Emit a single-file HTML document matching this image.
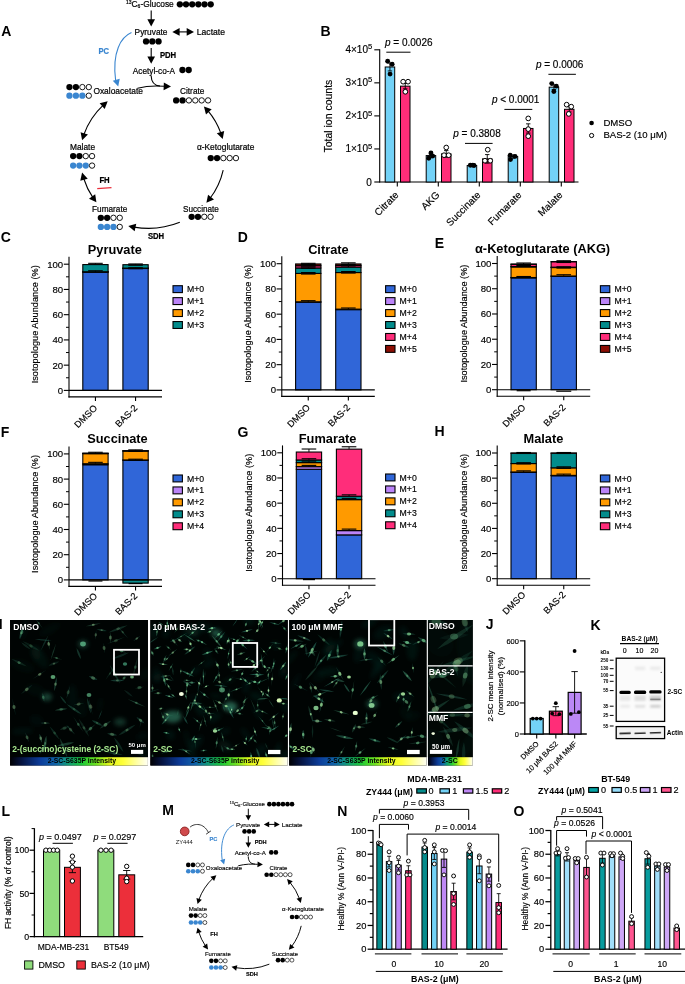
<!DOCTYPE html>
<html><head><meta charset="utf-8"><title>Figure</title>
<style>html,body{margin:0;padding:0;background:#fff}svg{display:block}text{font-family:"Liberation Sans",sans-serif}.t{stroke:#000;stroke-width:.16px}</style>
</head><body>
<svg width="685" height="984" viewBox="0 0 685 984">
<rect width="685" height="984" fill="#fff"/>
<text x="1.20" y="36.00" font-size="14" font-weight="bold">A</text>
<g>
<text x="126.00" y="6.70" font-size="8.35" stroke="#000" stroke-width="0.2"><tspan font-size="5" dy="-2.9">13</tspan><tspan dy="2.9">C</tspan><tspan font-size="5" dy="1.3">6</tspan><tspan dy="-1.3">-Glucose</tspan></text>
<circle cx="179.85" cy="4.30" r="3.15" fill="#000"/>
<circle cx="186.02" cy="4.30" r="3.15" fill="#000"/>
<circle cx="192.19" cy="4.30" r="3.15" fill="#000"/>
<circle cx="198.36" cy="4.30" r="3.15" fill="#000"/>
<circle cx="204.53" cy="4.30" r="3.15" fill="#000"/>
<circle cx="210.70" cy="4.30" r="3.15" fill="#000"/>
<line x1="151.20" y1="10.60" x2="151.20" y2="21.60" stroke="#000" stroke-width="1.1"/>
<polygon points="151.20,26.60 147.35,19.30 155.05,19.30" fill="#000"/>
<text x="134.60" y="35.10" font-size="8.2" textLength="32.9" lengthAdjust="spacingAndGlyphs" stroke="#000" stroke-width="0.2">Pyruvate</text>
<circle cx="146.05" cy="41.40" r="3.15" fill="#000"/>
<circle cx="152.30" cy="41.40" r="3.15" fill="#000"/>
<circle cx="158.55" cy="41.40" r="3.15" fill="#000"/>
<line x1="178.00" y1="31.90" x2="188.50" y2="31.90" stroke="#000" stroke-width="1.1"/>
<polygon points="172.30,31.90 179.60,28.05 179.60,35.75" fill="#000"/>
<polygon points="194.00,31.90 186.70,35.75 186.70,28.05" fill="#000"/>
<text x="196.80" y="35.10" font-size="8.2" textLength="28.2" lengthAdjust="spacingAndGlyphs" stroke="#000" stroke-width="0.2">Lactate</text>
<line x1="151.20" y1="48.00" x2="151.20" y2="58.70" stroke="#000" stroke-width="1.1"/>
<polygon points="151.20,63.70 147.35,56.40 155.05,56.40" fill="#000"/>
<text x="159.90" y="58.20" font-size="8.2" textLength="16.3" lengthAdjust="spacingAndGlyphs" font-weight="bold" stroke="#000" stroke-width="0.2">PDH</text>
<text x="132.80" y="73.50" font-size="8.2" textLength="42.2" lengthAdjust="spacingAndGlyphs" stroke="#000" stroke-width="0.2">Acetyl-co-A</text>
<circle cx="182.45" cy="70.00" r="3.15" fill="#000"/>
<circle cx="188.70" cy="70.00" r="3.15" fill="#000"/>
<path d="M131.5,32.6 C121,37 112,52 115.6,80" fill="none" stroke="#3a86d0" stroke-width="1.1"/>
<polygon points="118.20,86.60 112.79,80.64 119.73,78.70" fill="#3a86d0"/>
<text x="98.40" y="53.90" font-size="8.2" textLength="10.6" lengthAdjust="spacingAndGlyphs" font-weight="bold" fill="#3a86d0" stroke="#3a86d0" stroke-width="0.2">PC</text>
<circle cx="69.45" cy="87.10" r="3.15" fill="#000"/>
<circle cx="75.90" cy="87.10" r="3.15" fill="#000"/>
<circle cx="82.35" cy="87.10" r="2.70" fill="#fff" stroke="#000" stroke-width="0.9"/>
<circle cx="88.80" cy="87.10" r="2.70" fill="#fff" stroke="#000" stroke-width="0.9"/>
<circle cx="69.45" cy="95.70" r="3.15" fill="#3a86d0"/>
<circle cx="75.90" cy="95.70" r="3.15" fill="#3a86d0"/>
<circle cx="82.35" cy="95.70" r="3.15" fill="#3a86d0"/>
<circle cx="88.80" cy="95.70" r="2.70" fill="#fff" stroke="#000" stroke-width="0.9"/>
<text x="93.40" y="94.10" font-size="8.2" textLength="49.5" lengthAdjust="spacingAndGlyphs" stroke="#000" stroke-width="0.2">Oxaloacetate</text>
<path d="M137.5,88.2 C147,85.8 156,85.6 164,86.3" fill="none" stroke="#000" stroke-width="1.1"/>
<polygon points="171.00,86.60 163.55,90.16 163.86,82.46" fill="#000"/>
<path d="M151.1,75.5 C151.3,82 154,85.6 160,86" fill="none" stroke="#000" stroke-width="1.1"/>
<text x="180.00" y="94.10" font-size="8.2" textLength="24.4" lengthAdjust="spacingAndGlyphs" stroke="#000" stroke-width="0.2">Citrate</text>
<circle cx="176.15" cy="100.40" r="3.15" fill="#000"/>
<circle cx="182.53" cy="100.40" r="3.15" fill="#000"/>
<circle cx="188.91" cy="100.40" r="2.70" fill="#fff" stroke="#000" stroke-width="0.9"/>
<circle cx="195.29" cy="100.40" r="2.70" fill="#fff" stroke="#000" stroke-width="0.9"/>
<circle cx="201.67" cy="100.40" r="2.70" fill="#fff" stroke="#000" stroke-width="0.9"/>
<circle cx="208.05" cy="100.40" r="2.70" fill="#fff" stroke="#000" stroke-width="0.9"/>
<path d="M207.84,110.71 A74,74 0 0 1 220.94,133.43" fill="none" stroke="#000" stroke-width="1.1"/>
<polygon points="222.70,139.00 216.83,133.20 224.18,130.88" fill="#000"/>
<polygon points="203.90,106.40 211.67,109.19 205.99,114.39" fill="#000"/>
<text x="196.90" y="149.70" font-size="8.2" textLength="57.4" lengthAdjust="spacingAndGlyphs" stroke="#000" stroke-width="0.2">α-Ketoglutarate</text>
<circle cx="210.75" cy="158.10" r="3.15" fill="#000"/>
<circle cx="217.05" cy="158.10" r="3.15" fill="#000"/>
<circle cx="223.35" cy="158.10" r="2.70" fill="#fff" stroke="#000" stroke-width="0.9"/>
<circle cx="229.65" cy="158.10" r="2.70" fill="#fff" stroke="#000" stroke-width="0.9"/>
<circle cx="235.95" cy="158.10" r="2.70" fill="#fff" stroke="#000" stroke-width="0.9"/>
<path d="M223.20,170.10 A74,74 0 0 1 210.10,198.28" fill="none" stroke="#000" stroke-width="1.1"/>
<polygon points="206.40,202.80 208.05,194.71 214.00,199.59" fill="#000"/>
<text x="183.00" y="211.70" font-size="8.2" textLength="35.9" lengthAdjust="spacingAndGlyphs" stroke="#000" stroke-width="0.2">Succinate</text>
<circle cx="191.65" cy="216.80" r="3.15" fill="#000"/>
<circle cx="197.95" cy="216.80" r="3.15" fill="#000"/>
<circle cx="204.25" cy="216.80" r="2.70" fill="#fff" stroke="#000" stroke-width="0.9"/>
<circle cx="210.55" cy="216.80" r="2.70" fill="#fff" stroke="#000" stroke-width="0.9"/>
<path d="M179.80,222.30 A84,84 0 0 1 134.01,227.10" fill="none" stroke="#000" stroke-width="1.1"/>
<polygon points="128.30,225.90 136.24,223.64 134.65,231.17" fill="#000"/>
<text x="147.90" y="238.80" font-size="8.2" textLength="16.3" lengthAdjust="spacingAndGlyphs" font-weight="bold" stroke="#000" stroke-width="0.2">SDH</text>
<text x="92.10" y="211.70" font-size="8.2" textLength="35.2" lengthAdjust="spacingAndGlyphs" stroke="#000" stroke-width="0.2">Fumarate</text>
<circle cx="100.85" cy="217.80" r="3.15" fill="#000"/>
<circle cx="107.15" cy="217.80" r="3.15" fill="#000"/>
<circle cx="113.45" cy="217.80" r="2.70" fill="#fff" stroke="#000" stroke-width="0.9"/>
<circle cx="119.75" cy="217.80" r="2.70" fill="#fff" stroke="#000" stroke-width="0.9"/>
<circle cx="100.85" cy="226.90" r="3.15" fill="#3a86d0"/>
<circle cx="107.15" cy="226.90" r="3.15" fill="#3a86d0"/>
<circle cx="113.45" cy="226.90" r="3.15" fill="#3a86d0"/>
<circle cx="119.75" cy="226.90" r="2.70" fill="#fff" stroke="#000" stroke-width="0.9"/>
<path d="M92.94,197.60 A74,74 0 0 1 83.62,178.24" fill="none" stroke="#000" stroke-width="1.1"/>
<polygon points="82.10,172.60 87.72,178.64 80.28,180.65" fill="#000"/>
<polygon points="96.40,202.30 88.97,198.70 95.18,194.14" fill="#000"/>
<text x="99.40" y="183.40" font-size="8.2" textLength="10.3" lengthAdjust="spacingAndGlyphs" font-weight="bold" stroke="#000" stroke-width="0.2">FH</text>
<line x1="97.20" y1="188.60" x2="111.50" y2="187.60" stroke="#ea2f3c" stroke-width="1.4"/>
<text x="70.00" y="149.70" font-size="8.2" textLength="25.1" lengthAdjust="spacingAndGlyphs" stroke="#000" stroke-width="0.2">Malate</text>
<circle cx="73.15" cy="156.10" r="3.15" fill="#000"/>
<circle cx="79.45" cy="156.10" r="3.15" fill="#000"/>
<circle cx="85.75" cy="156.10" r="2.70" fill="#fff" stroke="#000" stroke-width="0.9"/>
<circle cx="92.05" cy="156.10" r="2.70" fill="#fff" stroke="#000" stroke-width="0.9"/>
<circle cx="73.15" cy="165.60" r="3.15" fill="#3a86d0"/>
<circle cx="79.45" cy="165.60" r="3.15" fill="#3a86d0"/>
<circle cx="85.75" cy="165.60" r="3.15" fill="#3a86d0"/>
<circle cx="92.05" cy="165.60" r="2.70" fill="#fff" stroke="#000" stroke-width="0.9"/>
<path d="M83.82,134.72 A74,74 0 0 1 103.27,105.10" fill="none" stroke="#000" stroke-width="1.1"/>
<polygon points="107.70,101.30 104.66,108.97 99.65,103.13" fill="#000"/>
<polygon points="82.10,140.30 80.58,132.19 87.93,134.46" fill="#000"/>
</g>
<text x="320.60" y="35.60" font-size="14" font-weight="bold">B</text>
<line x1="379.70" y1="49.30" x2="379.70" y2="182.50" stroke="#000" stroke-width="1.1"/>
<line x1="379.20" y1="182.00" x2="578.50" y2="182.00" stroke="#000" stroke-width="1.1"/>
<line x1="374.30" y1="182.00" x2="379.70" y2="182.00" stroke="#000" stroke-width="1.1"/>
<text x="371.90" y="185.50" font-size="10" text-anchor="end" class="t">0</text>
<line x1="374.30" y1="148.95" x2="379.70" y2="148.95" stroke="#000" stroke-width="1.1"/>
<text x="372.20" y="152.45" font-size="10" text-anchor="end" class="t">1×10<tspan font-size="7.6" dy="-3.9">5</tspan></text>
<line x1="374.30" y1="115.90" x2="379.70" y2="115.90" stroke="#000" stroke-width="1.1"/>
<text x="372.20" y="119.40" font-size="10" text-anchor="end" class="t">2×10<tspan font-size="7.6" dy="-3.9">5</tspan></text>
<line x1="374.30" y1="82.85" x2="379.70" y2="82.85" stroke="#000" stroke-width="1.1"/>
<text x="372.20" y="86.35" font-size="10" text-anchor="end" class="t">3×10<tspan font-size="7.6" dy="-3.9">5</tspan></text>
<line x1="374.30" y1="49.80" x2="379.70" y2="49.80" stroke="#000" stroke-width="1.1"/>
<text x="372.20" y="53.30" font-size="10" text-anchor="end" class="t">4×10<tspan font-size="7.6" dy="-3.9">5</tspan></text>
<text x="331.70" y="116.10" font-size="10.5" text-anchor="middle" transform="rotate(-90 331.70 116.10)" class="t">Total ion counts</text>
<rect x="385.20" y="66.99" width="9.50" height="115.01" fill="#73d2f7" stroke="#000" stroke-width="1.0"/>
<rect x="400.50" y="86.16" width="9.50" height="95.84" fill="#ff2d78" stroke="#000" stroke-width="1.0"/>
<line x1="389.95" y1="63.02" x2="389.95" y2="70.95" stroke="#000" stroke-width="0.9"/>
<line x1="387.75" y1="63.02" x2="392.15" y2="63.02" stroke="#000" stroke-width="0.9"/>
<line x1="387.75" y1="70.95" x2="392.15" y2="70.95" stroke="#000" stroke-width="0.9"/>
<line x1="405.25" y1="83.51" x2="405.25" y2="88.80" stroke="#000" stroke-width="0.9"/>
<line x1="403.05" y1="83.51" x2="407.45" y2="83.51" stroke="#000" stroke-width="0.9"/>
<line x1="403.05" y1="88.80" x2="407.45" y2="88.80" stroke="#000" stroke-width="0.9"/>
<circle cx="387.65" cy="61.20" r="2.45" fill="#000"/>
<circle cx="392.15" cy="64.21" r="2.45" fill="#000"/>
<circle cx="390.05" cy="74.09" r="2.45" fill="#000"/>
<circle cx="403.15" cy="81.69" r="2.35" fill="#fff" stroke="#000" stroke-width="1.0"/>
<circle cx="408.05" cy="81.69" r="2.35" fill="#fff" stroke="#000" stroke-width="1.0"/>
<circle cx="405.35" cy="91.77" r="2.35" fill="#fff" stroke="#000" stroke-width="1.0"/>
<line x1="397.30" y1="182.00" x2="397.30" y2="186.50" stroke="#000" stroke-width="1.1"/>
<text x="399.30" y="195.60" font-size="10" text-anchor="end" transform="rotate(-45 399.30 195.60)" class="t">Citrate</text>
<rect x="426.20" y="155.56" width="9.50" height="26.44" fill="#73d2f7" stroke="#000" stroke-width="1.0"/>
<rect x="441.50" y="153.91" width="9.50" height="28.09" fill="#ff2d78" stroke="#000" stroke-width="1.0"/>
<line x1="430.95" y1="153.91" x2="430.95" y2="157.21" stroke="#000" stroke-width="0.9"/>
<line x1="428.75" y1="153.91" x2="433.15" y2="153.91" stroke="#000" stroke-width="0.9"/>
<line x1="428.75" y1="157.21" x2="433.15" y2="157.21" stroke="#000" stroke-width="0.9"/>
<line x1="446.25" y1="150.60" x2="446.25" y2="157.21" stroke="#000" stroke-width="0.9"/>
<line x1="444.05" y1="150.60" x2="448.45" y2="150.60" stroke="#000" stroke-width="0.9"/>
<line x1="444.05" y1="157.21" x2="448.45" y2="157.21" stroke="#000" stroke-width="0.9"/>
<circle cx="430.95" cy="153.02" r="2.45" fill="#000"/>
<circle cx="428.75" cy="158.20" r="2.45" fill="#000"/>
<circle cx="432.75" cy="156.09" r="2.45" fill="#000"/>
<circle cx="446.25" cy="147.50" r="2.35" fill="#fff" stroke="#000" stroke-width="1.0"/>
<circle cx="444.05" cy="155.20" r="2.35" fill="#fff" stroke="#000" stroke-width="1.0"/>
<circle cx="448.65" cy="155.20" r="2.35" fill="#fff" stroke="#000" stroke-width="1.0"/>
<line x1="438.30" y1="182.00" x2="438.30" y2="186.50" stroke="#000" stroke-width="1.1"/>
<text x="440.30" y="195.60" font-size="10" text-anchor="end" transform="rotate(-45 440.30 195.60)" class="t">AKG</text>
<rect x="467.20" y="165.47" width="9.50" height="16.53" fill="#73d2f7" stroke="#000" stroke-width="1.0"/>
<rect x="482.50" y="158.87" width="9.50" height="23.13" fill="#ff2d78" stroke="#000" stroke-width="1.0"/>
<line x1="471.95" y1="164.48" x2="471.95" y2="166.47" stroke="#000" stroke-width="0.9"/>
<line x1="469.75" y1="164.48" x2="474.15" y2="164.48" stroke="#000" stroke-width="0.9"/>
<line x1="469.75" y1="166.47" x2="474.15" y2="166.47" stroke="#000" stroke-width="0.9"/>
<line x1="487.25" y1="154.57" x2="487.25" y2="163.16" stroke="#000" stroke-width="0.9"/>
<line x1="485.05" y1="154.57" x2="489.45" y2="154.57" stroke="#000" stroke-width="0.9"/>
<line x1="485.05" y1="163.16" x2="489.45" y2="163.16" stroke="#000" stroke-width="0.9"/>
<circle cx="470.35" cy="165.31" r="2.45" fill="#000"/>
<circle cx="472.85" cy="165.14" r="2.45" fill="#000"/>
<circle cx="474.05" cy="165.47" r="2.45" fill="#000"/>
<circle cx="487.75" cy="149.71" r="2.35" fill="#fff" stroke="#000" stroke-width="1.0"/>
<circle cx="484.95" cy="160.72" r="2.35" fill="#fff" stroke="#000" stroke-width="1.0"/>
<circle cx="490.25" cy="160.72" r="2.35" fill="#fff" stroke="#000" stroke-width="1.0"/>
<line x1="479.30" y1="182.00" x2="479.30" y2="186.50" stroke="#000" stroke-width="1.1"/>
<text x="481.30" y="195.60" font-size="10" text-anchor="end" transform="rotate(-45 481.30 195.60)" class="t">Succinate</text>
<rect x="508.20" y="156.55" width="9.50" height="25.45" fill="#73d2f7" stroke="#000" stroke-width="1.0"/>
<rect x="523.50" y="128.46" width="9.50" height="53.54" fill="#ff2d78" stroke="#000" stroke-width="1.0"/>
<line x1="512.95" y1="154.90" x2="512.95" y2="158.20" stroke="#000" stroke-width="0.9"/>
<line x1="510.75" y1="154.90" x2="515.15" y2="154.90" stroke="#000" stroke-width="0.9"/>
<line x1="510.75" y1="158.20" x2="515.15" y2="158.20" stroke="#000" stroke-width="0.9"/>
<line x1="528.25" y1="123.83" x2="528.25" y2="133.09" stroke="#000" stroke-width="0.9"/>
<line x1="526.05" y1="123.83" x2="530.45" y2="123.83" stroke="#000" stroke-width="0.9"/>
<line x1="526.05" y1="133.09" x2="530.45" y2="133.09" stroke="#000" stroke-width="0.9"/>
<circle cx="510.15" cy="155.23" r="2.45" fill="#000"/>
<circle cx="515.05" cy="156.39" r="2.45" fill="#000"/>
<circle cx="510.45" cy="159.53" r="2.45" fill="#000"/>
<circle cx="528.25" cy="118.41" r="2.35" fill="#fff" stroke="#000" stroke-width="1.0"/>
<circle cx="528.25" cy="129.12" r="2.35" fill="#fff" stroke="#000" stroke-width="1.0"/>
<circle cx="528.25" cy="136.19" r="2.35" fill="#fff" stroke="#000" stroke-width="1.0"/>
<line x1="520.30" y1="182.00" x2="520.30" y2="186.50" stroke="#000" stroke-width="1.1"/>
<text x="522.30" y="195.60" font-size="10" text-anchor="end" transform="rotate(-45 522.30 195.60)" class="t">Fumarate</text>
<rect x="549.20" y="87.15" width="9.50" height="94.85" fill="#73d2f7" stroke="#000" stroke-width="1.0"/>
<rect x="564.50" y="109.29" width="9.50" height="72.71" fill="#ff2d78" stroke="#000" stroke-width="1.0"/>
<line x1="553.95" y1="84.83" x2="553.95" y2="89.46" stroke="#000" stroke-width="0.9"/>
<line x1="551.75" y1="84.83" x2="556.15" y2="84.83" stroke="#000" stroke-width="0.9"/>
<line x1="551.75" y1="89.46" x2="556.15" y2="89.46" stroke="#000" stroke-width="0.9"/>
<line x1="569.25" y1="106.65" x2="569.25" y2="111.93" stroke="#000" stroke-width="0.9"/>
<line x1="567.05" y1="106.65" x2="571.45" y2="106.65" stroke="#000" stroke-width="0.9"/>
<line x1="567.05" y1="111.93" x2="571.45" y2="111.93" stroke="#000" stroke-width="0.9"/>
<circle cx="551.75" cy="83.61" r="2.45" fill="#000"/>
<circle cx="556.35" cy="86.16" r="2.45" fill="#000"/>
<circle cx="553.85" cy="91.44" r="2.45" fill="#000"/>
<circle cx="566.65" cy="104.66" r="2.35" fill="#fff" stroke="#000" stroke-width="1.0"/>
<circle cx="571.25" cy="106.65" r="2.35" fill="#fff" stroke="#000" stroke-width="1.0"/>
<circle cx="568.75" cy="113.92" r="2.35" fill="#fff" stroke="#000" stroke-width="1.0"/>
<line x1="561.30" y1="182.00" x2="561.30" y2="186.50" stroke="#000" stroke-width="1.1"/>
<text x="563.30" y="195.60" font-size="10" text-anchor="end" transform="rotate(-45 563.30 195.60)" class="t">Malate</text>
<text x="385.00" y="46.30" font-size="10" class="t"><tspan font-style="italic">p</tspan> = 0.0026</text>
<line x1="386.30" y1="52.20" x2="410.50" y2="52.20" stroke="#000" stroke-width="1.0"/>
<text x="453.20" y="136.60" font-size="10" class="t"><tspan font-style="italic">p</tspan> = 0.3808</text>
<line x1="465.00" y1="143.40" x2="492.60" y2="143.40" stroke="#000" stroke-width="1.0"/>
<text x="491.90" y="102.60" font-size="10" class="t"><tspan font-style="italic">p</tspan> &lt; 0.0001</text>
<line x1="504.40" y1="109.40" x2="532.30" y2="109.40" stroke="#000" stroke-width="1.0"/>
<text x="535.90" y="67.60" font-size="10" class="t"><tspan font-style="italic">p</tspan> = 0.0006</text>
<line x1="548.40" y1="74.30" x2="575.90" y2="74.30" stroke="#000" stroke-width="1.0"/>
<circle cx="591.60" cy="123.00" r="2.30" fill="#000"/>
<text x="603.40" y="125.90" font-size="9.6" class="t">DMSO</text>
<circle cx="591.60" cy="135.50" r="2.10" fill="#fff" stroke="#000" stroke-width="1.0"/>
<text x="603.40" y="138.40" font-size="9.6" class="t">BAS-2 (10 μM)</text>
<text x="0.80" y="242.20" font-size="14" font-weight="bold">C</text>
<text x="114.80" y="253.80" font-size="12.8" text-anchor="middle" font-weight="bold">Pyruvate</text>
<rect x="82.80" y="272.15" width="25.30" height="118.25" fill="#3066d8" stroke="#000" stroke-width="1.1"/>
<rect x="82.80" y="271.90" width="25.30" height="0.25" fill="#bb84f8" stroke="#000" stroke-width="1.1"/>
<rect x="82.80" y="271.77" width="25.30" height="0.13" fill="#ff9a00" stroke="#000" stroke-width="1.1"/>
<rect x="82.80" y="264.58" width="25.30" height="7.19" fill="#028c8c" stroke="#000" stroke-width="1.1"/>
<rect x="122.90" y="268.49" width="25.30" height="121.91" fill="#3066d8" stroke="#000" stroke-width="1.1"/>
<rect x="122.90" y="268.24" width="25.30" height="0.25" fill="#bb84f8" stroke="#000" stroke-width="1.1"/>
<rect x="122.90" y="268.11" width="25.30" height="0.13" fill="#ff9a00" stroke="#000" stroke-width="1.1"/>
<rect x="122.90" y="264.70" width="25.30" height="3.41" fill="#028c8c" stroke="#000" stroke-width="1.1"/>
<line x1="95.45" y1="271.90" x2="95.45" y2="270.76" stroke="#000" stroke-width="0.9"/>
<line x1="88.15" y1="270.76" x2="102.75" y2="270.76" stroke="#000" stroke-width="1.1"/>
<line x1="95.45" y1="264.45" x2="95.45" y2="263.32" stroke="#000" stroke-width="0.9"/>
<line x1="88.15" y1="263.32" x2="102.75" y2="263.32" stroke="#000" stroke-width="1.1"/>
<line x1="135.55" y1="268.24" x2="135.55" y2="267.73" stroke="#000" stroke-width="0.9"/>
<line x1="128.25" y1="267.73" x2="142.85" y2="267.73" stroke="#000" stroke-width="1.1"/>
<line x1="128.25" y1="268.74" x2="142.85" y2="268.74" stroke="#000" stroke-width="1.1"/>
<line x1="135.55" y1="264.58" x2="135.55" y2="263.95" stroke="#000" stroke-width="0.9"/>
<line x1="128.25" y1="263.95" x2="142.85" y2="263.95" stroke="#000" stroke-width="1.1"/>
<line x1="128.25" y1="265.21" x2="142.85" y2="265.21" stroke="#000" stroke-width="1.1"/>
<line x1="69.00" y1="256.80" x2="69.00" y2="397.45" stroke="#000" stroke-width="1.1"/>
<line x1="68.45" y1="396.90" x2="162.00" y2="396.90" stroke="#000" stroke-width="1.1"/>
<line x1="69.00" y1="390.40" x2="162.00" y2="390.40" stroke="#000" stroke-width="1.1"/>
<line x1="63.80" y1="390.40" x2="69.00" y2="390.40" stroke="#000" stroke-width="1.1"/>
<text x="63.20" y="393.80" font-size="9.6" text-anchor="end" class="t">0</text>
<line x1="66.00" y1="377.78" x2="69.00" y2="377.78" stroke="#000" stroke-width="1.0"/>
<line x1="63.80" y1="365.16" x2="69.00" y2="365.16" stroke="#000" stroke-width="1.1"/>
<text x="63.20" y="368.56" font-size="9.6" text-anchor="end" class="t">20</text>
<line x1="66.00" y1="352.54" x2="69.00" y2="352.54" stroke="#000" stroke-width="1.0"/>
<line x1="63.80" y1="339.92" x2="69.00" y2="339.92" stroke="#000" stroke-width="1.1"/>
<text x="63.20" y="343.32" font-size="9.6" text-anchor="end" class="t">40</text>
<line x1="66.00" y1="327.30" x2="69.00" y2="327.30" stroke="#000" stroke-width="1.0"/>
<line x1="63.80" y1="314.68" x2="69.00" y2="314.68" stroke="#000" stroke-width="1.1"/>
<text x="63.20" y="318.08" font-size="9.6" text-anchor="end" class="t">60</text>
<line x1="66.00" y1="302.06" x2="69.00" y2="302.06" stroke="#000" stroke-width="1.0"/>
<line x1="63.80" y1="289.44" x2="69.00" y2="289.44" stroke="#000" stroke-width="1.1"/>
<text x="63.20" y="292.84" font-size="9.6" text-anchor="end" class="t">80</text>
<line x1="66.00" y1="276.82" x2="69.00" y2="276.82" stroke="#000" stroke-width="1.0"/>
<line x1="63.80" y1="264.20" x2="69.00" y2="264.20" stroke="#000" stroke-width="1.1"/>
<text x="63.20" y="267.60" font-size="9.6" text-anchor="end" class="t">100</text>
<text x="38.40" y="324.30" font-size="9.2" text-anchor="middle" transform="rotate(-90 38.40 324.30)" class="t">Isotopologue Abundance (%)</text>
<line x1="95.45" y1="396.90" x2="95.45" y2="400.90" stroke="#000" stroke-width="1.1"/>
<text x="97.85" y="408.70" font-size="9.3" text-anchor="end" transform="rotate(-45 97.85 408.70)" class="t">DMSO</text>
<line x1="135.55" y1="396.90" x2="135.55" y2="400.90" stroke="#000" stroke-width="1.1"/>
<text x="137.95" y="408.70" font-size="9.3" text-anchor="end" transform="rotate(-45 137.95 408.70)" class="t">BAS-2</text>
<rect x="173.00" y="285.70" width="9.40" height="6.90" fill="#3066d8" stroke="#000" stroke-width="1.1"/>
<text x="187.00" y="292.20" font-size="8.7" class="t">M+0</text>
<rect x="173.00" y="297.65" width="9.40" height="6.90" fill="#bb84f8" stroke="#000" stroke-width="1.1"/>
<text x="187.00" y="304.15" font-size="8.7" class="t">M+1</text>
<rect x="173.00" y="309.60" width="9.40" height="6.90" fill="#ff9a00" stroke="#000" stroke-width="1.1"/>
<text x="187.00" y="316.10" font-size="8.7" class="t">M+2</text>
<rect x="173.00" y="321.55" width="9.40" height="6.90" fill="#028c8c" stroke="#000" stroke-width="1.1"/>
<text x="187.00" y="328.05" font-size="8.7" class="t">M+3</text>
<text x="237.80" y="242.20" font-size="14" font-weight="bold">D</text>
<text x="328.40" y="253.80" font-size="12.8" text-anchor="middle" font-weight="bold">Citrate</text>
<rect x="295.60" y="302.19" width="25.30" height="87.71" fill="#3066d8" stroke="#000" stroke-width="1.1"/>
<rect x="295.60" y="301.81" width="25.30" height="0.38" fill="#bb84f8" stroke="#000" stroke-width="1.1"/>
<rect x="295.60" y="273.42" width="25.30" height="28.40" fill="#ff9a00" stroke="#000" stroke-width="1.1"/>
<rect x="295.60" y="267.99" width="25.30" height="5.43" fill="#028c8c" stroke="#000" stroke-width="1.1"/>
<rect x="295.60" y="265.72" width="25.30" height="2.27" fill="#ff2d7a" stroke="#000" stroke-width="1.1"/>
<rect x="295.60" y="263.95" width="25.30" height="1.77" fill="#8c0e04" stroke="#000" stroke-width="1.1"/>
<rect x="335.70" y="309.64" width="25.30" height="80.26" fill="#3066d8" stroke="#000" stroke-width="1.1"/>
<rect x="335.70" y="309.13" width="25.30" height="0.50" fill="#bb84f8" stroke="#000" stroke-width="1.1"/>
<rect x="335.70" y="272.53" width="25.30" height="36.60" fill="#ff9a00" stroke="#000" stroke-width="1.1"/>
<rect x="335.70" y="267.11" width="25.30" height="5.43" fill="#028c8c" stroke="#000" stroke-width="1.1"/>
<rect x="335.70" y="265.47" width="25.30" height="1.64" fill="#ff2d7a" stroke="#000" stroke-width="1.1"/>
<rect x="335.70" y="263.95" width="25.30" height="1.51" fill="#8c0e04" stroke="#000" stroke-width="1.1"/>
<line x1="308.25" y1="301.81" x2="308.25" y2="300.68" stroke="#000" stroke-width="0.9"/>
<line x1="300.95" y1="300.68" x2="315.55" y2="300.68" stroke="#000" stroke-width="1.1"/>
<line x1="308.25" y1="273.29" x2="308.25" y2="272.53" stroke="#000" stroke-width="0.9"/>
<line x1="300.95" y1="272.53" x2="315.55" y2="272.53" stroke="#000" stroke-width="1.1"/>
<line x1="300.95" y1="274.05" x2="315.55" y2="274.05" stroke="#000" stroke-width="1.1"/>
<line x1="308.25" y1="267.74" x2="308.25" y2="267.11" stroke="#000" stroke-width="0.9"/>
<line x1="300.95" y1="267.11" x2="315.55" y2="267.11" stroke="#000" stroke-width="1.1"/>
<line x1="300.95" y1="268.37" x2="315.55" y2="268.37" stroke="#000" stroke-width="1.1"/>
<line x1="308.25" y1="265.47" x2="308.25" y2="264.84" stroke="#000" stroke-width="0.9"/>
<line x1="300.95" y1="264.84" x2="315.55" y2="264.84" stroke="#000" stroke-width="1.1"/>
<line x1="300.95" y1="266.10" x2="315.55" y2="266.10" stroke="#000" stroke-width="1.1"/>
<line x1="308.25" y1="263.95" x2="308.25" y2="263.32" stroke="#000" stroke-width="0.9"/>
<line x1="300.95" y1="263.32" x2="315.55" y2="263.32" stroke="#000" stroke-width="1.1"/>
<line x1="300.95" y1="264.58" x2="315.55" y2="264.58" stroke="#000" stroke-width="1.1"/>
<line x1="348.35" y1="309.13" x2="348.35" y2="308.00" stroke="#000" stroke-width="0.9"/>
<line x1="341.05" y1="308.00" x2="355.65" y2="308.00" stroke="#000" stroke-width="1.1"/>
<line x1="348.35" y1="272.28" x2="348.35" y2="271.52" stroke="#000" stroke-width="0.9"/>
<line x1="341.05" y1="271.52" x2="355.65" y2="271.52" stroke="#000" stroke-width="1.1"/>
<line x1="341.05" y1="273.04" x2="355.65" y2="273.04" stroke="#000" stroke-width="1.1"/>
<line x1="348.35" y1="267.11" x2="348.35" y2="265.09" stroke="#000" stroke-width="0.9"/>
<line x1="341.05" y1="265.09" x2="355.65" y2="265.09" stroke="#000" stroke-width="1.1"/>
<line x1="348.35" y1="265.21" x2="348.35" y2="264.46" stroke="#000" stroke-width="0.9"/>
<line x1="341.05" y1="264.46" x2="355.65" y2="264.46" stroke="#000" stroke-width="1.1"/>
<line x1="341.05" y1="265.97" x2="355.65" y2="265.97" stroke="#000" stroke-width="1.1"/>
<line x1="348.35" y1="263.83" x2="348.35" y2="262.82" stroke="#000" stroke-width="0.9"/>
<line x1="341.05" y1="262.82" x2="355.65" y2="262.82" stroke="#000" stroke-width="1.1"/>
<line x1="281.80" y1="256.30" x2="281.80" y2="396.95" stroke="#000" stroke-width="1.1"/>
<line x1="281.25" y1="396.40" x2="374.80" y2="396.40" stroke="#000" stroke-width="1.1"/>
<line x1="281.80" y1="389.90" x2="374.80" y2="389.90" stroke="#000" stroke-width="1.1"/>
<line x1="276.60" y1="389.90" x2="281.80" y2="389.90" stroke="#000" stroke-width="1.1"/>
<text x="276.00" y="393.30" font-size="9.6" text-anchor="end" class="t">0</text>
<line x1="278.80" y1="377.28" x2="281.80" y2="377.28" stroke="#000" stroke-width="1.0"/>
<line x1="276.60" y1="364.66" x2="281.80" y2="364.66" stroke="#000" stroke-width="1.1"/>
<text x="276.00" y="368.06" font-size="9.6" text-anchor="end" class="t">20</text>
<line x1="278.80" y1="352.04" x2="281.80" y2="352.04" stroke="#000" stroke-width="1.0"/>
<line x1="276.60" y1="339.42" x2="281.80" y2="339.42" stroke="#000" stroke-width="1.1"/>
<text x="276.00" y="342.82" font-size="9.6" text-anchor="end" class="t">40</text>
<line x1="278.80" y1="326.80" x2="281.80" y2="326.80" stroke="#000" stroke-width="1.0"/>
<line x1="276.60" y1="314.18" x2="281.80" y2="314.18" stroke="#000" stroke-width="1.1"/>
<text x="276.00" y="317.58" font-size="9.6" text-anchor="end" class="t">60</text>
<line x1="278.80" y1="301.56" x2="281.80" y2="301.56" stroke="#000" stroke-width="1.0"/>
<line x1="276.60" y1="288.94" x2="281.80" y2="288.94" stroke="#000" stroke-width="1.1"/>
<text x="276.00" y="292.34" font-size="9.6" text-anchor="end" class="t">80</text>
<line x1="278.80" y1="276.32" x2="281.80" y2="276.32" stroke="#000" stroke-width="1.0"/>
<line x1="276.60" y1="263.70" x2="281.80" y2="263.70" stroke="#000" stroke-width="1.1"/>
<text x="276.00" y="267.10" font-size="9.6" text-anchor="end" class="t">100</text>
<text x="251.20" y="323.80" font-size="9.2" text-anchor="middle" transform="rotate(-90 251.20 323.80)" class="t">Isotopologue Abundance (%)</text>
<line x1="308.25" y1="396.40" x2="308.25" y2="400.40" stroke="#000" stroke-width="1.1"/>
<text x="310.65" y="408.20" font-size="9.3" text-anchor="end" transform="rotate(-45 310.65 408.20)" class="t">DMSO</text>
<line x1="348.35" y1="396.40" x2="348.35" y2="400.40" stroke="#000" stroke-width="1.1"/>
<text x="350.75" y="408.20" font-size="9.3" text-anchor="end" transform="rotate(-45 350.75 408.20)" class="t">BAS-2</text>
<rect x="385.60" y="285.70" width="9.40" height="6.90" fill="#3066d8" stroke="#000" stroke-width="1.1"/>
<text x="399.60" y="292.20" font-size="8.7" class="t">M+0</text>
<rect x="385.60" y="297.65" width="9.40" height="6.90" fill="#bb84f8" stroke="#000" stroke-width="1.1"/>
<text x="399.60" y="304.15" font-size="8.7" class="t">M+1</text>
<rect x="385.60" y="309.60" width="9.40" height="6.90" fill="#ff9a00" stroke="#000" stroke-width="1.1"/>
<text x="399.60" y="316.10" font-size="8.7" class="t">M+2</text>
<rect x="385.60" y="321.55" width="9.40" height="6.90" fill="#028c8c" stroke="#000" stroke-width="1.1"/>
<text x="399.60" y="328.05" font-size="8.7" class="t">M+3</text>
<rect x="385.60" y="333.50" width="9.40" height="6.90" fill="#ff2d7a" stroke="#000" stroke-width="1.1"/>
<text x="399.60" y="340.00" font-size="8.7" class="t">M+4</text>
<rect x="385.60" y="345.45" width="9.40" height="6.90" fill="#8c0e04" stroke="#000" stroke-width="1.1"/>
<text x="399.60" y="351.95" font-size="8.7" class="t">M+5</text>
<text x="434.80" y="247.60" font-size="14" font-weight="bold">E</text>
<text x="475.00" y="252.80" font-size="12.8" font-weight="bold">α-Ketoglutarate (AKG)</text>
<rect x="511.00" y="277.89" width="25.30" height="111.81" fill="#3066d8" stroke="#000" stroke-width="1.1"/>
<rect x="511.00" y="277.51" width="25.30" height="0.38" fill="#bb84f8" stroke="#000" stroke-width="1.1"/>
<rect x="511.00" y="266.91" width="25.30" height="10.60" fill="#ff9a00" stroke="#000" stroke-width="1.1"/>
<rect x="511.00" y="266.53" width="25.30" height="0.38" fill="#028c8c" stroke="#000" stroke-width="1.1"/>
<rect x="511.00" y="264.38" width="25.30" height="2.15" fill="#ff2d7a" stroke="#000" stroke-width="1.1"/>
<rect x="511.00" y="264.00" width="25.30" height="0.38" fill="#8c0e04" stroke="#000" stroke-width="1.1"/>
<rect x="551.10" y="276.37" width="25.30" height="113.33" fill="#3066d8" stroke="#000" stroke-width="1.1"/>
<rect x="551.10" y="275.99" width="25.30" height="0.38" fill="#bb84f8" stroke="#000" stroke-width="1.1"/>
<rect x="551.10" y="267.54" width="25.30" height="8.46" fill="#ff9a00" stroke="#000" stroke-width="1.1"/>
<rect x="551.10" y="267.16" width="25.30" height="0.38" fill="#028c8c" stroke="#000" stroke-width="1.1"/>
<rect x="551.10" y="261.73" width="25.30" height="5.43" fill="#ff2d7a" stroke="#000" stroke-width="1.1"/>
<rect x="551.10" y="261.61" width="25.30" height="0.13" fill="#8c0e04" stroke="#000" stroke-width="1.1"/>
<line x1="516.65" y1="390.70" x2="530.65" y2="390.70" stroke="#000" stroke-width="1.2"/>
<line x1="556.25" y1="391.20" x2="571.25" y2="391.20" stroke="#000" stroke-width="1.2"/>
<line x1="523.65" y1="277.51" x2="523.65" y2="276.50" stroke="#000" stroke-width="0.9"/>
<line x1="516.35" y1="276.50" x2="530.95" y2="276.50" stroke="#000" stroke-width="1.1"/>
<line x1="523.65" y1="266.53" x2="523.65" y2="265.52" stroke="#000" stroke-width="0.9"/>
<line x1="516.35" y1="265.52" x2="530.95" y2="265.52" stroke="#000" stroke-width="1.1"/>
<line x1="523.65" y1="265.52" x2="523.65" y2="264.51" stroke="#000" stroke-width="0.9"/>
<line x1="516.35" y1="264.51" x2="530.95" y2="264.51" stroke="#000" stroke-width="1.1"/>
<line x1="523.65" y1="264.00" x2="523.65" y2="263.00" stroke="#000" stroke-width="0.9"/>
<line x1="516.35" y1="263.00" x2="530.95" y2="263.00" stroke="#000" stroke-width="1.1"/>
<line x1="563.75" y1="275.74" x2="563.75" y2="274.73" stroke="#000" stroke-width="0.9"/>
<line x1="556.45" y1="274.73" x2="571.05" y2="274.73" stroke="#000" stroke-width="1.1"/>
<line x1="563.75" y1="267.41" x2="563.75" y2="266.78" stroke="#000" stroke-width="0.9"/>
<line x1="556.45" y1="266.78" x2="571.05" y2="266.78" stroke="#000" stroke-width="1.1"/>
<line x1="556.45" y1="268.04" x2="571.05" y2="268.04" stroke="#000" stroke-width="1.1"/>
<line x1="563.75" y1="261.61" x2="563.75" y2="260.72" stroke="#000" stroke-width="0.9"/>
<line x1="556.45" y1="260.72" x2="571.05" y2="260.72" stroke="#000" stroke-width="1.1"/>
<line x1="556.45" y1="262.49" x2="571.05" y2="262.49" stroke="#000" stroke-width="1.1"/>
<line x1="497.20" y1="256.10" x2="497.20" y2="396.75" stroke="#000" stroke-width="1.1"/>
<line x1="496.65" y1="396.20" x2="590.20" y2="396.20" stroke="#000" stroke-width="1.1"/>
<line x1="497.20" y1="389.70" x2="590.20" y2="389.70" stroke="#000" stroke-width="1.1"/>
<line x1="492.00" y1="389.70" x2="497.20" y2="389.70" stroke="#000" stroke-width="1.1"/>
<text x="491.40" y="393.10" font-size="9.6" text-anchor="end" class="t">0</text>
<line x1="494.20" y1="377.08" x2="497.20" y2="377.08" stroke="#000" stroke-width="1.0"/>
<line x1="492.00" y1="364.46" x2="497.20" y2="364.46" stroke="#000" stroke-width="1.1"/>
<text x="491.40" y="367.86" font-size="9.6" text-anchor="end" class="t">20</text>
<line x1="494.20" y1="351.84" x2="497.20" y2="351.84" stroke="#000" stroke-width="1.0"/>
<line x1="492.00" y1="339.22" x2="497.20" y2="339.22" stroke="#000" stroke-width="1.1"/>
<text x="491.40" y="342.62" font-size="9.6" text-anchor="end" class="t">40</text>
<line x1="494.20" y1="326.60" x2="497.20" y2="326.60" stroke="#000" stroke-width="1.0"/>
<line x1="492.00" y1="313.98" x2="497.20" y2="313.98" stroke="#000" stroke-width="1.1"/>
<text x="491.40" y="317.38" font-size="9.6" text-anchor="end" class="t">60</text>
<line x1="494.20" y1="301.36" x2="497.20" y2="301.36" stroke="#000" stroke-width="1.0"/>
<line x1="492.00" y1="288.74" x2="497.20" y2="288.74" stroke="#000" stroke-width="1.1"/>
<text x="491.40" y="292.14" font-size="9.6" text-anchor="end" class="t">80</text>
<line x1="494.20" y1="276.12" x2="497.20" y2="276.12" stroke="#000" stroke-width="1.0"/>
<line x1="492.00" y1="263.50" x2="497.20" y2="263.50" stroke="#000" stroke-width="1.1"/>
<text x="491.40" y="266.90" font-size="9.6" text-anchor="end" class="t">100</text>
<text x="466.60" y="323.60" font-size="9.2" text-anchor="middle" transform="rotate(-90 466.60 323.60)" class="t">Isotopologue Abundance (%)</text>
<line x1="523.65" y1="396.20" x2="523.65" y2="400.20" stroke="#000" stroke-width="1.1"/>
<text x="526.05" y="408.00" font-size="9.3" text-anchor="end" transform="rotate(-45 526.05 408.00)" class="t">DMSO</text>
<line x1="563.75" y1="396.20" x2="563.75" y2="400.20" stroke="#000" stroke-width="1.1"/>
<text x="566.15" y="408.00" font-size="9.3" text-anchor="end" transform="rotate(-45 566.15 408.00)" class="t">BAS-2</text>
<rect x="600.40" y="285.70" width="9.40" height="6.90" fill="#3066d8" stroke="#000" stroke-width="1.1"/>
<text x="614.40" y="292.20" font-size="8.7" class="t">M+0</text>
<rect x="600.40" y="297.65" width="9.40" height="6.90" fill="#bb84f8" stroke="#000" stroke-width="1.1"/>
<text x="614.40" y="304.15" font-size="8.7" class="t">M+1</text>
<rect x="600.40" y="309.60" width="9.40" height="6.90" fill="#ff9a00" stroke="#000" stroke-width="1.1"/>
<text x="614.40" y="316.10" font-size="8.7" class="t">M+2</text>
<rect x="600.40" y="321.55" width="9.40" height="6.90" fill="#028c8c" stroke="#000" stroke-width="1.1"/>
<text x="614.40" y="328.05" font-size="8.7" class="t">M+3</text>
<rect x="600.40" y="333.50" width="9.40" height="6.90" fill="#ff2d7a" stroke="#000" stroke-width="1.1"/>
<text x="614.40" y="340.00" font-size="8.7" class="t">M+4</text>
<rect x="600.40" y="345.45" width="9.40" height="6.90" fill="#8c0e04" stroke="#000" stroke-width="1.1"/>
<text x="614.40" y="351.95" font-size="8.7" class="t">M+5</text>
<text x="0.80" y="437.30" font-size="14" font-weight="bold">F</text>
<text x="117.50" y="443.20" font-size="12.8" text-anchor="middle" font-weight="bold">Succinate</text>
<rect x="82.80" y="464.74" width="25.30" height="115.16" fill="#3066d8" stroke="#000" stroke-width="1.1"/>
<rect x="82.80" y="463.73" width="25.30" height="1.01" fill="#bb84f8" stroke="#000" stroke-width="1.1"/>
<rect x="82.80" y="453.65" width="25.30" height="10.08" fill="#ff9a00" stroke="#000" stroke-width="1.1"/>
<rect x="82.80" y="453.40" width="25.30" height="0.25" fill="#028c8c" stroke="#000" stroke-width="1.1"/>
<rect x="82.80" y="453.14" width="25.30" height="0.25" fill="#ff2d7a" stroke="#000" stroke-width="1.1"/>
<rect x="122.90" y="460.33" width="25.30" height="119.57" fill="#3066d8" stroke="#000" stroke-width="1.1"/>
<rect x="122.90" y="459.95" width="25.30" height="0.38" fill="#bb84f8" stroke="#000" stroke-width="1.1"/>
<rect x="122.90" y="451.00" width="25.30" height="8.95" fill="#ff9a00" stroke="#000" stroke-width="1.1"/>
<rect x="122.90" y="450.88" width="25.30" height="0.13" fill="#028c8c" stroke="#000" stroke-width="1.1"/>
<rect x="122.90" y="450.75" width="25.30" height="0.13" fill="#ff2d7a" stroke="#000" stroke-width="1.1"/>
<line x1="88.45" y1="581.00" x2="102.45" y2="581.00" stroke="#000" stroke-width="1.2"/>
<rect x="122.90" y="579.90" width="25.30" height="3.20" fill="#0a8c8c" stroke="#000" stroke-width="1.1"/>
<line x1="128.55" y1="583.60" x2="142.55" y2="583.60" stroke="#000" stroke-width="1.2"/>
<line x1="95.45" y1="463.48" x2="95.45" y2="462.34" stroke="#000" stroke-width="0.9"/>
<line x1="88.15" y1="462.34" x2="102.75" y2="462.34" stroke="#000" stroke-width="1.1"/>
<line x1="95.45" y1="452.89" x2="95.45" y2="452.26" stroke="#000" stroke-width="0.9"/>
<line x1="88.15" y1="452.26" x2="102.75" y2="452.26" stroke="#000" stroke-width="1.1"/>
<line x1="88.15" y1="453.52" x2="102.75" y2="453.52" stroke="#000" stroke-width="1.1"/>
<line x1="135.55" y1="459.82" x2="135.55" y2="459.19" stroke="#000" stroke-width="0.9"/>
<line x1="128.25" y1="459.19" x2="142.85" y2="459.19" stroke="#000" stroke-width="1.1"/>
<line x1="128.25" y1="460.45" x2="142.85" y2="460.45" stroke="#000" stroke-width="1.1"/>
<line x1="135.55" y1="450.62" x2="135.55" y2="449.87" stroke="#000" stroke-width="0.9"/>
<line x1="128.25" y1="449.87" x2="142.85" y2="449.87" stroke="#000" stroke-width="1.1"/>
<line x1="128.25" y1="451.38" x2="142.85" y2="451.38" stroke="#000" stroke-width="1.1"/>
<line x1="69.00" y1="446.50" x2="69.00" y2="586.95" stroke="#000" stroke-width="1.1"/>
<line x1="68.45" y1="586.40" x2="162.00" y2="586.40" stroke="#000" stroke-width="1.1"/>
<line x1="69.00" y1="579.90" x2="162.00" y2="579.90" stroke="#000" stroke-width="1.1"/>
<line x1="63.80" y1="579.90" x2="69.00" y2="579.90" stroke="#000" stroke-width="1.1"/>
<text x="63.20" y="583.30" font-size="9.6" text-anchor="end" class="t">0</text>
<line x1="66.00" y1="567.30" x2="69.00" y2="567.30" stroke="#000" stroke-width="1.0"/>
<line x1="63.80" y1="554.70" x2="69.00" y2="554.70" stroke="#000" stroke-width="1.1"/>
<text x="63.20" y="558.10" font-size="9.6" text-anchor="end" class="t">20</text>
<line x1="66.00" y1="542.10" x2="69.00" y2="542.10" stroke="#000" stroke-width="1.0"/>
<line x1="63.80" y1="529.50" x2="69.00" y2="529.50" stroke="#000" stroke-width="1.1"/>
<text x="63.20" y="532.90" font-size="9.6" text-anchor="end" class="t">40</text>
<line x1="66.00" y1="516.90" x2="69.00" y2="516.90" stroke="#000" stroke-width="1.0"/>
<line x1="63.80" y1="504.30" x2="69.00" y2="504.30" stroke="#000" stroke-width="1.1"/>
<text x="63.20" y="507.70" font-size="9.6" text-anchor="end" class="t">60</text>
<line x1="66.00" y1="491.70" x2="69.00" y2="491.70" stroke="#000" stroke-width="1.0"/>
<line x1="63.80" y1="479.10" x2="69.00" y2="479.10" stroke="#000" stroke-width="1.1"/>
<text x="63.20" y="482.50" font-size="9.6" text-anchor="end" class="t">80</text>
<line x1="66.00" y1="466.50" x2="69.00" y2="466.50" stroke="#000" stroke-width="1.0"/>
<line x1="63.80" y1="453.90" x2="69.00" y2="453.90" stroke="#000" stroke-width="1.1"/>
<text x="63.20" y="457.30" font-size="9.6" text-anchor="end" class="t">100</text>
<text x="38.40" y="513.90" font-size="9.2" text-anchor="middle" transform="rotate(-90 38.40 513.90)" class="t">Isotopologue Abundance (%)</text>
<line x1="95.45" y1="586.40" x2="95.45" y2="590.40" stroke="#000" stroke-width="1.1"/>
<text x="97.85" y="596.60" font-size="9.3" text-anchor="end" transform="rotate(-45 97.85 596.60)" class="t">DMSO</text>
<line x1="135.55" y1="586.40" x2="135.55" y2="590.40" stroke="#000" stroke-width="1.1"/>
<text x="137.95" y="596.60" font-size="9.3" text-anchor="end" transform="rotate(-45 137.95 596.60)" class="t">BAS-2</text>
<rect x="173.00" y="475.00" width="9.40" height="6.90" fill="#3066d8" stroke="#000" stroke-width="1.1"/>
<text x="187.00" y="481.50" font-size="8.7" class="t">M+0</text>
<rect x="173.00" y="486.95" width="9.40" height="6.90" fill="#bb84f8" stroke="#000" stroke-width="1.1"/>
<text x="187.00" y="493.45" font-size="8.7" class="t">M+1</text>
<rect x="173.00" y="498.90" width="9.40" height="6.90" fill="#ff9a00" stroke="#000" stroke-width="1.1"/>
<text x="187.00" y="505.40" font-size="8.7" class="t">M+2</text>
<rect x="173.00" y="510.85" width="9.40" height="6.90" fill="#028c8c" stroke="#000" stroke-width="1.1"/>
<text x="187.00" y="517.35" font-size="8.7" class="t">M+3</text>
<rect x="173.00" y="522.80" width="9.40" height="6.90" fill="#ff2d7a" stroke="#000" stroke-width="1.1"/>
<text x="187.00" y="529.30" font-size="8.7" class="t">M+4</text>
<text x="237.60" y="437.30" font-size="14" font-weight="bold">G</text>
<text x="327.60" y="442.80" font-size="12.8" text-anchor="middle" font-weight="bold">Fumarate</text>
<rect x="296.30" y="469.29" width="25.30" height="109.41" fill="#3066d8" stroke="#000" stroke-width="1.1"/>
<rect x="296.30" y="466.65" width="25.30" height="2.64" fill="#bb84f8" stroke="#000" stroke-width="1.1"/>
<rect x="296.30" y="462.62" width="25.30" height="4.03" fill="#ff9a00" stroke="#000" stroke-width="1.1"/>
<rect x="296.30" y="459.98" width="25.30" height="2.64" fill="#028c8c" stroke="#000" stroke-width="1.1"/>
<rect x="296.30" y="452.04" width="25.30" height="7.93" fill="#ff2d7a" stroke="#000" stroke-width="1.1"/>
<rect x="336.40" y="534.89" width="25.30" height="43.81" fill="#3066d8" stroke="#000" stroke-width="1.1"/>
<rect x="336.40" y="530.61" width="25.30" height="4.28" fill="#bb84f8" stroke="#000" stroke-width="1.1"/>
<rect x="336.40" y="499.63" width="25.30" height="30.97" fill="#ff9a00" stroke="#000" stroke-width="1.1"/>
<rect x="336.40" y="496.24" width="25.30" height="3.40" fill="#028c8c" stroke="#000" stroke-width="1.1"/>
<rect x="336.40" y="449.15" width="25.30" height="47.09" fill="#ff2d7a" stroke="#000" stroke-width="1.1"/>
<line x1="302.95" y1="579.60" x2="314.95" y2="579.60" stroke="#000" stroke-width="1.2"/>
<line x1="308.95" y1="466.65" x2="308.95" y2="465.39" stroke="#000" stroke-width="0.9"/>
<line x1="301.65" y1="465.39" x2="316.25" y2="465.39" stroke="#000" stroke-width="1.1"/>
<line x1="308.95" y1="462.49" x2="308.95" y2="461.11" stroke="#000" stroke-width="0.9"/>
<line x1="301.65" y1="461.11" x2="316.25" y2="461.11" stroke="#000" stroke-width="1.1"/>
<line x1="308.95" y1="459.85" x2="308.95" y2="458.72" stroke="#000" stroke-width="0.9"/>
<line x1="301.65" y1="458.72" x2="316.25" y2="458.72" stroke="#000" stroke-width="1.1"/>
<line x1="308.95" y1="452.04" x2="308.95" y2="449.02" stroke="#000" stroke-width="0.9"/>
<line x1="301.65" y1="449.02" x2="316.25" y2="449.02" stroke="#000" stroke-width="1.1"/>
<line x1="349.05" y1="530.48" x2="349.05" y2="529.10" stroke="#000" stroke-width="0.9"/>
<line x1="341.75" y1="529.10" x2="356.35" y2="529.10" stroke="#000" stroke-width="1.1"/>
<line x1="349.05" y1="499.38" x2="349.05" y2="498.38" stroke="#000" stroke-width="0.9"/>
<line x1="341.75" y1="498.38" x2="356.35" y2="498.38" stroke="#000" stroke-width="1.1"/>
<line x1="349.05" y1="495.98" x2="349.05" y2="494.85" stroke="#000" stroke-width="0.9"/>
<line x1="341.75" y1="494.85" x2="356.35" y2="494.85" stroke="#000" stroke-width="1.1"/>
<line x1="349.05" y1="449.15" x2="349.05" y2="446.76" stroke="#000" stroke-width="0.9"/>
<line x1="341.75" y1="446.76" x2="356.35" y2="446.76" stroke="#000" stroke-width="1.1"/>
<line x1="282.50" y1="445.40" x2="282.50" y2="585.75" stroke="#000" stroke-width="1.1"/>
<line x1="281.95" y1="585.20" x2="375.50" y2="585.20" stroke="#000" stroke-width="1.1"/>
<line x1="282.50" y1="578.70" x2="375.50" y2="578.70" stroke="#000" stroke-width="1.1"/>
<line x1="277.30" y1="578.70" x2="282.50" y2="578.70" stroke="#000" stroke-width="1.1"/>
<text x="276.70" y="582.10" font-size="9.6" text-anchor="end" class="t">0</text>
<line x1="279.50" y1="566.11" x2="282.50" y2="566.11" stroke="#000" stroke-width="1.0"/>
<line x1="277.30" y1="553.52" x2="282.50" y2="553.52" stroke="#000" stroke-width="1.1"/>
<text x="276.70" y="556.92" font-size="9.6" text-anchor="end" class="t">20</text>
<line x1="279.50" y1="540.93" x2="282.50" y2="540.93" stroke="#000" stroke-width="1.0"/>
<line x1="277.30" y1="528.34" x2="282.50" y2="528.34" stroke="#000" stroke-width="1.1"/>
<text x="276.70" y="531.74" font-size="9.6" text-anchor="end" class="t">40</text>
<line x1="279.50" y1="515.75" x2="282.50" y2="515.75" stroke="#000" stroke-width="1.0"/>
<line x1="277.30" y1="503.16" x2="282.50" y2="503.16" stroke="#000" stroke-width="1.1"/>
<text x="276.70" y="506.56" font-size="9.6" text-anchor="end" class="t">60</text>
<line x1="279.50" y1="490.57" x2="282.50" y2="490.57" stroke="#000" stroke-width="1.0"/>
<line x1="277.30" y1="477.98" x2="282.50" y2="477.98" stroke="#000" stroke-width="1.1"/>
<text x="276.70" y="481.38" font-size="9.6" text-anchor="end" class="t">80</text>
<line x1="279.50" y1="465.39" x2="282.50" y2="465.39" stroke="#000" stroke-width="1.0"/>
<line x1="277.30" y1="452.80" x2="282.50" y2="452.80" stroke="#000" stroke-width="1.1"/>
<text x="276.70" y="456.20" font-size="9.6" text-anchor="end" class="t">100</text>
<text x="251.90" y="512.75" font-size="9.2" text-anchor="middle" transform="rotate(-90 251.90 512.75)" class="t">Isotopologue Abundance (%)</text>
<line x1="308.95" y1="585.20" x2="308.95" y2="589.20" stroke="#000" stroke-width="1.1"/>
<text x="311.35" y="595.40" font-size="9.3" text-anchor="end" transform="rotate(-45 311.35 595.40)" class="t">DMSO</text>
<line x1="349.05" y1="585.20" x2="349.05" y2="589.20" stroke="#000" stroke-width="1.1"/>
<text x="351.45" y="595.40" font-size="9.3" text-anchor="end" transform="rotate(-45 351.45 595.40)" class="t">BAS-2</text>
<rect x="385.60" y="474.00" width="9.40" height="6.90" fill="#3066d8" stroke="#000" stroke-width="1.1"/>
<text x="399.60" y="480.50" font-size="8.7" class="t">M+0</text>
<rect x="385.60" y="485.95" width="9.40" height="6.90" fill="#bb84f8" stroke="#000" stroke-width="1.1"/>
<text x="399.60" y="492.45" font-size="8.7" class="t">M+1</text>
<rect x="385.60" y="497.90" width="9.40" height="6.90" fill="#ff9a00" stroke="#000" stroke-width="1.1"/>
<text x="399.60" y="504.40" font-size="8.7" class="t">M+2</text>
<rect x="385.60" y="509.85" width="9.40" height="6.90" fill="#028c8c" stroke="#000" stroke-width="1.1"/>
<text x="399.60" y="516.35" font-size="8.7" class="t">M+3</text>
<rect x="385.60" y="521.80" width="9.40" height="6.90" fill="#ff2d7a" stroke="#000" stroke-width="1.1"/>
<text x="399.60" y="528.30" font-size="8.7" class="t">M+4</text>
<text x="434.60" y="436.00" font-size="14" font-weight="bold">H</text>
<text x="543.40" y="443.20" font-size="12.8" text-anchor="middle" font-weight="bold">Malate</text>
<rect x="511.00" y="472.36" width="25.30" height="106.34" fill="#3066d8" stroke="#000" stroke-width="1.1"/>
<rect x="511.00" y="471.98" width="25.30" height="0.38" fill="#bb84f8" stroke="#000" stroke-width="1.1"/>
<rect x="511.00" y="463.56" width="25.30" height="8.42" fill="#ff9a00" stroke="#000" stroke-width="1.1"/>
<rect x="511.00" y="453.25" width="25.30" height="10.31" fill="#028c8c" stroke="#000" stroke-width="1.1"/>
<rect x="511.00" y="453.00" width="25.30" height="0.25" fill="#ff2d7a" stroke="#000" stroke-width="1.1"/>
<rect x="551.10" y="475.75" width="25.30" height="102.95" fill="#3066d8" stroke="#000" stroke-width="1.1"/>
<rect x="551.10" y="475.37" width="25.30" height="0.38" fill="#bb84f8" stroke="#000" stroke-width="1.1"/>
<rect x="551.10" y="467.83" width="25.30" height="7.54" fill="#ff9a00" stroke="#000" stroke-width="1.1"/>
<rect x="551.10" y="453.25" width="25.30" height="14.58" fill="#028c8c" stroke="#000" stroke-width="1.1"/>
<rect x="551.10" y="453.00" width="25.30" height="0.25" fill="#ff2d7a" stroke="#000" stroke-width="1.1"/>
<line x1="523.65" y1="471.86" x2="523.65" y2="470.85" stroke="#000" stroke-width="0.9"/>
<line x1="516.35" y1="470.85" x2="530.95" y2="470.85" stroke="#000" stroke-width="1.1"/>
<line x1="523.65" y1="463.31" x2="523.65" y2="462.68" stroke="#000" stroke-width="0.9"/>
<line x1="516.35" y1="462.68" x2="530.95" y2="462.68" stroke="#000" stroke-width="1.1"/>
<line x1="516.35" y1="463.94" x2="530.95" y2="463.94" stroke="#000" stroke-width="1.1"/>
<line x1="523.65" y1="453.00" x2="523.65" y2="452.50" stroke="#000" stroke-width="0.9"/>
<line x1="516.35" y1="452.50" x2="530.95" y2="452.50" stroke="#000" stroke-width="1.1"/>
<line x1="516.35" y1="453.50" x2="530.95" y2="453.50" stroke="#000" stroke-width="1.1"/>
<line x1="563.75" y1="475.25" x2="563.75" y2="474.12" stroke="#000" stroke-width="0.9"/>
<line x1="556.45" y1="474.12" x2="571.05" y2="474.12" stroke="#000" stroke-width="1.1"/>
<line x1="563.75" y1="467.58" x2="563.75" y2="466.83" stroke="#000" stroke-width="0.9"/>
<line x1="556.45" y1="466.83" x2="571.05" y2="466.83" stroke="#000" stroke-width="1.1"/>
<line x1="556.45" y1="468.34" x2="571.05" y2="468.34" stroke="#000" stroke-width="1.1"/>
<line x1="563.75" y1="453.00" x2="563.75" y2="452.50" stroke="#000" stroke-width="0.9"/>
<line x1="556.45" y1="452.50" x2="571.05" y2="452.50" stroke="#000" stroke-width="1.1"/>
<line x1="556.45" y1="453.50" x2="571.05" y2="453.50" stroke="#000" stroke-width="1.1"/>
<line x1="497.20" y1="445.60" x2="497.20" y2="585.75" stroke="#000" stroke-width="1.1"/>
<line x1="496.65" y1="585.20" x2="590.20" y2="585.20" stroke="#000" stroke-width="1.1"/>
<line x1="497.20" y1="578.70" x2="590.20" y2="578.70" stroke="#000" stroke-width="1.1"/>
<line x1="492.00" y1="578.70" x2="497.20" y2="578.70" stroke="#000" stroke-width="1.1"/>
<text x="491.40" y="582.10" font-size="9.6" text-anchor="end" class="t">0</text>
<line x1="494.20" y1="566.13" x2="497.20" y2="566.13" stroke="#000" stroke-width="1.0"/>
<line x1="492.00" y1="553.56" x2="497.20" y2="553.56" stroke="#000" stroke-width="1.1"/>
<text x="491.40" y="556.96" font-size="9.6" text-anchor="end" class="t">20</text>
<line x1="494.20" y1="540.99" x2="497.20" y2="540.99" stroke="#000" stroke-width="1.0"/>
<line x1="492.00" y1="528.42" x2="497.20" y2="528.42" stroke="#000" stroke-width="1.1"/>
<text x="491.40" y="531.82" font-size="9.6" text-anchor="end" class="t">40</text>
<line x1="494.20" y1="515.85" x2="497.20" y2="515.85" stroke="#000" stroke-width="1.0"/>
<line x1="492.00" y1="503.28" x2="497.20" y2="503.28" stroke="#000" stroke-width="1.1"/>
<text x="491.40" y="506.68" font-size="9.6" text-anchor="end" class="t">60</text>
<line x1="494.20" y1="490.71" x2="497.20" y2="490.71" stroke="#000" stroke-width="1.0"/>
<line x1="492.00" y1="478.14" x2="497.20" y2="478.14" stroke="#000" stroke-width="1.1"/>
<text x="491.40" y="481.54" font-size="9.6" text-anchor="end" class="t">80</text>
<line x1="494.20" y1="465.57" x2="497.20" y2="465.57" stroke="#000" stroke-width="1.0"/>
<line x1="492.00" y1="453.00" x2="497.20" y2="453.00" stroke="#000" stroke-width="1.1"/>
<text x="491.40" y="456.40" font-size="9.6" text-anchor="end" class="t">100</text>
<text x="466.60" y="512.85" font-size="9.2" text-anchor="middle" transform="rotate(-90 466.60 512.85)" class="t">Isotopologue Abundance (%)</text>
<line x1="523.65" y1="585.20" x2="523.65" y2="589.20" stroke="#000" stroke-width="1.1"/>
<text x="526.05" y="595.40" font-size="9.3" text-anchor="end" transform="rotate(-45 526.05 595.40)" class="t">DMSO</text>
<line x1="563.75" y1="585.20" x2="563.75" y2="589.20" stroke="#000" stroke-width="1.1"/>
<text x="566.15" y="595.40" font-size="9.3" text-anchor="end" transform="rotate(-45 566.15 595.40)" class="t">BAS-2</text>
<rect x="600.40" y="475.00" width="9.40" height="6.90" fill="#3066d8" stroke="#000" stroke-width="1.1"/>
<text x="614.40" y="481.50" font-size="8.7" class="t">M+0</text>
<rect x="600.40" y="486.95" width="9.40" height="6.90" fill="#bb84f8" stroke="#000" stroke-width="1.1"/>
<text x="614.40" y="493.45" font-size="8.7" class="t">M+1</text>
<rect x="600.40" y="498.90" width="9.40" height="6.90" fill="#ff9a00" stroke="#000" stroke-width="1.1"/>
<text x="614.40" y="505.40" font-size="8.7" class="t">M+2</text>
<rect x="600.40" y="510.85" width="9.40" height="6.90" fill="#028c8c" stroke="#000" stroke-width="1.1"/>
<text x="614.40" y="517.35" font-size="8.7" class="t">M+3</text>
<rect x="600.40" y="522.80" width="9.40" height="6.90" fill="#ff2d7a" stroke="#000" stroke-width="1.1"/>
<text x="614.40" y="529.30" font-size="8.7" class="t">M+4</text>
<defs>
<linearGradient id="cb" x1="0" x2="1" y1="0" y2="0">
<stop offset="0" stop-color="#000002"/><stop offset="0.08" stop-color="#05123e"/><stop offset="0.22" stop-color="#0c3c9a"/>
<stop offset="0.33" stop-color="#0f62a8"/><stop offset="0.42" stop-color="#109a78"/><stop offset="0.52" stop-color="#1cc838"/>
<stop offset="0.62" stop-color="#6ae020"/><stop offset="0.72" stop-color="#e0f818"/><stop offset="0.82" stop-color="#ffff38"/><stop offset="0.93" stop-color="#ffffb0"/><stop offset="1" stop-color="#fffff4"/></linearGradient>
<filter id="bl" x="-5%" y="-5%" width="110%" height="110%"><feGaussianBlur stdDeviation="0.6"/></filter>
<filter id="blS" x="-5%" y="-5%" width="110%" height="110%"><feGaussianBlur stdDeviation="0.72"/></filter>
<filter id="bl3m" x="-5%" y="-5%" width="110%" height="110%"><feGaussianBlur stdDeviation="2"/></filter>
</defs>
<text x="-1.20" y="629.30" font-size="14" font-weight="bold">I</text>
<rect x="10.10" y="620.00" width="137.80" height="145.50" fill="#000"/>
<rect x="10.10" y="620.00" width="137.80" height="137.20" fill="#000403"/>
<clipPath id="cp0"><rect x="10.1" y="620.0" width="137.8" height="137.20000000000005"/></clipPath>
<rect x="150.40" y="620.00" width="137.30" height="145.50" fill="#000"/>
<rect x="150.40" y="620.00" width="137.30" height="137.20" fill="#000403"/>
<clipPath id="cp1"><rect x="150.4" y="620.0" width="137.29999999999998" height="137.20000000000005"/></clipPath>
<rect x="289.20" y="620.00" width="137.40" height="145.50" fill="#000"/>
<rect x="289.20" y="620.00" width="137.40" height="137.20" fill="#000403"/>
<clipPath id="cp2"><rect x="289.2" y="620.0" width="137.40000000000003" height="137.20000000000005"/></clipPath>
<g clip-path="url(#cp0)"><g filter="url(#bl3m)">
<ellipse cx="72.4" cy="696.8" rx="12.7" ry="4.8" fill="#1f6a58" opacity="0.08" transform="rotate(91 72.4 696.8)"/>
<ellipse cx="35.5" cy="690.2" rx="10.8" ry="5.9" fill="#1f6a58" opacity="0.06" transform="rotate(17 35.5 690.2)"/>
<ellipse cx="22.6" cy="731.1" rx="11.2" ry="3.4" fill="#1f6a58" opacity="0.10" transform="rotate(177 22.6 731.1)"/>
<ellipse cx="100.2" cy="704.5" rx="7.6" ry="3.3" fill="#1f6a58" opacity="0.05" transform="rotate(95 100.2 704.5)"/>
<ellipse cx="36.3" cy="653.2" rx="6.8" ry="4.8" fill="#1f6a58" opacity="0.09" transform="rotate(79 36.3 653.2)"/>
<ellipse cx="81.6" cy="707.8" rx="9.9" ry="5.5" fill="#1f6a58" opacity="0.06" transform="rotate(82 81.6 707.8)"/>
<ellipse cx="147.6" cy="756.6" rx="12.1" ry="5.6" fill="#1f6a58" opacity="0.06" transform="rotate(57 147.6 756.6)"/>
<ellipse cx="49.9" cy="629.6" rx="11.7" ry="4.6" fill="#1f6a58" opacity="0.06" transform="rotate(152 49.9 629.6)"/>
<ellipse cx="142.1" cy="736.3" rx="6.6" ry="4.0" fill="#1f6a58" opacity="0.07" transform="rotate(164 142.1 736.3)"/>
<ellipse cx="145.2" cy="674.5" rx="7.1" ry="5.4" fill="#1f6a58" opacity="0.06" transform="rotate(140 145.2 674.5)"/>
<ellipse cx="22.1" cy="665.6" rx="13.0" ry="5.8" fill="#1f6a58" opacity="0.06" transform="rotate(21 22.1 665.6)"/>
<ellipse cx="24.0" cy="628.2" rx="11.9" ry="3.9" fill="#1f6a58" opacity="0.07" transform="rotate(101 24.0 628.2)"/>
<ellipse cx="36.4" cy="720.4" rx="7.5" ry="5.4" fill="#1f6a58" opacity="0.07" transform="rotate(21 36.4 720.4)"/>
<ellipse cx="39.4" cy="657.0" rx="13.0" ry="6.0" fill="#1f6a58" opacity="0.09" transform="rotate(55 39.4 657.0)"/>
<ellipse cx="47.0" cy="697.0" rx="5.0" ry="4.0" fill="#3a9878" opacity="0.4"/>
<ellipse cx="83.0" cy="644.0" rx="5.0" ry="4.0" fill="#3a9878" opacity="0.35"/>
<ellipse cx="120.0" cy="722.0" rx="6.0" ry="4.0" fill="#3a9878" opacity="0.3"/>
</g><g filter="url(#blS)">
<path d="M-8.6,1.2 Q0,-1.1 8.6,-1.2 Q0,1.1 -8.6,1.2Z" fill="#35907a" opacity="0.20" transform="translate(39.7,674.3) rotate(154)"/>
<path d="M-6.0,-0.2 Q0,-2.0 6.0,0.2 Q0,2.0 -6.0,-0.2Z" fill="#4aa880" opacity="0.25" transform="translate(21.1,633.2) rotate(105)"/>
<path d="M-9.2,0.3 Q0,-1.2 9.2,-0.3 Q0,1.2 -9.2,0.3Z" fill="#4aa880" opacity="0.28" transform="translate(53.3,651.9) rotate(110)"/>
<path d="M-4.7,-0.3 Q0,-2.6 4.7,0.3 Q0,2.6 -4.7,-0.3Z" fill="#35907a" opacity="0.31" transform="translate(93.1,678.0) rotate(19)"/>
<path d="M-7.6,0.2 Q0,-2.1 7.6,-0.2 Q0,2.1 -7.6,0.2Z" fill="#3a9878" opacity="0.17" transform="translate(137.3,753.1) rotate(23)"/>
<path d="M-7.3,-0.7 Q0,-1.1 7.3,0.7 Q0,1.1 -7.3,-0.7Z" fill="#3a9878" opacity="0.24" transform="translate(38.8,623.2) rotate(48)"/>
<path d="M-5.3,-0.7 Q0,-1.0 5.3,0.7 Q0,1.0 -5.3,-0.7Z" fill="#35907a" opacity="0.35" transform="translate(100.3,714.5) rotate(105)"/>
<path d="M-9.2,1.3 Q0,-1.5 9.2,-1.3 Q0,1.5 -9.2,1.3Z" fill="#35907a" opacity="0.17" transform="translate(14.0,707.0) rotate(87)"/>
<path d="M-8.9,0.9 Q0,-2.5 8.9,-0.9 Q0,2.5 -8.9,0.9Z" fill="#2f8a6c" opacity="0.25" transform="translate(118.8,744.7) rotate(63)"/>
<path d="M-8.2,-1.0 Q0,-2.0 8.2,1.0 Q0,2.0 -8.2,-1.0Z" fill="#35907a" opacity="0.29" transform="translate(88.9,705.5) rotate(69)"/>
<path d="M-8.2,0.8 Q0,-1.7 8.2,-0.8 Q0,1.7 -8.2,0.8Z" fill="#2f8a6c" opacity="0.17" transform="translate(110.0,673.5) rotate(132)"/>
<path d="M-6.1,-0.3 Q0,-1.0 6.1,0.3 Q0,1.0 -6.1,-0.3Z" fill="#3a9878" opacity="0.30" transform="translate(78.6,704.1) rotate(166)"/>
<path d="M-6.1,0.5 Q0,-2.0 6.1,-0.5 Q0,2.0 -6.1,0.5Z" fill="#3a9878" opacity="0.32" transform="translate(78.8,653.6) rotate(73)"/>
<path d="M-5.3,0.5 Q0,-1.8 5.3,-0.5 Q0,1.8 -5.3,0.5Z" fill="#2f8a6c" opacity="0.34" transform="translate(63.3,699.8) rotate(57)"/>
<path d="M-6.2,-0.1 Q0,-1.3 6.2,0.1 Q0,1.3 -6.2,-0.1Z" fill="#4aa880" opacity="0.29" transform="translate(48.7,643.9) rotate(81)"/>
<path d="M-8.4,-0.5 Q0,-2.1 8.4,0.5 Q0,2.1 -8.4,-0.5Z" fill="#2f8a6c" opacity="0.23" transform="translate(54.6,733.0) rotate(50)"/>
<path d="M-8.6,0.3 Q0,-1.7 8.6,-0.3 Q0,1.7 -8.6,0.3Z" fill="#35907a" opacity="0.30" transform="translate(43.3,640.0) rotate(8)"/>
<path d="M-5.6,-0.0 Q0,-1.0 5.6,0.0 Q0,1.0 -5.6,-0.0Z" fill="#3a9878" opacity="0.31" transform="translate(104.1,648.0) rotate(86)"/>
<path d="M-5.0,0.3 Q0,-2.5 5.0,-0.3 Q0,2.5 -5.0,0.3Z" fill="#4aa880" opacity="0.18" transform="translate(64.5,728.1) rotate(163)"/>
<path d="M-9.2,0.4 Q0,-2.3 9.2,-0.4 Q0,2.3 -9.2,0.4Z" fill="#3a9878" opacity="0.31" transform="translate(74.1,709.1) rotate(37)"/>
<path d="M-10.4,-0.4 Q0,-2.4 10.4,0.4 Q0,2.4 -10.4,-0.4Z" fill="#4aa880" opacity="0.17" transform="translate(84.0,727.9) rotate(58)"/>
<path d="M-4.6,0.2 Q0,-1.9 4.6,-0.2 Q0,1.9 -4.6,0.2Z" fill="#4aa880" opacity="0.35" transform="translate(40.7,738.3) rotate(77)"/>
<path d="M-5.0,0.0 Q0,-1.3 5.0,-0.0 Q0,1.3 -5.0,0.0Z" fill="#3a9878" opacity="0.22" transform="translate(139.5,687.6) rotate(171)"/>
<path d="M-8.4,-0.8 Q0,-1.5 8.4,0.8 Q0,1.5 -8.4,-0.8Z" fill="#35907a" opacity="0.27" transform="translate(102.3,750.1) rotate(157)"/>
<path d="M-7.8,0.7 Q0,-1.6 7.8,-0.7 Q0,1.6 -7.8,0.7Z" fill="#4aa880" opacity="0.28" transform="translate(93.3,624.8) rotate(174)"/>
<path d="M-6.2,-0.6 Q0,-1.8 6.2,0.6 Q0,1.8 -6.2,-0.6Z" fill="#4aa880" opacity="0.25" transform="translate(67.3,750.4) rotate(166)"/>
<path d="M-4.6,-0.3 Q0,-1.3 4.6,0.3 Q0,1.3 -4.6,-0.3Z" fill="#35907a" opacity="0.30" transform="translate(136.8,638.5) rotate(140)"/>
<path d="M-6.1,0.1 Q0,-1.3 6.1,-0.1 Q0,1.3 -6.1,0.1Z" fill="#4aa880" opacity="0.25" transform="translate(110.4,637.6) rotate(92)"/>
<path d="M-5.8,0.1 Q0,-1.9 5.8,-0.1 Q0,1.9 -5.8,0.1Z" fill="#35907a" opacity="0.18" transform="translate(128.4,693.2) rotate(39)"/>
<path d="M-5.8,0.6 Q0,-2.6 5.8,-0.6 Q0,2.6 -5.8,0.6Z" fill="#3a9878" opacity="0.18" transform="translate(54.0,663.6) rotate(166)"/>
<path d="M-5.2,0.3 Q0,-1.6 5.2,-0.3 Q0,1.6 -5.2,0.3Z" fill="#3a9878" opacity="0.16" transform="translate(124.1,678.0) rotate(142)"/>
<path d="M-7.7,-0.7 Q0,-2.1 7.7,0.7 Q0,2.1 -7.7,-0.7Z" fill="#2f8a6c" opacity="0.17" transform="translate(26.8,689.4) rotate(136)"/>
<path d="M-9.9,1.2 Q0,-2.6 9.9,-1.2 Q0,2.6 -9.9,1.2Z" fill="#2f8a6c" opacity="0.18" transform="translate(31.0,645.9) rotate(37)"/>
<path d="M-7.2,-1.0 Q0,-2.0 7.2,1.0 Q0,2.0 -7.2,-1.0Z" fill="#3a9878" opacity="0.31" transform="translate(55.5,684.1) rotate(93)"/>
<path d="M-9.6,-1.1 Q0,-1.5 9.6,1.1 Q0,1.5 -9.6,-1.1Z" fill="#4aa880" opacity="0.34" transform="translate(136.3,702.8) rotate(17)"/>
<path d="M-9.3,0.8 Q0,-2.3 9.3,-0.8 Q0,2.3 -9.3,0.8Z" fill="#35907a" opacity="0.24" transform="translate(120.4,655.9) rotate(164)"/>
<path d="M-7.1,-0.9 Q0,-2.2 7.1,0.9 Q0,2.2 -7.1,-0.9Z" fill="#4aa880" opacity="0.23" transform="translate(105.5,724.7) rotate(138)"/>
<path d="M-6.6,0.1 Q0,-2.1 6.6,-0.1 Q0,2.1 -6.6,0.1Z" fill="#4aa880" opacity="0.27" transform="translate(42.6,748.7) rotate(120)"/>
<path d="M-8.5,-0.6 Q0,-2.2 8.5,0.6 Q0,2.2 -8.5,-0.6Z" fill="#2f8a6c" opacity="0.24" transform="translate(114.5,753.5) rotate(4)"/>
<path d="M-7.8,0.1 Q0,-2.6 7.8,-0.1 Q0,2.6 -7.8,0.1Z" fill="#4aa880" opacity="0.37" transform="translate(45.2,743.4) rotate(99)"/>
<path d="M-10.8,0.1 Q0,-2.4 10.8,-0.1 Q0,2.4 -10.8,0.1Z" fill="#4aa880" opacity="0.28" transform="translate(63.6,747.9) rotate(69)"/>
<path d="M-6.8,0.3 Q0,-1.4 6.8,-0.3 Q0,1.4 -6.8,0.3Z" fill="#35907a" opacity="0.28" transform="translate(68.2,692.2) rotate(108)"/>
<path d="M-8.9,-0.5 Q0,-1.1 8.9,0.5 Q0,1.1 -8.9,-0.5Z" fill="#35907a" opacity="0.24" transform="translate(90.7,706.6) rotate(74)"/>
<path d="M-5.0,0.6 Q0,-2.3 5.0,-0.6 Q0,2.3 -5.0,0.6Z" fill="#3a9878" opacity="0.19" transform="translate(45.2,723.1) rotate(8)"/>
<path d="M-5.4,-0.5 Q0,-1.6 5.4,0.5 Q0,1.6 -5.4,-0.5Z" fill="#35907a" opacity="0.25" transform="translate(27.1,737.4) rotate(64)"/>
<path d="M-5.2,0.4 Q0,-2.5 5.2,-0.4 Q0,2.5 -5.2,0.4Z" fill="#35907a" opacity="0.29" transform="translate(140.5,720.3) rotate(43)"/>
<path d="M-6.0,0.7 Q0,-2.6 6.0,-0.7 Q0,2.6 -6.0,0.7Z" fill="#2f8a6c" opacity="0.35" transform="translate(97.1,722.9) rotate(34)"/>
<path d="M-4.9,0.2 Q0,-1.1 4.9,-0.2 Q0,1.1 -4.9,0.2Z" fill="#35907a" opacity="0.27" transform="translate(95.8,634.9) rotate(97)"/>
<path d="M-5.2,0.2 Q0,-2.3 5.2,-0.2 Q0,2.3 -5.2,0.2Z" fill="#3a9878" opacity="0.32" transform="translate(112.2,734.4) rotate(13)"/>
<path d="M-6.5,0.5 Q0,-1.9 6.5,-0.5 Q0,1.9 -6.5,0.5Z" fill="#4aa880" opacity="0.35" transform="translate(61.2,709.4) rotate(178)"/>
<path d="M-7.6,-0.4 Q0,-2.1 7.6,0.4 Q0,2.1 -7.6,-0.4Z" fill="#2f8a6c" opacity="0.32" transform="translate(21.8,632.2) rotate(102)"/>
<path d="M-10.2,0.4 Q0,-1.3 10.2,-0.4 Q0,1.3 -10.2,0.4Z" fill="#2f8a6c" opacity="0.23" transform="translate(78.3,724.3) rotate(59)"/>
<path d="M-6.5,0.8 Q0,-1.6 6.5,-0.8 Q0,1.6 -6.5,0.8Z" fill="#3a9878" opacity="0.35" transform="translate(70.6,729.6) rotate(55)"/>
<path d="M-6.8,-0.7 Q0,-1.6 6.8,0.7 Q0,1.6 -6.8,-0.7Z" fill="#3a9878" opacity="0.28" transform="translate(90.5,728.6) rotate(133)"/>
<path d="M-5.4,-0.7 Q0,-1.5 5.4,0.7 Q0,1.5 -5.4,-0.7Z" fill="#4aa880" opacity="0.34" transform="translate(121.3,650.9) rotate(10)"/>
<path d="M-6.5,0.3 Q0,-1.0 6.5,-0.3 Q0,1.0 -6.5,0.3Z" fill="#4aa880" opacity="0.18" transform="translate(56.5,658.0) rotate(19)"/>
<path d="M-10.8,-0.0 Q0,-2.1 10.8,0.0 Q0,2.1 -10.8,-0.0Z" fill="#2f8a6c" opacity="0.27" transform="translate(114.9,674.3) rotate(61)"/>
<path d="M-10.3,0.4 Q0,-2.6 10.3,-0.4 Q0,2.6 -10.3,0.4Z" fill="#2f8a6c" opacity="0.27" transform="translate(127.0,730.0) rotate(150)"/>
<path d="M-8.9,-0.3 Q0,-1.5 8.9,0.3 Q0,1.5 -8.9,-0.3Z" fill="#35907a" opacity="0.27" transform="translate(44.5,642.9) rotate(114)"/>
<path d="M-8.7,-0.8 Q0,-2.3 8.7,0.8 Q0,2.3 -8.7,-0.8Z" fill="#4aa880" opacity="0.17" transform="translate(19.1,662.7) rotate(21)"/>
<path d="M-6.0,0.2 Q0,-2.2 6.0,-0.2 Q0,2.2 -6.0,0.2Z" fill="#3a9878" opacity="0.20" transform="translate(25.9,645.9) rotate(39)"/>
<path d="M-8.5,0.1 Q0,-2.5 8.5,-0.1 Q0,2.5 -8.5,0.1Z" fill="#4aa880" opacity="0.34" transform="translate(65.8,744.1) rotate(169)"/>
<path d="M-10.7,-0.8 Q0,-1.8 10.7,0.8 Q0,1.8 -10.7,-0.8Z" fill="#3a9878" opacity="0.17" transform="translate(135.3,667.2) rotate(99)"/>
<path d="M-10.3,1.2 Q0,-2.4 10.3,-1.2 Q0,2.4 -10.3,1.2Z" fill="#3a9878" opacity="0.25" transform="translate(118.1,628.8) rotate(166)"/>
<path d="M-9.7,0.7 Q0,-1.2 9.7,-0.7 Q0,1.2 -9.7,0.7Z" fill="#2f8a6c" opacity="0.29" transform="translate(115.9,640.6) rotate(163)"/>
<path d="M-9.1,-0.1 Q0,-1.1 9.1,0.1 Q0,1.1 -9.1,-0.1Z" fill="#35907a" opacity="0.26" transform="translate(122.7,632.1) rotate(49)"/>
<path d="M-7.1,0.9 Q0,-1.8 7.1,-0.9 Q0,1.8 -7.1,0.9Z" fill="#35907a" opacity="0.36" transform="translate(117.2,680.5) rotate(7)"/>
<path d="M-5.3,0.3 Q0,-2.1 5.3,-0.3 Q0,2.1 -5.3,0.3Z" fill="#2f8a6c" opacity="0.32" transform="translate(101.7,630.1) rotate(13)"/>
<path d="M-4.5,0.4 Q0,-2.6 4.5,-0.4 Q0,2.6 -4.5,0.4Z" fill="#3a9878" opacity="0.20" transform="translate(43.3,697.3) rotate(82)"/>
<path d="M-5.0,-0.2 Q0,-1.3 5.0,0.2 Q0,1.3 -5.0,-0.2Z" fill="#35907a" opacity="0.18" transform="translate(140.7,723.1) rotate(100)"/>
<ellipse cx="39.7" cy="674.3" rx="1.8" ry="1.3" fill="#b8eea8" opacity="0.40" transform="rotate(154 39.7 674.3)"/><ellipse cx="21.1" cy="633.2" rx="1.3" ry="1.0" fill="#9ee29a" opacity="0.28" transform="rotate(105 21.1 633.2)"/><ellipse cx="93.1" cy="678.0" rx="2.1" ry="1.6" fill="#9ee29a" opacity="0.31" transform="rotate(19 93.1 678.0)"/><ellipse cx="38.8" cy="623.2" rx="1.3" ry="1.0" fill="#6cc088" opacity="0.30" transform="rotate(48 38.8 623.2)"/><ellipse cx="14.0" cy="707.0" rx="2.1" ry="1.6" fill="#9ee29a" opacity="0.37" transform="rotate(87 14.0 707.0)"/><ellipse cx="110.0" cy="673.5" rx="1.3" ry="0.9" fill="#7fd090" opacity="0.19" transform="rotate(132 110.0 673.5)"/><ellipse cx="78.6" cy="704.1" rx="2.0" ry="1.5" fill="#b8eea8" opacity="0.27" transform="rotate(166 78.6 704.1)"/><ellipse cx="48.7" cy="643.9" rx="1.9" ry="1.4" fill="#b8eea8" opacity="0.40" transform="rotate(81 48.7 643.9)"/><ellipse cx="54.6" cy="733.0" rx="1.6" ry="1.2" fill="#6cc088" opacity="0.23" transform="rotate(50 54.6 733.0)"/><ellipse cx="104.1" cy="648.0" rx="2.0" ry="1.5" fill="#9ee29a" opacity="0.32" transform="rotate(86 104.1 648.0)"/><ellipse cx="64.5" cy="728.1" rx="2.1" ry="1.6" fill="#6cc088" opacity="0.19" transform="rotate(163 64.5 728.1)"/><ellipse cx="74.1" cy="709.1" rx="1.6" ry="1.2" fill="#6cc088" opacity="0.21" transform="rotate(37 74.1 709.1)"/><ellipse cx="84.0" cy="727.9" rx="1.6" ry="1.2" fill="#7fd090" opacity="0.26" transform="rotate(58 84.0 727.9)"/><ellipse cx="40.7" cy="738.3" rx="1.7" ry="1.3" fill="#b8eea8" opacity="0.37" transform="rotate(77 40.7 738.3)"/><ellipse cx="139.5" cy="687.6" rx="2.1" ry="1.5" fill="#6cc088" opacity="0.33" transform="rotate(171 139.5 687.6)"/><ellipse cx="102.3" cy="750.1" rx="1.4" ry="1.0" fill="#7fd090" opacity="0.32" transform="rotate(157 102.3 750.1)"/><ellipse cx="93.3" cy="624.8" rx="1.4" ry="1.0" fill="#b8eea8" opacity="0.42" transform="rotate(174 93.3 624.8)"/><ellipse cx="67.3" cy="750.4" rx="1.3" ry="1.0" fill="#7fd090" opacity="0.29" transform="rotate(166 67.3 750.4)"/><ellipse cx="136.8" cy="638.5" rx="1.4" ry="1.1" fill="#b8eea8" opacity="0.31" transform="rotate(140 136.8 638.5)"/><ellipse cx="110.4" cy="637.6" rx="2.0" ry="1.5" fill="#9ee29a" opacity="0.34" transform="rotate(92 110.4 637.6)"/><ellipse cx="54.0" cy="663.6" rx="1.3" ry="0.9" fill="#b8eea8" opacity="0.29" transform="rotate(166 54.0 663.6)"/><ellipse cx="124.1" cy="678.0" rx="1.6" ry="1.2" fill="#6cc088" opacity="0.40" transform="rotate(142 124.1 678.0)"/><ellipse cx="26.8" cy="689.4" rx="2.0" ry="1.5" fill="#b8eea8" opacity="0.34" transform="rotate(136 26.8 689.4)"/><ellipse cx="31.0" cy="645.9" rx="1.9" ry="1.4" fill="#7fd090" opacity="0.21" transform="rotate(37 31.0 645.9)"/><ellipse cx="55.5" cy="684.1" rx="1.7" ry="1.2" fill="#b8eea8" opacity="0.38" transform="rotate(93 55.5 684.1)"/><ellipse cx="136.3" cy="702.8" rx="1.4" ry="1.0" fill="#6cc088" opacity="0.34" transform="rotate(17 136.3 702.8)"/><ellipse cx="105.5" cy="724.7" rx="2.1" ry="1.6" fill="#7fd090" opacity="0.44" transform="rotate(138 105.5 724.7)"/><ellipse cx="42.6" cy="748.7" rx="1.7" ry="1.3" fill="#7fd090" opacity="0.24" transform="rotate(120 42.6 748.7)"/><ellipse cx="114.5" cy="753.5" rx="1.9" ry="1.4" fill="#6cc088" opacity="0.19" transform="rotate(4 114.5 753.5)"/><ellipse cx="45.2" cy="743.4" rx="1.3" ry="0.9" fill="#7fd090" opacity="0.34" transform="rotate(99 45.2 743.4)"/><ellipse cx="68.2" cy="692.2" rx="2.0" ry="1.5" fill="#9ee29a" opacity="0.19" transform="rotate(108 68.2 692.2)"/><ellipse cx="90.7" cy="706.6" rx="2.1" ry="1.6" fill="#b8eea8" opacity="0.30" transform="rotate(74 90.7 706.6)"/><ellipse cx="45.2" cy="723.1" rx="1.3" ry="1.0" fill="#b8eea8" opacity="0.35" transform="rotate(8 45.2 723.1)"/><ellipse cx="27.1" cy="737.4" rx="1.9" ry="1.4" fill="#9ee29a" opacity="0.28" transform="rotate(64 27.1 737.4)"/><ellipse cx="140.5" cy="720.3" rx="1.8" ry="1.3" fill="#9ee29a" opacity="0.37" transform="rotate(43 140.5 720.3)"/><ellipse cx="97.1" cy="722.9" rx="1.2" ry="0.9" fill="#7fd090" opacity="0.25" transform="rotate(34 97.1 722.9)"/><ellipse cx="95.8" cy="634.9" rx="1.6" ry="1.2" fill="#b8eea8" opacity="0.27" transform="rotate(97 95.8 634.9)"/><ellipse cx="112.2" cy="734.4" rx="2.0" ry="1.5" fill="#9ee29a" opacity="0.29" transform="rotate(13 112.2 734.4)"/><ellipse cx="61.2" cy="709.4" rx="1.8" ry="1.3" fill="#6cc088" opacity="0.30" transform="rotate(178 61.2 709.4)"/><ellipse cx="21.8" cy="632.2" rx="2.1" ry="1.6" fill="#6cc088" opacity="0.34" transform="rotate(102 21.8 632.2)"/><ellipse cx="78.3" cy="724.3" rx="1.6" ry="1.2" fill="#6cc088" opacity="0.34" transform="rotate(59 78.3 724.3)"/><ellipse cx="70.6" cy="729.6" rx="2.0" ry="1.5" fill="#b8eea8" opacity="0.19" transform="rotate(55 70.6 729.6)"/><ellipse cx="90.5" cy="728.6" rx="2.0" ry="1.5" fill="#6cc088" opacity="0.41" transform="rotate(133 90.5 728.6)"/><ellipse cx="121.3" cy="650.9" rx="1.8" ry="1.3" fill="#7fd090" opacity="0.39" transform="rotate(10 121.3 650.9)"/><ellipse cx="56.5" cy="658.0" rx="1.4" ry="1.0" fill="#6cc088" opacity="0.38" transform="rotate(19 56.5 658.0)"/><ellipse cx="114.9" cy="674.3" rx="2.1" ry="1.6" fill="#6cc088" opacity="0.29" transform="rotate(61 114.9 674.3)"/><ellipse cx="127.0" cy="730.0" rx="1.6" ry="1.2" fill="#9ee29a" opacity="0.29" transform="rotate(150 127.0 730.0)"/><ellipse cx="19.1" cy="662.7" rx="1.7" ry="1.3" fill="#6cc088" opacity="0.39" transform="rotate(21 19.1 662.7)"/><ellipse cx="135.3" cy="667.2" rx="1.6" ry="1.2" fill="#6cc088" opacity="0.32" transform="rotate(99 135.3 667.2)"/><ellipse cx="118.1" cy="628.8" rx="1.8" ry="1.3" fill="#9ee29a" opacity="0.23" transform="rotate(166 118.1 628.8)"/><ellipse cx="115.9" cy="640.6" rx="2.0" ry="1.5" fill="#9ee29a" opacity="0.19" transform="rotate(163 115.9 640.6)"/><ellipse cx="122.7" cy="632.1" rx="1.4" ry="1.0" fill="#7fd090" opacity="0.24" transform="rotate(49 122.7 632.1)"/><ellipse cx="117.2" cy="680.5" rx="1.3" ry="0.9" fill="#b8eea8" opacity="0.26" transform="rotate(7 117.2 680.5)"/><ellipse cx="101.7" cy="630.1" rx="1.2" ry="0.9" fill="#b8eea8" opacity="0.28" transform="rotate(13 101.7 630.1)"/><ellipse cx="43.3" cy="697.3" rx="1.6" ry="1.2" fill="#6cc088" opacity="0.32" transform="rotate(82 43.3 697.3)"/><ellipse cx="83.0" cy="644.0" rx="2.9" ry="2.4" fill="#5fb888" opacity="0.8"/><ellipse cx="53.0" cy="677.0" rx="2.4" ry="2.0" fill="#6cc088" opacity="0.8"/><ellipse cx="89.0" cy="695.0" rx="2.4" ry="2.0" fill="#5fb888" opacity="0.7"/><ellipse cx="132.0" cy="677.0" rx="1.9" ry="1.6" fill="#7fd090" opacity="0.8"/><ellipse cx="125.0" cy="664.0" rx="2.2" ry="1.8" fill="#4aa880" opacity="0.7"/>
</g></g>
<g clip-path="url(#cp1)"><g filter="url(#bl3m)">
<ellipse cx="277.4" cy="750.1" rx="8.9" ry="2.5" fill="#1f6a58" opacity="0.10" transform="rotate(107 277.4 750.1)"/>
<ellipse cx="223.2" cy="637.9" rx="5.6" ry="3.4" fill="#1f6a58" opacity="0.11" transform="rotate(40 223.2 637.9)"/>
<ellipse cx="153.8" cy="631.8" rx="8.0" ry="3.3" fill="#1f6a58" opacity="0.13" transform="rotate(92 153.8 631.8)"/>
<ellipse cx="199.7" cy="627.9" rx="8.3" ry="3.7" fill="#1f6a58" opacity="0.12" transform="rotate(118 199.7 627.9)"/>
<ellipse cx="283.7" cy="669.8" rx="8.2" ry="3.2" fill="#1f6a58" opacity="0.12" transform="rotate(103 283.7 669.8)"/>
<ellipse cx="193.6" cy="631.8" rx="6.9" ry="4.0" fill="#1f6a58" opacity="0.10" transform="rotate(106 193.6 631.8)"/>
<ellipse cx="238.6" cy="645.0" rx="5.5" ry="3.1" fill="#1f6a58" opacity="0.08" transform="rotate(147 238.6 645.0)"/>
<ellipse cx="166.1" cy="633.5" rx="4.9" ry="3.0" fill="#1f6a58" opacity="0.14" transform="rotate(103 166.1 633.5)"/>
<ellipse cx="195.8" cy="670.7" rx="6.0" ry="3.1" fill="#1f6a58" opacity="0.11" transform="rotate(140 195.8 670.7)"/>
<ellipse cx="185.9" cy="634.7" rx="8.3" ry="4.0" fill="#1f6a58" opacity="0.09" transform="rotate(149 185.9 634.7)"/>
<ellipse cx="225.3" cy="746.1" rx="7.5" ry="4.6" fill="#1f6a58" opacity="0.15" transform="rotate(30 225.3 746.1)"/>
<ellipse cx="158.1" cy="677.1" rx="4.8" ry="4.2" fill="#1f6a58" opacity="0.15" transform="rotate(124 158.1 677.1)"/>
<ellipse cx="260.9" cy="750.2" rx="7.2" ry="4.7" fill="#1f6a58" opacity="0.10" transform="rotate(135 260.9 750.2)"/>
<ellipse cx="284.2" cy="671.7" rx="5.6" ry="2.5" fill="#1f6a58" opacity="0.08" transform="rotate(84 284.2 671.7)"/>
<ellipse cx="278.6" cy="750.4" rx="5.7" ry="2.6" fill="#1f6a58" opacity="0.08" transform="rotate(95 278.6 750.4)"/>
<ellipse cx="225.0" cy="731.5" rx="5.9" ry="3.3" fill="#1f6a58" opacity="0.10" transform="rotate(162 225.0 731.5)"/>
<ellipse cx="197.5" cy="742.4" rx="8.5" ry="4.4" fill="#1f6a58" opacity="0.10" transform="rotate(124 197.5 742.4)"/>
<ellipse cx="245.6" cy="733.9" rx="7.7" ry="2.9" fill="#1f6a58" opacity="0.10" transform="rotate(53 245.6 733.9)"/>
<ellipse cx="256.3" cy="696.4" rx="7.3" ry="4.3" fill="#1f6a58" opacity="0.12" transform="rotate(20 256.3 696.4)"/>
<ellipse cx="196.1" cy="696.7" rx="8.6" ry="2.9" fill="#1f6a58" opacity="0.07" transform="rotate(171 196.1 696.7)"/>
<ellipse cx="227.6" cy="694.3" rx="5.8" ry="3.7" fill="#1f6a58" opacity="0.10" transform="rotate(85 227.6 694.3)"/>
<ellipse cx="249.0" cy="620.5" rx="6.4" ry="4.2" fill="#1f6a58" opacity="0.14" transform="rotate(26 249.0 620.5)"/>
<ellipse cx="178.4" cy="713.5" rx="5.5" ry="3.4" fill="#1f6a58" opacity="0.07" transform="rotate(76 178.4 713.5)"/>
<ellipse cx="246.5" cy="685.9" rx="7.9" ry="3.6" fill="#1f6a58" opacity="0.11" transform="rotate(100 246.5 685.9)"/>
<ellipse cx="191.3" cy="743.3" rx="5.1" ry="4.4" fill="#1f6a58" opacity="0.11" transform="rotate(155 191.3 743.3)"/>
<ellipse cx="257.1" cy="712.4" rx="7.5" ry="3.0" fill="#1f6a58" opacity="0.10" transform="rotate(58 257.1 712.4)"/>
<ellipse cx="191.9" cy="751.7" rx="6.3" ry="3.2" fill="#1f6a58" opacity="0.14" transform="rotate(76 191.9 751.7)"/>
<ellipse cx="216.0" cy="696.0" rx="5.9" ry="3.0" fill="#1f6a58" opacity="0.09" transform="rotate(16 216.0 696.0)"/>
<ellipse cx="186.6" cy="736.9" rx="7.0" ry="2.6" fill="#1f6a58" opacity="0.08" transform="rotate(83 186.6 736.9)"/>
<ellipse cx="228.1" cy="680.7" rx="8.7" ry="2.9" fill="#1f6a58" opacity="0.09" transform="rotate(153 228.1 680.7)"/>
<ellipse cx="285.3" cy="707.0" rx="4.9" ry="4.2" fill="#1f6a58" opacity="0.10" transform="rotate(50 285.3 707.0)"/>
<ellipse cx="170.5" cy="734.9" rx="5.1" ry="4.1" fill="#1f6a58" opacity="0.12" transform="rotate(71 170.5 734.9)"/>
<ellipse cx="190.6" cy="630.7" rx="9.0" ry="3.9" fill="#1f6a58" opacity="0.15" transform="rotate(31 190.6 630.7)"/>
<ellipse cx="275.6" cy="645.1" rx="4.8" ry="3.8" fill="#1f6a58" opacity="0.13" transform="rotate(25 275.6 645.1)"/>
<ellipse cx="214.8" cy="717.3" rx="7.3" ry="4.1" fill="#1f6a58" opacity="0.12" transform="rotate(148 214.8 717.3)"/>
<ellipse cx="231.6" cy="664.8" rx="5.3" ry="2.6" fill="#1f6a58" opacity="0.08" transform="rotate(154 231.6 664.8)"/>
<ellipse cx="209.0" cy="663.5" rx="7.6" ry="3.6" fill="#1f6a58" opacity="0.10" transform="rotate(155 209.0 663.5)"/>
<ellipse cx="200.1" cy="709.3" rx="8.2" ry="4.5" fill="#1f6a58" opacity="0.14" transform="rotate(56 200.1 709.3)"/>
<ellipse cx="285.2" cy="754.8" rx="5.3" ry="3.2" fill="#1f6a58" opacity="0.14" transform="rotate(139 285.2 754.8)"/>
<ellipse cx="155.8" cy="674.2" rx="8.1" ry="4.1" fill="#1f6a58" opacity="0.08" transform="rotate(96 155.8 674.2)"/>
<ellipse cx="206.3" cy="628.0" rx="6.2" ry="3.3" fill="#1f6a58" opacity="0.12" transform="rotate(148 206.3 628.0)"/>
<ellipse cx="207.3" cy="653.7" rx="6.2" ry="3.9" fill="#1f6a58" opacity="0.08" transform="rotate(80 207.3 653.7)"/>
<ellipse cx="172.6" cy="716.7" rx="9.0" ry="6.0" fill="#3a9878" opacity="0.55"/>
<ellipse cx="230.4" cy="706.7" rx="7.0" ry="5.0" fill="#3a9878" opacity="0.6"/>
<ellipse cx="216.0" cy="633.0" rx="5.0" ry="4.0" fill="#3a9878" opacity="0.5"/>
</g><g filter="url(#bl)">
<path d="M-5.6,-0.1 Q0,-1.4 5.6,0.1 Q0,1.4 -5.6,-0.1Z" fill="#4aa880" opacity="0.44" transform="translate(262.6,698.8) rotate(174)"/>
<path d="M-7.1,-0.2 Q0,-1.2 7.1,0.2 Q0,1.2 -7.1,-0.2Z" fill="#2f8a6c" opacity="0.26" transform="translate(240.8,679.2) rotate(11)"/>
<path d="M-6.6,-0.1 Q0,-1.6 6.6,0.1 Q0,1.6 -6.6,-0.1Z" fill="#2f8a6c" opacity="0.49" transform="translate(248.7,640.4) rotate(177)"/>
<path d="M-4.1,0.4 Q0,-1.5 4.1,-0.4 Q0,1.5 -4.1,0.4Z" fill="#35907a" opacity="0.50" transform="translate(167.3,623.4) rotate(94)"/>
<path d="M-6.2,0.1 Q0,-1.6 6.2,-0.1 Q0,1.6 -6.2,0.1Z" fill="#3a9878" opacity="0.26" transform="translate(197.2,720.9) rotate(40)"/>
<path d="M-3.5,0.2 Q0,-1.6 3.5,-0.2 Q0,1.6 -3.5,0.2Z" fill="#2f8a6c" opacity="0.56" transform="translate(166.4,732.8) rotate(14)"/>
<path d="M-6.5,0.6 Q0,-0.8 6.5,-0.6 Q0,0.8 -6.5,0.6Z" fill="#3a9878" opacity="0.30" transform="translate(269.9,647.7) rotate(132)"/>
<path d="M-6.7,0.1 Q0,-1.4 6.7,-0.1 Q0,1.4 -6.7,0.1Z" fill="#2f8a6c" opacity="0.50" transform="translate(283.4,621.0) rotate(146)"/>
<path d="M-4.5,-0.6 Q0,-1.5 4.5,0.6 Q0,1.5 -4.5,-0.6Z" fill="#35907a" opacity="0.29" transform="translate(152.5,688.1) rotate(82)"/>
<path d="M-7.0,-0.6 Q0,-1.6 7.0,0.6 Q0,1.6 -7.0,-0.6Z" fill="#3a9878" opacity="0.29" transform="translate(262.4,711.5) rotate(20)"/>
<path d="M-6.3,-0.3 Q0,-1.1 6.3,0.3 Q0,1.1 -6.3,-0.3Z" fill="#3a9878" opacity="0.51" transform="translate(167.0,679.2) rotate(12)"/>
<path d="M-3.3,0.5 Q0,-1.4 3.3,-0.5 Q0,1.4 -3.3,0.5Z" fill="#3a9878" opacity="0.50" transform="translate(173.0,695.4) rotate(45)"/>
<path d="M-4.4,-0.0 Q0,-1.6 4.4,0.0 Q0,1.6 -4.4,-0.0Z" fill="#35907a" opacity="0.50" transform="translate(211.8,628.2) rotate(167)"/>
<path d="M-6.5,0.7 Q0,-0.9 6.5,-0.7 Q0,0.9 -6.5,0.7Z" fill="#2f8a6c" opacity="0.55" transform="translate(206.0,711.1) rotate(68)"/>
<path d="M-6.1,0.8 Q0,-1.8 6.1,-0.8 Q0,1.8 -6.1,0.8Z" fill="#3a9878" opacity="0.45" transform="translate(165.7,720.1) rotate(139)"/>
<path d="M-6.5,0.6 Q0,-1.5 6.5,-0.6 Q0,1.5 -6.5,0.6Z" fill="#35907a" opacity="0.53" transform="translate(242.7,645.0) rotate(48)"/>
<path d="M-4.4,0.1 Q0,-0.8 4.4,-0.1 Q0,0.8 -4.4,0.1Z" fill="#35907a" opacity="0.31" transform="translate(257.0,710.9) rotate(152)"/>
<path d="M-7.5,-0.6 Q0,-0.9 7.5,0.6 Q0,0.9 -7.5,-0.6Z" fill="#3a9878" opacity="0.29" transform="translate(261.6,691.8) rotate(47)"/>
<path d="M-7.1,-0.2 Q0,-0.7 7.1,0.2 Q0,0.7 -7.1,-0.2Z" fill="#2f8a6c" opacity="0.34" transform="translate(197.3,694.5) rotate(106)"/>
<path d="M-7.4,-0.4 Q0,-1.1 7.4,0.4 Q0,1.1 -7.4,-0.4Z" fill="#4aa880" opacity="0.53" transform="translate(189.8,638.0) rotate(30)"/>
<path d="M-5.0,0.1 Q0,-1.4 5.0,-0.1 Q0,1.4 -5.0,0.1Z" fill="#2f8a6c" opacity="0.57" transform="translate(286.6,648.8) rotate(102)"/>
<path d="M-3.3,0.2 Q0,-1.3 3.3,-0.2 Q0,1.3 -3.3,0.2Z" fill="#4aa880" opacity="0.54" transform="translate(263.0,694.1) rotate(115)"/>
<path d="M-4.0,-0.0 Q0,-1.1 4.0,0.0 Q0,1.1 -4.0,-0.0Z" fill="#2f8a6c" opacity="0.53" transform="translate(246.7,658.9) rotate(144)"/>
<path d="M-4.1,0.5 Q0,-1.5 4.1,-0.5 Q0,1.5 -4.1,0.5Z" fill="#4aa880" opacity="0.56" transform="translate(266.2,755.0) rotate(76)"/>
<path d="M-6.1,-0.5 Q0,-1.0 6.1,0.5 Q0,1.0 -6.1,-0.5Z" fill="#3a9878" opacity="0.27" transform="translate(263.9,651.4) rotate(43)"/>
<path d="M-3.3,0.0 Q0,-1.4 3.3,-0.0 Q0,1.4 -3.3,0.0Z" fill="#4aa880" opacity="0.47" transform="translate(161.0,623.7) rotate(33)"/>
<path d="M-3.4,-0.5 Q0,-1.8 3.4,0.5 Q0,1.8 -3.4,-0.5Z" fill="#2f8a6c" opacity="0.26" transform="translate(255.0,740.9) rotate(40)"/>
<path d="M-5.4,0.5 Q0,-1.5 5.4,-0.5 Q0,1.5 -5.4,0.5Z" fill="#3a9878" opacity="0.53" transform="translate(245.4,680.5) rotate(48)"/>
<path d="M-6.2,0.7 Q0,-1.1 6.2,-0.7 Q0,1.1 -6.2,0.7Z" fill="#3a9878" opacity="0.41" transform="translate(228.6,653.7) rotate(109)"/>
<path d="M-4.5,-0.1 Q0,-1.6 4.5,0.1 Q0,1.6 -4.5,-0.1Z" fill="#2f8a6c" opacity="0.45" transform="translate(237.6,710.7) rotate(135)"/>
<path d="M-3.6,-0.3 Q0,-1.3 3.6,0.3 Q0,1.3 -3.6,-0.3Z" fill="#2f8a6c" opacity="0.38" transform="translate(244.9,743.0) rotate(40)"/>
<path d="M-6.9,-0.9 Q0,-1.8 6.9,0.9 Q0,1.8 -6.9,-0.9Z" fill="#3a9878" opacity="0.51" transform="translate(187.5,673.5) rotate(17)"/>
<path d="M-3.8,0.3 Q0,-1.3 3.8,-0.3 Q0,1.3 -3.8,0.3Z" fill="#4aa880" opacity="0.36" transform="translate(279.4,648.6) rotate(28)"/>
<path d="M-7.4,0.9 Q0,-0.9 7.4,-0.9 Q0,0.9 -7.4,0.9Z" fill="#4aa880" opacity="0.25" transform="translate(272.1,678.9) rotate(103)"/>
<path d="M-4.7,0.1 Q0,-1.6 4.7,-0.1 Q0,1.6 -4.7,0.1Z" fill="#2f8a6c" opacity="0.38" transform="translate(254.7,681.9) rotate(18)"/>
<path d="M-5.8,0.6 Q0,-1.2 5.8,-0.6 Q0,1.2 -5.8,0.6Z" fill="#3a9878" opacity="0.44" transform="translate(196.0,739.1) rotate(3)"/>
<path d="M-5.7,0.0 Q0,-0.9 5.7,-0.0 Q0,0.9 -5.7,0.0Z" fill="#35907a" opacity="0.35" transform="translate(257.4,671.5) rotate(40)"/>
<path d="M-4.6,-0.2 Q0,-1.0 4.6,0.2 Q0,1.0 -4.6,-0.2Z" fill="#3a9878" opacity="0.40" transform="translate(227.7,748.3) rotate(27)"/>
<path d="M-6.0,0.5 Q0,-1.2 6.0,-0.5 Q0,1.2 -6.0,0.5Z" fill="#4aa880" opacity="0.44" transform="translate(219.4,702.5) rotate(32)"/>
<path d="M-6.6,-0.4 Q0,-0.8 6.6,0.4 Q0,0.8 -6.6,-0.4Z" fill="#2f8a6c" opacity="0.44" transform="translate(168.1,714.3) rotate(17)"/>
<path d="M-4.6,0.3 Q0,-1.5 4.6,-0.3 Q0,1.5 -4.6,0.3Z" fill="#4aa880" opacity="0.45" transform="translate(168.6,686.3) rotate(62)"/>
<path d="M-4.2,0.3 Q0,-0.8 4.2,-0.3 Q0,0.8 -4.2,0.3Z" fill="#35907a" opacity="0.28" transform="translate(171.7,678.0) rotate(57)"/>
<path d="M-7.6,0.7 Q0,-1.5 7.6,-0.7 Q0,1.5 -7.6,0.7Z" fill="#3a9878" opacity="0.54" transform="translate(203.4,676.5) rotate(93)"/>
<path d="M-4.5,0.1 Q0,-0.8 4.5,-0.1 Q0,0.8 -4.5,0.1Z" fill="#2f8a6c" opacity="0.40" transform="translate(227.9,641.1) rotate(107)"/>
<path d="M-4.8,-0.6 Q0,-1.8 4.8,0.6 Q0,1.8 -4.8,-0.6Z" fill="#3a9878" opacity="0.37" transform="translate(251.1,738.3) rotate(120)"/>
<path d="M-7.1,0.8 Q0,-1.3 7.1,-0.8 Q0,1.3 -7.1,0.8Z" fill="#3a9878" opacity="0.48" transform="translate(187.5,712.9) rotate(118)"/>
<path d="M-7.7,-0.8 Q0,-1.7 7.7,0.8 Q0,1.7 -7.7,-0.8Z" fill="#35907a" opacity="0.31" transform="translate(199.2,684.4) rotate(96)"/>
<path d="M-3.9,0.0 Q0,-1.5 3.9,-0.0 Q0,1.5 -3.9,0.0Z" fill="#4aa880" opacity="0.41" transform="translate(210.8,717.2) rotate(91)"/>
<path d="M-6.3,-0.8 Q0,-1.2 6.3,0.8 Q0,1.2 -6.3,-0.8Z" fill="#2f8a6c" opacity="0.31" transform="translate(219.2,675.3) rotate(77)"/>
<path d="M-3.6,-0.2 Q0,-1.3 3.6,0.2 Q0,1.3 -3.6,-0.2Z" fill="#2f8a6c" opacity="0.57" transform="translate(179.5,640.2) rotate(33)"/>
<path d="M-6.3,0.6 Q0,-1.7 6.3,-0.6 Q0,1.7 -6.3,0.6Z" fill="#3a9878" opacity="0.25" transform="translate(236.9,670.3) rotate(175)"/>
<path d="M-3.3,0.0 Q0,-0.8 3.3,-0.0 Q0,0.8 -3.3,0.0Z" fill="#3a9878" opacity="0.34" transform="translate(152.6,756.0) rotate(78)"/>
<path d="M-4.7,-0.0 Q0,-0.7 4.7,0.0 Q0,0.7 -4.7,-0.0Z" fill="#3a9878" opacity="0.33" transform="translate(191.6,627.0) rotate(84)"/>
<path d="M-3.4,0.2 Q0,-1.0 3.4,-0.2 Q0,1.0 -3.4,0.2Z" fill="#3a9878" opacity="0.57" transform="translate(257.2,630.7) rotate(132)"/>
<path d="M-3.6,0.1 Q0,-0.9 3.6,-0.1 Q0,0.9 -3.6,0.1Z" fill="#3a9878" opacity="0.34" transform="translate(213.7,628.5) rotate(169)"/>
<path d="M-7.2,-0.2 Q0,-0.8 7.2,0.2 Q0,0.8 -7.2,-0.2Z" fill="#3a9878" opacity="0.35" transform="translate(195.0,741.9) rotate(81)"/>
<path d="M-4.3,-0.3 Q0,-1.3 4.3,0.3 Q0,1.3 -4.3,-0.3Z" fill="#2f8a6c" opacity="0.44" transform="translate(257.8,676.0) rotate(157)"/>
<path d="M-7.0,0.7 Q0,-1.7 7.0,-0.7 Q0,1.7 -7.0,0.7Z" fill="#3a9878" opacity="0.40" transform="translate(189.9,650.5) rotate(148)"/>
<path d="M-4.0,0.2 Q0,-1.0 4.0,-0.2 Q0,1.0 -4.0,0.2Z" fill="#4aa880" opacity="0.37" transform="translate(167.3,714.5) rotate(30)"/>
<path d="M-5.0,-0.3 Q0,-1.8 5.0,0.3 Q0,1.8 -5.0,-0.3Z" fill="#35907a" opacity="0.27" transform="translate(217.4,665.0) rotate(63)"/>
<path d="M-6.5,0.0 Q0,-1.1 6.5,-0.0 Q0,1.1 -6.5,0.0Z" fill="#3a9878" opacity="0.34" transform="translate(274.6,722.6) rotate(81)"/>
<path d="M-7.8,0.9 Q0,-1.7 7.8,-0.9 Q0,1.7 -7.8,0.9Z" fill="#4aa880" opacity="0.40" transform="translate(216.7,641.3) rotate(57)"/>
<path d="M-3.7,-0.5 Q0,-1.6 3.7,0.5 Q0,1.6 -3.7,-0.5Z" fill="#3a9878" opacity="0.56" transform="translate(267.5,695.1) rotate(33)"/>
<path d="M-4.2,-0.2 Q0,-0.8 4.2,0.2 Q0,0.8 -4.2,-0.2Z" fill="#2f8a6c" opacity="0.39" transform="translate(239.6,713.7) rotate(9)"/>
<path d="M-4.5,0.2 Q0,-1.2 4.5,-0.2 Q0,1.2 -4.5,0.2Z" fill="#2f8a6c" opacity="0.56" transform="translate(284.8,698.8) rotate(10)"/>
<path d="M-3.9,0.5 Q0,-1.1 3.9,-0.5 Q0,1.1 -3.9,0.5Z" fill="#35907a" opacity="0.43" transform="translate(167.0,658.9) rotate(138)"/>
<path d="M-3.6,-0.4 Q0,-1.1 3.6,0.4 Q0,1.1 -3.6,-0.4Z" fill="#4aa880" opacity="0.39" transform="translate(187.1,685.2) rotate(86)"/>
<path d="M-3.8,0.3 Q0,-0.9 3.8,-0.3 Q0,0.9 -3.8,0.3Z" fill="#4aa880" opacity="0.35" transform="translate(267.6,670.2) rotate(129)"/>
<path d="M-3.5,0.3 Q0,-1.6 3.5,-0.3 Q0,1.6 -3.5,0.3Z" fill="#35907a" opacity="0.29" transform="translate(223.7,708.1) rotate(76)"/>
<path d="M-4.8,-0.7 Q0,-1.4 4.8,0.7 Q0,1.4 -4.8,-0.7Z" fill="#4aa880" opacity="0.47" transform="translate(163.1,664.2) rotate(0)"/>
<path d="M-5.3,0.2 Q0,-0.8 5.3,-0.2 Q0,0.8 -5.3,0.2Z" fill="#4aa880" opacity="0.33" transform="translate(257.7,705.3) rotate(86)"/>
<path d="M-6.9,0.4 Q0,-0.8 6.9,-0.4 Q0,0.8 -6.9,0.4Z" fill="#3a9878" opacity="0.49" transform="translate(192.6,632.8) rotate(141)"/>
<path d="M-4.6,0.3 Q0,-0.7 4.6,-0.3 Q0,0.7 -4.6,0.3Z" fill="#2f8a6c" opacity="0.48" transform="translate(270.2,730.8) rotate(110)"/>
<path d="M-7.6,0.6 Q0,-0.9 7.6,-0.6 Q0,0.9 -7.6,0.6Z" fill="#4aa880" opacity="0.31" transform="translate(244.2,701.9) rotate(110)"/>
<path d="M-3.3,-0.2 Q0,-0.9 3.3,0.2 Q0,0.9 -3.3,-0.2Z" fill="#4aa880" opacity="0.29" transform="translate(177.9,712.5) rotate(91)"/>
<path d="M-6.1,0.4 Q0,-1.5 6.1,-0.4 Q0,1.5 -6.1,0.4Z" fill="#35907a" opacity="0.50" transform="translate(274.1,728.7) rotate(151)"/>
<path d="M-3.2,0.1 Q0,-1.8 3.2,-0.1 Q0,1.8 -3.2,0.1Z" fill="#4aa880" opacity="0.43" transform="translate(221.5,687.7) rotate(85)"/>
<path d="M-4.5,-0.1 Q0,-1.3 4.5,0.1 Q0,1.3 -4.5,-0.1Z" fill="#3a9878" opacity="0.45" transform="translate(268.5,690.5) rotate(88)"/>
<path d="M-7.4,-0.5 Q0,-1.0 7.4,0.5 Q0,1.0 -7.4,-0.5Z" fill="#2f8a6c" opacity="0.39" transform="translate(273.1,724.1) rotate(73)"/>
<path d="M-3.5,-0.1 Q0,-1.4 3.5,0.1 Q0,1.4 -3.5,-0.1Z" fill="#35907a" opacity="0.29" transform="translate(245.9,624.5) rotate(110)"/>
<path d="M-7.8,-0.6 Q0,-0.9 7.8,0.6 Q0,0.9 -7.8,-0.6Z" fill="#2f8a6c" opacity="0.25" transform="translate(152.2,691.2) rotate(159)"/>
<path d="M-7.7,-0.4 Q0,-1.3 7.7,0.4 Q0,1.3 -7.7,-0.4Z" fill="#3a9878" opacity="0.41" transform="translate(261.8,660.6) rotate(80)"/>
<path d="M-5.5,-0.2 Q0,-0.9 5.5,0.2 Q0,0.9 -5.5,-0.2Z" fill="#35907a" opacity="0.53" transform="translate(166.4,626.3) rotate(136)"/>
<path d="M-7.5,-0.6 Q0,-1.0 7.5,0.6 Q0,1.0 -7.5,-0.6Z" fill="#4aa880" opacity="0.40" transform="translate(215.5,705.9) rotate(63)"/>
<path d="M-3.7,0.0 Q0,-0.9 3.7,-0.0 Q0,0.9 -3.7,0.0Z" fill="#4aa880" opacity="0.47" transform="translate(168.4,647.6) rotate(39)"/>
<path d="M-3.4,-0.3 Q0,-1.0 3.4,0.3 Q0,1.0 -3.4,-0.3Z" fill="#3a9878" opacity="0.56" transform="translate(283.0,716.5) rotate(89)"/>
<path d="M-5.1,0.0 Q0,-1.8 5.1,-0.0 Q0,1.8 -5.1,0.0Z" fill="#4aa880" opacity="0.49" transform="translate(283.2,666.0) rotate(126)"/>
<path d="M-5.2,-0.1 Q0,-1.4 5.2,0.1 Q0,1.4 -5.2,-0.1Z" fill="#4aa880" opacity="0.39" transform="translate(222.7,737.1) rotate(75)"/>
<path d="M-3.8,-0.5 Q0,-1.7 3.8,0.5 Q0,1.7 -3.8,-0.5Z" fill="#4aa880" opacity="0.55" transform="translate(237.3,641.0) rotate(127)"/>
<path d="M-4.3,-0.4 Q0,-1.3 4.3,0.4 Q0,1.3 -4.3,-0.4Z" fill="#35907a" opacity="0.29" transform="translate(231.6,709.7) rotate(113)"/>
<path d="M-7.1,0.7 Q0,-1.7 7.1,-0.7 Q0,1.7 -7.1,0.7Z" fill="#4aa880" opacity="0.53" transform="translate(260.1,621.5) rotate(70)"/>
<path d="M-3.2,-0.4 Q0,-1.4 3.2,0.4 Q0,1.4 -3.2,-0.4Z" fill="#2f8a6c" opacity="0.42" transform="translate(180.8,671.2) rotate(86)"/>
<path d="M-5.5,0.7 Q0,-1.3 5.5,-0.7 Q0,1.3 -5.5,0.7Z" fill="#2f8a6c" opacity="0.52" transform="translate(255.0,731.6) rotate(78)"/>
<path d="M-6.9,-0.3 Q0,-1.7 6.9,0.3 Q0,1.7 -6.9,-0.3Z" fill="#2f8a6c" opacity="0.49" transform="translate(267.9,728.6) rotate(10)"/>
<path d="M-7.4,-0.7 Q0,-1.4 7.4,0.7 Q0,1.4 -7.4,-0.7Z" fill="#2f8a6c" opacity="0.42" transform="translate(184.9,750.3) rotate(2)"/>
<path d="M-4.3,-0.4 Q0,-1.4 4.3,0.4 Q0,1.4 -4.3,-0.4Z" fill="#2f8a6c" opacity="0.25" transform="translate(226.0,698.9) rotate(113)"/>
<path d="M-7.6,-0.0 Q0,-1.1 7.6,0.0 Q0,1.1 -7.6,-0.0Z" fill="#35907a" opacity="0.37" transform="translate(152.0,641.3) rotate(146)"/>
<path d="M-3.8,-0.3 Q0,-1.4 3.8,0.3 Q0,1.4 -3.8,-0.3Z" fill="#35907a" opacity="0.35" transform="translate(203.7,750.5) rotate(168)"/>
<path d="M-6.2,0.7 Q0,-1.9 6.2,-0.7 Q0,1.9 -6.2,0.7Z" fill="#3a9878" opacity="0.46" transform="translate(164.3,680.3) rotate(82)"/>
<path d="M-4.8,-0.2 Q0,-1.4 4.8,0.2 Q0,1.4 -4.8,-0.2Z" fill="#4aa880" opacity="0.49" transform="translate(241.1,653.6) rotate(158)"/>
<path d="M-3.5,0.4 Q0,-0.9 3.5,-0.4 Q0,0.9 -3.5,0.4Z" fill="#4aa880" opacity="0.28" transform="translate(266.4,746.1) rotate(73)"/>
<path d="M-6.3,0.3 Q0,-1.0 6.3,-0.3 Q0,1.0 -6.3,0.3Z" fill="#2f8a6c" opacity="0.54" transform="translate(167.0,751.4) rotate(161)"/>
<path d="M-4.7,0.2 Q0,-0.8 4.7,-0.2 Q0,0.8 -4.7,0.2Z" fill="#4aa880" opacity="0.31" transform="translate(230.1,679.7) rotate(144)"/>
<path d="M-6.8,0.0 Q0,-1.3 6.8,-0.0 Q0,1.3 -6.8,0.0Z" fill="#4aa880" opacity="0.39" transform="translate(255.9,667.3) rotate(133)"/>
<path d="M-6.2,0.5 Q0,-1.5 6.2,-0.5 Q0,1.5 -6.2,0.5Z" fill="#35907a" opacity="0.26" transform="translate(275.7,643.0) rotate(14)"/>
<path d="M-5.3,0.3 Q0,-0.8 5.3,-0.3 Q0,0.8 -5.3,0.3Z" fill="#35907a" opacity="0.31" transform="translate(242.2,673.7) rotate(119)"/>
<path d="M-7.6,-0.7 Q0,-0.9 7.6,0.7 Q0,0.9 -7.6,-0.7Z" fill="#35907a" opacity="0.24" transform="translate(230.7,662.5) rotate(62)"/>
<path d="M-4.0,0.1 Q0,-1.8 4.0,-0.1 Q0,1.8 -4.0,0.1Z" fill="#35907a" opacity="0.42" transform="translate(191.7,682.6) rotate(3)"/>
<path d="M-6.0,0.3 Q0,-0.9 6.0,-0.3 Q0,0.9 -6.0,0.3Z" fill="#2f8a6c" opacity="0.27" transform="translate(219.6,682.0) rotate(33)"/>
<path d="M-7.0,-0.4 Q0,-1.8 7.0,0.4 Q0,1.8 -7.0,-0.4Z" fill="#35907a" opacity="0.33" transform="translate(220.8,685.7) rotate(3)"/>
<path d="M-6.1,0.8 Q0,-1.4 6.1,-0.8 Q0,1.4 -6.1,0.8Z" fill="#4aa880" opacity="0.28" transform="translate(186.5,691.3) rotate(96)"/>
<path d="M-5.0,0.5 Q0,-1.9 5.0,-0.5 Q0,1.9 -5.0,0.5Z" fill="#35907a" opacity="0.36" transform="translate(187.3,683.5) rotate(37)"/>
<path d="M-5.9,-0.1 Q0,-1.2 5.9,0.1 Q0,1.2 -5.9,-0.1Z" fill="#2f8a6c" opacity="0.26" transform="translate(174.4,642.0) rotate(50)"/>
<path d="M-3.7,0.4 Q0,-1.4 3.7,-0.4 Q0,1.4 -3.7,0.4Z" fill="#3a9878" opacity="0.38" transform="translate(229.1,640.6) rotate(79)"/>
<path d="M-3.4,0.1 Q0,-1.2 3.4,-0.1 Q0,1.2 -3.4,0.1Z" fill="#4aa880" opacity="0.46" transform="translate(152.3,652.9) rotate(64)"/>
<path d="M-6.3,0.8 Q0,-0.8 6.3,-0.8 Q0,0.8 -6.3,0.8Z" fill="#4aa880" opacity="0.52" transform="translate(259.6,623.4) rotate(76)"/>
<path d="M-3.2,0.0 Q0,-1.8 3.2,-0.0 Q0,1.8 -3.2,0.0Z" fill="#4aa880" opacity="0.35" transform="translate(232.0,749.2) rotate(5)"/>
<path d="M-4.6,-0.6 Q0,-0.8 4.6,0.6 Q0,0.8 -4.6,-0.6Z" fill="#3a9878" opacity="0.50" transform="translate(245.1,700.1) rotate(131)"/>
<path d="M-7.2,-0.6 Q0,-1.6 7.2,0.6 Q0,1.6 -7.2,-0.6Z" fill="#35907a" opacity="0.30" transform="translate(273.7,716.8) rotate(136)"/>
<path d="M-3.1,-0.1 Q0,-1.2 3.1,0.1 Q0,1.2 -3.1,-0.1Z" fill="#3a9878" opacity="0.30" transform="translate(160.8,708.6) rotate(167)"/>
<path d="M-6.0,0.1 Q0,-0.9 6.0,-0.1 Q0,0.9 -6.0,0.1Z" fill="#2f8a6c" opacity="0.38" transform="translate(269.2,667.8) rotate(14)"/>
<path d="M-6.3,0.5 Q0,-1.8 6.3,-0.5 Q0,1.8 -6.3,0.5Z" fill="#4aa880" opacity="0.35" transform="translate(195.9,703.3) rotate(8)"/>
<path d="M-4.6,0.5 Q0,-1.1 4.6,-0.5 Q0,1.1 -4.6,0.5Z" fill="#2f8a6c" opacity="0.38" transform="translate(228.6,664.5) rotate(88)"/>
<path d="M-7.1,0.1 Q0,-1.8 7.1,-0.1 Q0,1.8 -7.1,0.1Z" fill="#35907a" opacity="0.44" transform="translate(230.5,712.3) rotate(63)"/>
<path d="M-7.1,-0.3 Q0,-1.5 7.1,0.3 Q0,1.5 -7.1,-0.3Z" fill="#35907a" opacity="0.32" transform="translate(204.3,694.7) rotate(36)"/>
<path d="M-6.3,0.4 Q0,-0.9 6.3,-0.4 Q0,0.9 -6.3,0.4Z" fill="#3a9878" opacity="0.45" transform="translate(205.0,721.1) rotate(79)"/>
<path d="M-3.7,-0.2 Q0,-1.5 3.7,0.2 Q0,1.5 -3.7,-0.2Z" fill="#35907a" opacity="0.36" transform="translate(173.3,640.5) rotate(156)"/>
<path d="M-3.3,0.1 Q0,-1.1 3.3,-0.1 Q0,1.1 -3.3,0.1Z" fill="#4aa880" opacity="0.53" transform="translate(185.9,696.6) rotate(69)"/>
<path d="M-6.7,-0.3 Q0,-1.6 6.7,0.3 Q0,1.6 -6.7,-0.3Z" fill="#2f8a6c" opacity="0.50" transform="translate(221.2,636.7) rotate(126)"/>
<path d="M-5.2,-0.0 Q0,-0.7 5.2,0.0 Q0,0.7 -5.2,-0.0Z" fill="#2f8a6c" opacity="0.44" transform="translate(262.1,622.5) rotate(124)"/>
<path d="M-4.9,0.2 Q0,-0.7 4.9,-0.2 Q0,0.7 -4.9,0.2Z" fill="#35907a" opacity="0.33" transform="translate(268.4,674.4) rotate(119)"/>
<path d="M-7.6,0.0 Q0,-0.9 7.6,-0.0 Q0,0.9 -7.6,0.0Z" fill="#4aa880" opacity="0.50" transform="translate(273.0,666.5) rotate(111)"/>
<path d="M-6.8,-0.9 Q0,-0.9 6.8,0.9 Q0,0.9 -6.8,-0.9Z" fill="#4aa880" opacity="0.27" transform="translate(253.1,704.8) rotate(60)"/>
<path d="M-7.0,0.8 Q0,-1.5 7.0,-0.8 Q0,1.5 -7.0,0.8Z" fill="#4aa880" opacity="0.26" transform="translate(200.7,724.9) rotate(113)"/>
<path d="M-6.3,0.0 Q0,-1.7 6.3,-0.0 Q0,1.7 -6.3,0.0Z" fill="#35907a" opacity="0.25" transform="translate(273.7,663.7) rotate(93)"/>
<path d="M-5.1,0.6 Q0,-0.9 5.1,-0.6 Q0,0.9 -5.1,0.6Z" fill="#35907a" opacity="0.43" transform="translate(190.5,643.8) rotate(71)"/>
<path d="M-6.8,0.8 Q0,-0.8 6.8,-0.8 Q0,0.8 -6.8,0.8Z" fill="#2f8a6c" opacity="0.46" transform="translate(209.3,713.3) rotate(15)"/>
<path d="M-6.1,0.8 Q0,-1.6 6.1,-0.8 Q0,1.6 -6.1,0.8Z" fill="#35907a" opacity="0.50" transform="translate(247.0,630.8) rotate(173)"/>
<path d="M-3.3,-0.3 Q0,-1.9 3.3,0.3 Q0,1.9 -3.3,-0.3Z" fill="#3a9878" opacity="0.42" transform="translate(259.3,682.3) rotate(124)"/>
<path d="M-3.7,0.4 Q0,-1.0 3.7,-0.4 Q0,1.0 -3.7,0.4Z" fill="#4aa880" opacity="0.41" transform="translate(286.3,735.7) rotate(148)"/>
<path d="M-7.8,0.5 Q0,-0.8 7.8,-0.5 Q0,0.8 -7.8,0.5Z" fill="#3a9878" opacity="0.39" transform="translate(263.3,680.7) rotate(160)"/>
<path d="M-3.4,0.2 Q0,-1.1 3.4,-0.2 Q0,1.1 -3.4,0.2Z" fill="#4aa880" opacity="0.46" transform="translate(206.1,686.4) rotate(157)"/>
<path d="M-3.6,-0.1 Q0,-1.1 3.6,0.1 Q0,1.1 -3.6,-0.1Z" fill="#3a9878" opacity="0.47" transform="translate(186.8,680.2) rotate(2)"/>
<path d="M-3.7,0.2 Q0,-1.6 3.7,-0.2 Q0,1.6 -3.7,0.2Z" fill="#3a9878" opacity="0.36" transform="translate(216.3,651.3) rotate(56)"/>
<path d="M-4.6,-0.4 Q0,-1.3 4.6,0.4 Q0,1.3 -4.6,-0.4Z" fill="#35907a" opacity="0.47" transform="translate(164.7,659.1) rotate(106)"/>
<path d="M-6.0,0.6 Q0,-0.9 6.0,-0.6 Q0,0.9 -6.0,0.6Z" fill="#3a9878" opacity="0.55" transform="translate(218.6,634.3) rotate(142)"/>
<path d="M-5.6,-0.4 Q0,-1.1 5.6,0.4 Q0,1.1 -5.6,-0.4Z" fill="#2f8a6c" opacity="0.46" transform="translate(165.7,676.0) rotate(174)"/>
<path d="M-6.5,0.2 Q0,-1.1 6.5,-0.2 Q0,1.1 -6.5,0.2Z" fill="#3a9878" opacity="0.25" transform="translate(283.4,703.6) rotate(9)"/>
<path d="M-4.6,0.4 Q0,-1.4 4.6,-0.4 Q0,1.4 -4.6,0.4Z" fill="#2f8a6c" opacity="0.30" transform="translate(218.9,647.9) rotate(178)"/>
<path d="M-7.1,-0.6 Q0,-1.3 7.1,0.6 Q0,1.3 -7.1,-0.6Z" fill="#4aa880" opacity="0.49" transform="translate(192.4,704.7) rotate(102)"/>
<path d="M-7.0,-0.2 Q0,-1.7 7.0,0.2 Q0,1.7 -7.0,-0.2Z" fill="#3a9878" opacity="0.26" transform="translate(260.6,660.5) rotate(133)"/>
<path d="M-5.8,0.3 Q0,-1.6 5.8,-0.3 Q0,1.6 -5.8,0.3Z" fill="#2f8a6c" opacity="0.49" transform="translate(218.9,730.0) rotate(157)"/>
<path d="M-4.2,0.5 Q0,-1.4 4.2,-0.5 Q0,1.4 -4.2,0.5Z" fill="#35907a" opacity="0.56" transform="translate(231.7,709.4) rotate(80)"/>
<path d="M-4.9,0.5 Q0,-1.6 4.9,-0.5 Q0,1.6 -4.9,0.5Z" fill="#2f8a6c" opacity="0.30" transform="translate(243.1,637.3) rotate(34)"/>
<path d="M-5.1,0.2 Q0,-0.7 5.1,-0.2 Q0,0.7 -5.1,0.2Z" fill="#35907a" opacity="0.55" transform="translate(235.3,622.4) rotate(128)"/>
<path d="M-3.6,-0.4 Q0,-0.8 3.6,0.4 Q0,0.8 -3.6,-0.4Z" fill="#2f8a6c" opacity="0.38" transform="translate(205.0,674.4) rotate(85)"/>
<path d="M-7.5,-0.0 Q0,-1.1 7.5,0.0 Q0,1.1 -7.5,-0.0Z" fill="#3a9878" opacity="0.36" transform="translate(181.0,636.4) rotate(150)"/>
<path d="M-7.7,1.1 Q0,-0.8 7.7,-1.1 Q0,0.8 -7.7,1.1Z" fill="#2f8a6c" opacity="0.42" transform="translate(163.1,716.9) rotate(75)"/>
<path d="M-3.8,-0.4 Q0,-1.1 3.8,0.4 Q0,1.1 -3.8,-0.4Z" fill="#3a9878" opacity="0.47" transform="translate(227.7,640.9) rotate(109)"/>
<path d="M-6.4,-0.1 Q0,-1.4 6.4,0.1 Q0,1.4 -6.4,-0.1Z" fill="#2f8a6c" opacity="0.56" transform="translate(194.9,700.5) rotate(101)"/>
<path d="M-4.4,0.2 Q0,-1.2 4.4,-0.2 Q0,1.2 -4.4,0.2Z" fill="#2f8a6c" opacity="0.38" transform="translate(158.1,693.2) rotate(180)"/>
<path d="M-3.5,-0.4 Q0,-1.7 3.5,0.4 Q0,1.7 -3.5,-0.4Z" fill="#4aa880" opacity="0.40" transform="translate(186.7,649.4) rotate(177)"/>
<path d="M-3.3,-0.4 Q0,-1.1 3.3,0.4 Q0,1.1 -3.3,-0.4Z" fill="#3a9878" opacity="0.46" transform="translate(246.2,738.8) rotate(88)"/>
<path d="M-4.0,0.1 Q0,-1.7 4.0,-0.1 Q0,1.7 -4.0,0.1Z" fill="#3a9878" opacity="0.30" transform="translate(222.3,748.8) rotate(78)"/>
<path d="M-6.8,-0.5 Q0,-1.2 6.8,0.5 Q0,1.2 -6.8,-0.5Z" fill="#2f8a6c" opacity="0.57" transform="translate(216.2,677.4) rotate(117)"/>
<path d="M-6.5,0.7 Q0,-0.9 6.5,-0.7 Q0,0.9 -6.5,0.7Z" fill="#4aa880" opacity="0.33" transform="translate(258.5,624.1) rotate(92)"/>
<path d="M-6.9,-0.5 Q0,-0.8 6.9,0.5 Q0,0.8 -6.9,-0.5Z" fill="#4aa880" opacity="0.29" transform="translate(228.7,694.9) rotate(93)"/>
<path d="M-7.7,-0.3 Q0,-1.6 7.7,0.3 Q0,1.6 -7.7,-0.3Z" fill="#35907a" opacity="0.55" transform="translate(256.8,674.5) rotate(179)"/>
<path d="M-3.4,-0.3 Q0,-0.9 3.4,0.3 Q0,0.9 -3.4,-0.3Z" fill="#4aa880" opacity="0.54" transform="translate(179.3,729.6) rotate(62)"/>
<path d="M-3.3,0.3 Q0,-1.5 3.3,-0.3 Q0,1.5 -3.3,0.3Z" fill="#2f8a6c" opacity="0.43" transform="translate(198.3,640.7) rotate(30)"/>
<path d="M-4.7,-0.6 Q0,-1.6 4.7,0.6 Q0,1.6 -4.7,-0.6Z" fill="#35907a" opacity="0.44" transform="translate(185.5,720.2) rotate(53)"/>
<path d="M-5.3,0.4 Q0,-0.8 5.3,-0.4 Q0,0.8 -5.3,0.4Z" fill="#4aa880" opacity="0.44" transform="translate(271.2,703.5) rotate(61)"/>
<path d="M-6.5,-0.6 Q0,-0.8 6.5,0.6 Q0,0.8 -6.5,-0.6Z" fill="#3a9878" opacity="0.49" transform="translate(262.4,720.9) rotate(45)"/>
<path d="M-4.6,0.5 Q0,-0.9 4.6,-0.5 Q0,0.9 -4.6,0.5Z" fill="#4aa880" opacity="0.38" transform="translate(201.5,663.0) rotate(149)"/>
<path d="M-5.5,0.6 Q0,-0.7 5.5,-0.6 Q0,0.7 -5.5,0.6Z" fill="#4aa880" opacity="0.40" transform="translate(215.0,728.9) rotate(164)"/>
<path d="M-6.3,0.3 Q0,-1.1 6.3,-0.3 Q0,1.1 -6.3,0.3Z" fill="#4aa880" opacity="0.41" transform="translate(216.7,742.7) rotate(101)"/>
<path d="M-7.4,-0.4 Q0,-1.7 7.4,0.4 Q0,1.7 -7.4,-0.4Z" fill="#3a9878" opacity="0.38" transform="translate(199.9,706.6) rotate(35)"/>
<path d="M-4.5,-0.1 Q0,-1.7 4.5,0.1 Q0,1.7 -4.5,-0.1Z" fill="#35907a" opacity="0.57" transform="translate(169.1,696.2) rotate(15)"/>
<path d="M-4.5,0.2 Q0,-1.7 4.5,-0.2 Q0,1.7 -4.5,0.2Z" fill="#3a9878" opacity="0.43" transform="translate(251.2,756.2) rotate(86)"/>
<path d="M-4.2,-0.4 Q0,-1.4 4.2,0.4 Q0,1.4 -4.2,-0.4Z" fill="#2f8a6c" opacity="0.40" transform="translate(284.4,628.5) rotate(43)"/>
<path d="M-5.2,-0.4 Q0,-1.3 5.2,0.4 Q0,1.3 -5.2,-0.4Z" fill="#35907a" opacity="0.27" transform="translate(268.3,675.8) rotate(82)"/>
<path d="M-4.2,0.1 Q0,-1.1 4.2,-0.1 Q0,1.1 -4.2,0.1Z" fill="#4aa880" opacity="0.33" transform="translate(176.8,629.3) rotate(125)"/>
<path d="M-5.2,-0.0 Q0,-1.7 5.2,0.0 Q0,1.7 -5.2,-0.0Z" fill="#3a9878" opacity="0.40" transform="translate(252.6,661.4) rotate(30)"/>
<path d="M-6.2,-0.5 Q0,-1.8 6.2,0.5 Q0,1.8 -6.2,-0.5Z" fill="#3a9878" opacity="0.54" transform="translate(207.4,652.8) rotate(155)"/>
<path d="M-5.5,-0.5 Q0,-1.2 5.5,0.5 Q0,1.2 -5.5,-0.5Z" fill="#4aa880" opacity="0.55" transform="translate(221.2,648.0) rotate(16)"/>
<path d="M-4.5,0.5 Q0,-1.8 4.5,-0.5 Q0,1.8 -4.5,0.5Z" fill="#4aa880" opacity="0.33" transform="translate(157.0,631.9) rotate(104)"/>
<path d="M-4.9,0.2 Q0,-1.1 4.9,-0.2 Q0,1.1 -4.9,0.2Z" fill="#35907a" opacity="0.55" transform="translate(242.2,708.0) rotate(134)"/>
<path d="M-5.5,-0.6 Q0,-1.9 5.5,0.6 Q0,1.9 -5.5,-0.6Z" fill="#3a9878" opacity="0.38" transform="translate(258.1,753.0) rotate(65)"/>
<path d="M-6.7,0.8 Q0,-1.2 6.7,-0.8 Q0,1.2 -6.7,0.8Z" fill="#4aa880" opacity="0.40" transform="translate(188.3,707.5) rotate(121)"/>
<path d="M-7.1,-0.9 Q0,-1.2 7.1,0.9 Q0,1.2 -7.1,-0.9Z" fill="#3a9878" opacity="0.36" transform="translate(236.5,689.4) rotate(152)"/>
<path d="M-4.9,0.6 Q0,-1.2 4.9,-0.6 Q0,1.2 -4.9,0.6Z" fill="#2f8a6c" opacity="0.30" transform="translate(249.6,683.3) rotate(159)"/>
<path d="M-5.8,-0.7 Q0,-1.0 5.8,0.7 Q0,1.0 -5.8,-0.7Z" fill="#4aa880" opacity="0.48" transform="translate(269.2,727.5) rotate(25)"/>
<path d="M-4.0,-0.5 Q0,-0.9 4.0,0.5 Q0,0.9 -4.0,-0.5Z" fill="#4aa880" opacity="0.52" transform="translate(226.1,706.2) rotate(5)"/>
<path d="M-6.2,-0.2 Q0,-1.2 6.2,0.2 Q0,1.2 -6.2,-0.2Z" fill="#3a9878" opacity="0.42" transform="translate(202.0,642.1) rotate(30)"/>
<path d="M-6.0,0.1 Q0,-0.8 6.0,-0.1 Q0,0.8 -6.0,0.1Z" fill="#4aa880" opacity="0.53" transform="translate(172.8,652.6) rotate(142)"/>
<path d="M-6.1,-0.5 Q0,-1.8 6.1,0.5 Q0,1.8 -6.1,-0.5Z" fill="#2f8a6c" opacity="0.36" transform="translate(191.9,672.4) rotate(117)"/>
<path d="M-4.3,0.2 Q0,-1.4 4.3,-0.2 Q0,1.4 -4.3,0.2Z" fill="#3a9878" opacity="0.34" transform="translate(172.9,671.2) rotate(88)"/>
<path d="M-4.4,0.6 Q0,-0.9 4.4,-0.6 Q0,0.9 -4.4,0.6Z" fill="#4aa880" opacity="0.53" transform="translate(264.6,666.6) rotate(56)"/>
<path d="M-5.1,-0.7 Q0,-1.0 5.1,0.7 Q0,1.0 -5.1,-0.7Z" fill="#4aa880" opacity="0.27" transform="translate(236.1,745.6) rotate(143)"/>
<path d="M-5.7,-0.2 Q0,-1.3 5.7,0.2 Q0,1.3 -5.7,-0.2Z" fill="#4aa880" opacity="0.50" transform="translate(186.1,751.4) rotate(33)"/>
<path d="M-6.3,0.8 Q0,-1.2 6.3,-0.8 Q0,1.2 -6.3,0.8Z" fill="#2f8a6c" opacity="0.24" transform="translate(209.9,707.3) rotate(9)"/>
<path d="M-3.4,-0.3 Q0,-1.8 3.4,0.3 Q0,1.8 -3.4,-0.3Z" fill="#2f8a6c" opacity="0.55" transform="translate(193.3,738.5) rotate(111)"/>
<path d="M-4.2,0.0 Q0,-1.9 4.2,-0.0 Q0,1.9 -4.2,0.0Z" fill="#2f8a6c" opacity="0.47" transform="translate(157.5,647.9) rotate(161)"/>
<path d="M-6.9,0.5 Q0,-1.2 6.9,-0.5 Q0,1.2 -6.9,0.5Z" fill="#4aa880" opacity="0.34" transform="translate(253.9,665.2) rotate(146)"/>
<path d="M-3.6,-0.5 Q0,-1.8 3.6,0.5 Q0,1.8 -3.6,-0.5Z" fill="#4aa880" opacity="0.45" transform="translate(286.7,676.8) rotate(107)"/>
<path d="M-5.4,0.5 Q0,-1.5 5.4,-0.5 Q0,1.5 -5.4,0.5Z" fill="#2f8a6c" opacity="0.51" transform="translate(274.6,623.6) rotate(19)"/>
<path d="M-3.4,0.5 Q0,-1.3 3.4,-0.5 Q0,1.3 -3.4,0.5Z" fill="#4aa880" opacity="0.48" transform="translate(209.8,631.6) rotate(167)"/>
<path d="M-5.5,0.6 Q0,-1.1 5.5,-0.6 Q0,1.1 -5.5,0.6Z" fill="#35907a" opacity="0.29" transform="translate(233.9,639.4) rotate(25)"/>
<path d="M-4.9,-0.5 Q0,-0.9 4.9,0.5 Q0,0.9 -4.9,-0.5Z" fill="#2f8a6c" opacity="0.44" transform="translate(171.0,667.0) rotate(114)"/>
<path d="M-4.6,-0.6 Q0,-1.2 4.6,0.6 Q0,1.2 -4.6,-0.6Z" fill="#2f8a6c" opacity="0.29" transform="translate(199.1,683.1) rotate(37)"/>
<ellipse cx="240.8" cy="679.2" rx="1.1" ry="0.8" fill="#6cc088" opacity="0.87" transform="rotate(11 240.8 679.2)"/><ellipse cx="248.7" cy="640.4" rx="1.3" ry="1.0" fill="#6cc088" opacity="0.89" transform="rotate(177 248.7 640.4)"/><ellipse cx="167.3" cy="623.4" rx="1.1" ry="0.8" fill="#6cc088" opacity="0.64" transform="rotate(94 167.3 623.4)"/><ellipse cx="197.2" cy="720.9" rx="0.9" ry="0.7" fill="#6cc088" opacity="0.86" transform="rotate(40 197.2 720.9)"/><ellipse cx="166.4" cy="732.8" rx="1.0" ry="0.8" fill="#7fd090" opacity="0.68" transform="rotate(14 166.4 732.8)"/><ellipse cx="269.9" cy="647.7" rx="1.4" ry="1.0" fill="#6cc088" opacity="0.85" transform="rotate(132 269.9 647.7)"/><ellipse cx="283.4" cy="621.0" rx="1.4" ry="1.1" fill="#b8eea8" opacity="0.56" transform="rotate(146 283.4 621.0)"/><ellipse cx="152.5" cy="688.1" rx="1.4" ry="1.1" fill="#9ee29a" opacity="0.45" transform="rotate(82 152.5 688.1)"/><ellipse cx="262.4" cy="711.5" rx="1.0" ry="0.8" fill="#9ee29a" opacity="0.69" transform="rotate(20 262.4 711.5)"/><ellipse cx="167.0" cy="679.2" rx="1.3" ry="1.0" fill="#9ee29a" opacity="0.60" transform="rotate(12 167.0 679.2)"/><ellipse cx="173.0" cy="695.4" rx="1.1" ry="0.8" fill="#7fd090" opacity="0.40" transform="rotate(45 173.0 695.4)"/><ellipse cx="211.8" cy="628.2" rx="1.4" ry="1.1" fill="#7fd090" opacity="0.86" transform="rotate(167 211.8 628.2)"/><ellipse cx="206.0" cy="711.1" rx="1.5" ry="1.1" fill="#9ee29a" opacity="0.55" transform="rotate(68 206.0 711.1)"/><ellipse cx="165.7" cy="720.1" rx="0.9" ry="0.7" fill="#b8eea8" opacity="0.52" transform="rotate(139 165.7 720.1)"/><ellipse cx="242.7" cy="645.0" rx="1.5" ry="1.1" fill="#7fd090" opacity="0.63" transform="rotate(48 242.7 645.0)"/><ellipse cx="257.0" cy="710.9" rx="1.5" ry="1.1" fill="#7fd090" opacity="0.51" transform="rotate(152 257.0 710.9)"/><ellipse cx="261.6" cy="691.8" rx="1.1" ry="0.8" fill="#b8eea8" opacity="0.78" transform="rotate(47 261.6 691.8)"/><ellipse cx="197.3" cy="694.5" rx="0.9" ry="0.7" fill="#b8eea8" opacity="0.48" transform="rotate(106 197.3 694.5)"/><ellipse cx="286.6" cy="648.8" rx="1.4" ry="1.1" fill="#7fd090" opacity="0.76" transform="rotate(102 286.6 648.8)"/><ellipse cx="263.0" cy="694.1" rx="1.2" ry="0.9" fill="#9ee29a" opacity="0.45" transform="rotate(115 263.0 694.1)"/><ellipse cx="246.7" cy="658.9" rx="1.0" ry="0.8" fill="#9ee29a" opacity="0.65" transform="rotate(144 246.7 658.9)"/><ellipse cx="266.2" cy="755.0" rx="1.4" ry="1.0" fill="#6cc088" opacity="0.52" transform="rotate(76 266.2 755.0)"/><ellipse cx="263.9" cy="651.4" rx="1.0" ry="0.7" fill="#9ee29a" opacity="0.89" transform="rotate(43 263.9 651.4)"/><ellipse cx="255.0" cy="740.9" rx="1.0" ry="0.8" fill="#7fd090" opacity="0.45" transform="rotate(40 255.0 740.9)"/><ellipse cx="245.4" cy="680.5" rx="1.2" ry="0.9" fill="#7fd090" opacity="0.71" transform="rotate(48 245.4 680.5)"/><ellipse cx="228.6" cy="653.7" rx="0.9" ry="0.7" fill="#6cc088" opacity="0.80" transform="rotate(109 228.6 653.7)"/><ellipse cx="237.6" cy="710.7" rx="1.5" ry="1.1" fill="#b8eea8" opacity="0.59" transform="rotate(135 237.6 710.7)"/><ellipse cx="244.9" cy="743.0" rx="1.2" ry="0.9" fill="#b8eea8" opacity="0.73" transform="rotate(40 244.9 743.0)"/><ellipse cx="187.5" cy="673.5" rx="1.1" ry="0.8" fill="#6cc088" opacity="0.75" transform="rotate(17 187.5 673.5)"/><ellipse cx="279.4" cy="648.6" rx="1.4" ry="1.0" fill="#9ee29a" opacity="0.39" transform="rotate(28 279.4 648.6)"/><ellipse cx="272.1" cy="678.9" rx="1.4" ry="1.1" fill="#b8eea8" opacity="0.78" transform="rotate(103 272.1 678.9)"/><ellipse cx="254.7" cy="681.9" rx="1.5" ry="1.1" fill="#6cc088" opacity="0.88" transform="rotate(18 254.7 681.9)"/><ellipse cx="196.0" cy="739.1" rx="1.3" ry="1.0" fill="#7fd090" opacity="0.88" transform="rotate(3 196.0 739.1)"/><ellipse cx="257.4" cy="671.5" rx="0.9" ry="0.7" fill="#9ee29a" opacity="0.57" transform="rotate(40 257.4 671.5)"/><ellipse cx="227.7" cy="748.3" rx="1.4" ry="1.0" fill="#6cc088" opacity="0.61" transform="rotate(27 227.7 748.3)"/><ellipse cx="219.4" cy="702.5" rx="1.5" ry="1.1" fill="#b8eea8" opacity="0.58" transform="rotate(32 219.4 702.5)"/><ellipse cx="168.6" cy="686.3" rx="1.1" ry="0.8" fill="#b8eea8" opacity="0.49" transform="rotate(62 168.6 686.3)"/><ellipse cx="203.4" cy="676.5" rx="0.9" ry="0.6" fill="#9ee29a" opacity="0.52" transform="rotate(93 203.4 676.5)"/><ellipse cx="227.9" cy="641.1" rx="1.4" ry="1.1" fill="#b8eea8" opacity="0.60" transform="rotate(107 227.9 641.1)"/><ellipse cx="251.1" cy="738.3" rx="1.1" ry="0.8" fill="#7fd090" opacity="0.81" transform="rotate(120 251.1 738.3)"/><ellipse cx="199.2" cy="684.4" rx="0.9" ry="0.6" fill="#7fd090" opacity="0.54" transform="rotate(96 199.2 684.4)"/><ellipse cx="210.8" cy="717.2" rx="1.2" ry="0.9" fill="#9ee29a" opacity="0.82" transform="rotate(91 210.8 717.2)"/><ellipse cx="219.2" cy="675.3" rx="1.2" ry="0.9" fill="#b8eea8" opacity="0.44" transform="rotate(77 219.2 675.3)"/><ellipse cx="179.5" cy="640.2" rx="1.4" ry="1.1" fill="#b8eea8" opacity="0.52" transform="rotate(33 179.5 640.2)"/><ellipse cx="236.9" cy="670.3" rx="1.2" ry="0.9" fill="#7fd090" opacity="0.61" transform="rotate(175 236.9 670.3)"/><ellipse cx="152.6" cy="756.0" rx="1.2" ry="0.9" fill="#6cc088" opacity="0.38" transform="rotate(78 152.6 756.0)"/><ellipse cx="257.2" cy="630.7" rx="1.5" ry="1.1" fill="#b8eea8" opacity="0.59" transform="rotate(132 257.2 630.7)"/><ellipse cx="195.0" cy="741.9" rx="1.1" ry="0.8" fill="#7fd090" opacity="0.47" transform="rotate(81 195.0 741.9)"/><ellipse cx="257.8" cy="676.0" rx="1.1" ry="0.8" fill="#9ee29a" opacity="0.60" transform="rotate(157 257.8 676.0)"/><ellipse cx="189.9" cy="650.5" rx="1.2" ry="0.9" fill="#b8eea8" opacity="0.76" transform="rotate(148 189.9 650.5)"/><ellipse cx="167.3" cy="714.5" rx="1.3" ry="1.0" fill="#b8eea8" opacity="0.63" transform="rotate(30 167.3 714.5)"/><ellipse cx="217.4" cy="665.0" rx="1.6" ry="1.2" fill="#9ee29a" opacity="0.76" transform="rotate(63 217.4 665.0)"/><ellipse cx="274.6" cy="722.6" rx="1.4" ry="1.0" fill="#6cc088" opacity="0.47" transform="rotate(81 274.6 722.6)"/><ellipse cx="216.7" cy="641.3" rx="1.4" ry="1.0" fill="#6cc088" opacity="0.66" transform="rotate(57 216.7 641.3)"/><ellipse cx="267.5" cy="695.1" rx="1.2" ry="0.9" fill="#b8eea8" opacity="0.38" transform="rotate(33 267.5 695.1)"/><ellipse cx="239.6" cy="713.7" rx="1.2" ry="0.9" fill="#6cc088" opacity="0.69" transform="rotate(9 239.6 713.7)"/><ellipse cx="167.0" cy="658.9" rx="0.8" ry="0.6" fill="#9ee29a" opacity="0.77" transform="rotate(138 167.0 658.9)"/><ellipse cx="187.1" cy="685.2" rx="1.3" ry="1.0" fill="#6cc088" opacity="0.77" transform="rotate(86 187.1 685.2)"/><ellipse cx="267.6" cy="670.2" rx="1.0" ry="0.7" fill="#9ee29a" opacity="0.46" transform="rotate(129 267.6 670.2)"/><ellipse cx="163.1" cy="664.2" rx="1.2" ry="0.9" fill="#b8eea8" opacity="0.73" transform="rotate(0 163.1 664.2)"/><ellipse cx="257.7" cy="705.3" rx="1.2" ry="0.9" fill="#6cc088" opacity="0.51" transform="rotate(86 257.7 705.3)"/><ellipse cx="192.6" cy="632.8" rx="1.3" ry="1.0" fill="#6cc088" opacity="0.74" transform="rotate(141 192.6 632.8)"/><ellipse cx="270.2" cy="730.8" rx="1.5" ry="1.1" fill="#6cc088" opacity="0.45" transform="rotate(110 270.2 730.8)"/><ellipse cx="244.2" cy="701.9" rx="1.4" ry="1.0" fill="#7fd090" opacity="0.44" transform="rotate(110 244.2 701.9)"/><ellipse cx="274.1" cy="728.7" rx="0.9" ry="0.6" fill="#6cc088" opacity="0.47" transform="rotate(151 274.1 728.7)"/><ellipse cx="268.5" cy="690.5" rx="1.3" ry="0.9" fill="#b8eea8" opacity="0.83" transform="rotate(88 268.5 690.5)"/><ellipse cx="245.9" cy="624.5" rx="1.4" ry="1.0" fill="#7fd090" opacity="0.52" transform="rotate(110 245.9 624.5)"/><ellipse cx="261.8" cy="660.6" rx="1.0" ry="0.8" fill="#7fd090" opacity="0.67" transform="rotate(80 261.8 660.6)"/><ellipse cx="166.4" cy="626.3" rx="1.5" ry="1.1" fill="#b8eea8" opacity="0.68" transform="rotate(136 166.4 626.3)"/><ellipse cx="215.5" cy="705.9" rx="1.3" ry="1.0" fill="#9ee29a" opacity="0.38" transform="rotate(63 215.5 705.9)"/><ellipse cx="168.4" cy="647.6" rx="1.2" ry="0.9" fill="#6cc088" opacity="0.50" transform="rotate(39 168.4 647.6)"/><ellipse cx="283.0" cy="716.5" rx="1.1" ry="0.8" fill="#b8eea8" opacity="0.60" transform="rotate(89 283.0 716.5)"/><ellipse cx="283.2" cy="666.0" rx="1.4" ry="1.0" fill="#b8eea8" opacity="0.58" transform="rotate(126 283.2 666.0)"/><ellipse cx="222.7" cy="737.1" rx="0.9" ry="0.7" fill="#9ee29a" opacity="0.41" transform="rotate(75 222.7 737.1)"/><ellipse cx="237.3" cy="641.0" rx="1.5" ry="1.1" fill="#7fd090" opacity="0.80" transform="rotate(127 237.3 641.0)"/><ellipse cx="231.6" cy="709.7" rx="0.9" ry="0.6" fill="#b8eea8" opacity="0.80" transform="rotate(113 231.6 709.7)"/><ellipse cx="260.1" cy="621.5" rx="1.2" ry="0.9" fill="#9ee29a" opacity="0.90" transform="rotate(70 260.1 621.5)"/><ellipse cx="180.8" cy="671.2" rx="1.0" ry="0.8" fill="#9ee29a" opacity="0.51" transform="rotate(86 180.8 671.2)"/><ellipse cx="255.0" cy="731.6" rx="1.2" ry="0.9" fill="#b8eea8" opacity="0.81" transform="rotate(78 255.0 731.6)"/><ellipse cx="267.9" cy="728.6" rx="0.9" ry="0.6" fill="#6cc088" opacity="0.64" transform="rotate(10 267.9 728.6)"/><ellipse cx="226.0" cy="698.9" rx="1.1" ry="0.8" fill="#6cc088" opacity="0.53" transform="rotate(113 226.0 698.9)"/><ellipse cx="203.7" cy="750.5" rx="1.0" ry="0.7" fill="#6cc088" opacity="0.77" transform="rotate(168 203.7 750.5)"/><ellipse cx="164.3" cy="680.3" rx="1.5" ry="1.1" fill="#7fd090" opacity="0.62" transform="rotate(82 164.3 680.3)"/><ellipse cx="241.1" cy="653.6" rx="1.5" ry="1.1" fill="#9ee29a" opacity="0.41" transform="rotate(158 241.1 653.6)"/><ellipse cx="167.0" cy="751.4" rx="1.4" ry="1.0" fill="#9ee29a" opacity="0.40" transform="rotate(161 167.0 751.4)"/><ellipse cx="230.1" cy="679.7" rx="1.5" ry="1.1" fill="#6cc088" opacity="0.64" transform="rotate(144 230.1 679.7)"/><ellipse cx="255.9" cy="667.3" rx="1.5" ry="1.1" fill="#6cc088" opacity="0.87" transform="rotate(133 255.9 667.3)"/><ellipse cx="275.7" cy="643.0" rx="1.1" ry="0.8" fill="#6cc088" opacity="0.44" transform="rotate(14 275.7 643.0)"/><ellipse cx="242.2" cy="673.7" rx="1.3" ry="1.0" fill="#6cc088" opacity="0.79" transform="rotate(119 242.2 673.7)"/><ellipse cx="230.7" cy="662.5" rx="1.1" ry="0.8" fill="#9ee29a" opacity="0.53" transform="rotate(62 230.7 662.5)"/><ellipse cx="191.7" cy="682.6" rx="1.5" ry="1.1" fill="#6cc088" opacity="0.44" transform="rotate(3 191.7 682.6)"/><ellipse cx="219.6" cy="682.0" rx="1.4" ry="1.1" fill="#b8eea8" opacity="0.54" transform="rotate(33 219.6 682.0)"/><ellipse cx="220.8" cy="685.7" rx="1.1" ry="0.8" fill="#7fd090" opacity="0.45" transform="rotate(3 220.8 685.7)"/><ellipse cx="186.5" cy="691.3" rx="1.1" ry="0.8" fill="#b8eea8" opacity="0.51" transform="rotate(96 186.5 691.3)"/><ellipse cx="187.3" cy="683.5" rx="1.5" ry="1.1" fill="#7fd090" opacity="0.47" transform="rotate(37 187.3 683.5)"/><ellipse cx="174.4" cy="642.0" rx="1.3" ry="1.0" fill="#b8eea8" opacity="0.45" transform="rotate(50 174.4 642.0)"/><ellipse cx="229.1" cy="640.6" rx="1.0" ry="0.7" fill="#9ee29a" opacity="0.49" transform="rotate(79 229.1 640.6)"/><ellipse cx="152.3" cy="652.9" rx="1.5" ry="1.1" fill="#6cc088" opacity="0.51" transform="rotate(64 152.3 652.9)"/><ellipse cx="259.6" cy="623.4" rx="0.9" ry="0.6" fill="#6cc088" opacity="0.63" transform="rotate(76 259.6 623.4)"/><ellipse cx="232.0" cy="749.2" rx="1.0" ry="0.7" fill="#9ee29a" opacity="0.80" transform="rotate(5 232.0 749.2)"/><ellipse cx="245.1" cy="700.1" rx="0.8" ry="0.6" fill="#7fd090" opacity="0.51" transform="rotate(131 245.1 700.1)"/><ellipse cx="273.7" cy="716.8" rx="1.4" ry="1.0" fill="#b8eea8" opacity="0.75" transform="rotate(136 273.7 716.8)"/><ellipse cx="160.8" cy="708.6" rx="1.3" ry="1.0" fill="#9ee29a" opacity="0.53" transform="rotate(167 160.8 708.6)"/><ellipse cx="269.2" cy="667.8" rx="1.0" ry="0.7" fill="#7fd090" opacity="0.53" transform="rotate(14 269.2 667.8)"/><ellipse cx="195.9" cy="703.3" rx="1.3" ry="0.9" fill="#b8eea8" opacity="0.41" transform="rotate(8 195.9 703.3)"/><ellipse cx="228.6" cy="664.5" rx="1.2" ry="0.9" fill="#9ee29a" opacity="0.73" transform="rotate(88 228.6 664.5)"/><ellipse cx="230.5" cy="712.3" rx="1.1" ry="0.8" fill="#7fd090" opacity="0.69" transform="rotate(63 230.5 712.3)"/><ellipse cx="204.3" cy="694.7" rx="1.4" ry="1.1" fill="#6cc088" opacity="0.85" transform="rotate(36 204.3 694.7)"/><ellipse cx="205.0" cy="721.1" rx="0.9" ry="0.7" fill="#7fd090" opacity="0.39" transform="rotate(79 205.0 721.1)"/><ellipse cx="173.3" cy="640.5" rx="1.3" ry="1.0" fill="#6cc088" opacity="0.55" transform="rotate(156 173.3 640.5)"/><ellipse cx="185.9" cy="696.6" rx="1.0" ry="0.7" fill="#6cc088" opacity="0.42" transform="rotate(69 185.9 696.6)"/><ellipse cx="221.2" cy="636.7" rx="1.4" ry="1.0" fill="#6cc088" opacity="0.49" transform="rotate(126 221.2 636.7)"/><ellipse cx="262.1" cy="622.5" rx="1.2" ry="0.9" fill="#7fd090" opacity="0.81" transform="rotate(124 262.1 622.5)"/><ellipse cx="268.4" cy="674.4" rx="1.0" ry="0.7" fill="#9ee29a" opacity="0.47" transform="rotate(119 268.4 674.4)"/><ellipse cx="273.0" cy="666.5" rx="1.1" ry="0.8" fill="#6cc088" opacity="0.50" transform="rotate(111 273.0 666.5)"/><ellipse cx="200.7" cy="724.9" rx="0.9" ry="0.6" fill="#b8eea8" opacity="0.74" transform="rotate(113 200.7 724.9)"/><ellipse cx="273.7" cy="663.7" rx="1.1" ry="0.8" fill="#6cc088" opacity="0.73" transform="rotate(93 273.7 663.7)"/><ellipse cx="190.5" cy="643.8" rx="1.4" ry="1.1" fill="#9ee29a" opacity="0.89" transform="rotate(71 190.5 643.8)"/><ellipse cx="209.3" cy="713.3" rx="1.1" ry="0.8" fill="#b8eea8" opacity="0.64" transform="rotate(15 209.3 713.3)"/><ellipse cx="247.0" cy="630.8" rx="1.2" ry="0.9" fill="#b8eea8" opacity="0.80" transform="rotate(173 247.0 630.8)"/><ellipse cx="259.3" cy="682.3" rx="0.9" ry="0.7" fill="#7fd090" opacity="0.85" transform="rotate(124 259.3 682.3)"/><ellipse cx="286.3" cy="735.7" rx="1.3" ry="1.0" fill="#6cc088" opacity="0.82" transform="rotate(148 286.3 735.7)"/><ellipse cx="206.1" cy="686.4" rx="1.0" ry="0.7" fill="#9ee29a" opacity="0.88" transform="rotate(157 206.1 686.4)"/><ellipse cx="186.8" cy="680.2" rx="1.0" ry="0.7" fill="#9ee29a" opacity="0.49" transform="rotate(2 186.8 680.2)"/><ellipse cx="216.3" cy="651.3" rx="1.1" ry="0.8" fill="#7fd090" opacity="0.40" transform="rotate(56 216.3 651.3)"/><ellipse cx="164.7" cy="659.1" rx="1.3" ry="1.0" fill="#7fd090" opacity="0.44" transform="rotate(106 164.7 659.1)"/><ellipse cx="218.6" cy="634.3" rx="1.5" ry="1.1" fill="#6cc088" opacity="0.80" transform="rotate(142 218.6 634.3)"/><ellipse cx="165.7" cy="676.0" rx="1.3" ry="1.0" fill="#b8eea8" opacity="0.43" transform="rotate(174 165.7 676.0)"/><ellipse cx="283.4" cy="703.6" rx="1.3" ry="0.9" fill="#9ee29a" opacity="0.82" transform="rotate(9 283.4 703.6)"/><ellipse cx="218.9" cy="647.9" rx="1.0" ry="0.7" fill="#9ee29a" opacity="0.67" transform="rotate(178 218.9 647.9)"/><ellipse cx="260.6" cy="660.5" rx="0.9" ry="0.6" fill="#9ee29a" opacity="0.73" transform="rotate(133 260.6 660.5)"/><ellipse cx="218.9" cy="730.0" rx="1.1" ry="0.8" fill="#7fd090" opacity="0.68" transform="rotate(157 218.9 730.0)"/><ellipse cx="243.1" cy="637.3" rx="0.9" ry="0.6" fill="#6cc088" opacity="0.66" transform="rotate(34 243.1 637.3)"/><ellipse cx="181.0" cy="636.4" rx="0.9" ry="0.6" fill="#9ee29a" opacity="0.39" transform="rotate(150 181.0 636.4)"/><ellipse cx="163.1" cy="716.9" rx="1.3" ry="1.0" fill="#7fd090" opacity="0.55" transform="rotate(75 163.1 716.9)"/><ellipse cx="227.7" cy="640.9" rx="1.0" ry="0.7" fill="#7fd090" opacity="0.53" transform="rotate(109 227.7 640.9)"/><ellipse cx="194.9" cy="700.5" rx="1.1" ry="0.8" fill="#b8eea8" opacity="0.86" transform="rotate(101 194.9 700.5)"/><ellipse cx="158.1" cy="693.2" rx="1.5" ry="1.1" fill="#9ee29a" opacity="0.43" transform="rotate(180 158.1 693.2)"/><ellipse cx="186.7" cy="649.4" rx="1.2" ry="0.9" fill="#9ee29a" opacity="0.77" transform="rotate(177 186.7 649.4)"/><ellipse cx="246.2" cy="738.8" rx="1.1" ry="0.8" fill="#6cc088" opacity="0.64" transform="rotate(88 246.2 738.8)"/><ellipse cx="216.2" cy="677.4" rx="1.4" ry="1.0" fill="#6cc088" opacity="0.47" transform="rotate(117 216.2 677.4)"/><ellipse cx="258.5" cy="624.1" rx="0.9" ry="0.7" fill="#b8eea8" opacity="0.79" transform="rotate(92 258.5 624.1)"/><ellipse cx="228.7" cy="694.9" rx="1.6" ry="1.2" fill="#9ee29a" opacity="0.89" transform="rotate(93 228.7 694.9)"/><ellipse cx="256.8" cy="674.5" rx="1.4" ry="1.0" fill="#6cc088" opacity="0.72" transform="rotate(179 256.8 674.5)"/><ellipse cx="179.3" cy="729.6" rx="1.1" ry="0.8" fill="#6cc088" opacity="0.77" transform="rotate(62 179.3 729.6)"/><ellipse cx="198.3" cy="640.7" rx="1.0" ry="0.8" fill="#6cc088" opacity="0.65" transform="rotate(30 198.3 640.7)"/><ellipse cx="262.4" cy="720.9" rx="0.9" ry="0.6" fill="#6cc088" opacity="0.53" transform="rotate(45 262.4 720.9)"/><ellipse cx="201.5" cy="663.0" rx="0.9" ry="0.6" fill="#7fd090" opacity="0.46" transform="rotate(149 201.5 663.0)"/><ellipse cx="215.0" cy="728.9" rx="1.4" ry="1.0" fill="#7fd090" opacity="0.42" transform="rotate(164 215.0 728.9)"/><ellipse cx="216.7" cy="742.7" rx="1.5" ry="1.1" fill="#6cc088" opacity="0.47" transform="rotate(101 216.7 742.7)"/><ellipse cx="199.9" cy="706.6" rx="1.5" ry="1.1" fill="#9ee29a" opacity="0.86" transform="rotate(35 199.9 706.6)"/><ellipse cx="169.1" cy="696.2" rx="0.9" ry="0.7" fill="#7fd090" opacity="0.75" transform="rotate(15 169.1 696.2)"/><ellipse cx="251.2" cy="756.2" rx="1.2" ry="0.9" fill="#6cc088" opacity="0.77" transform="rotate(86 251.2 756.2)"/><ellipse cx="284.4" cy="628.5" rx="1.2" ry="0.9" fill="#6cc088" opacity="0.57" transform="rotate(43 284.4 628.5)"/><ellipse cx="268.3" cy="675.8" rx="0.9" ry="0.7" fill="#9ee29a" opacity="0.40" transform="rotate(82 268.3 675.8)"/><ellipse cx="176.8" cy="629.3" rx="1.2" ry="0.9" fill="#9ee29a" opacity="0.38" transform="rotate(125 176.8 629.3)"/><ellipse cx="252.6" cy="661.4" rx="1.5" ry="1.1" fill="#7fd090" opacity="0.75" transform="rotate(30 252.6 661.4)"/><ellipse cx="207.4" cy="652.8" rx="1.3" ry="0.9" fill="#6cc088" opacity="0.90" transform="rotate(155 207.4 652.8)"/><ellipse cx="221.2" cy="648.0" rx="1.4" ry="1.1" fill="#b8eea8" opacity="0.88" transform="rotate(16 221.2 648.0)"/><ellipse cx="157.0" cy="631.9" rx="0.9" ry="0.7" fill="#9ee29a" opacity="0.43" transform="rotate(104 157.0 631.9)"/><ellipse cx="242.2" cy="708.0" rx="1.3" ry="1.0" fill="#6cc088" opacity="0.65" transform="rotate(134 242.2 708.0)"/><ellipse cx="188.3" cy="707.5" rx="1.3" ry="0.9" fill="#9ee29a" opacity="0.85" transform="rotate(121 188.3 707.5)"/><ellipse cx="236.5" cy="689.4" rx="1.1" ry="0.8" fill="#7fd090" opacity="0.70" transform="rotate(152 236.5 689.4)"/><ellipse cx="249.6" cy="683.3" rx="1.0" ry="0.8" fill="#9ee29a" opacity="0.64" transform="rotate(159 249.6 683.3)"/><ellipse cx="269.2" cy="727.5" rx="1.4" ry="1.1" fill="#7fd090" opacity="0.38" transform="rotate(25 269.2 727.5)"/><ellipse cx="226.1" cy="706.2" rx="1.5" ry="1.1" fill="#9ee29a" opacity="0.78" transform="rotate(5 226.1 706.2)"/><ellipse cx="202.0" cy="642.1" rx="1.2" ry="0.9" fill="#6cc088" opacity="0.86" transform="rotate(30 202.0 642.1)"/><ellipse cx="172.8" cy="652.6" rx="1.3" ry="1.0" fill="#b8eea8" opacity="0.43" transform="rotate(142 172.8 652.6)"/><ellipse cx="191.9" cy="672.4" rx="1.4" ry="1.0" fill="#6cc088" opacity="0.47" transform="rotate(117 191.9 672.4)"/><ellipse cx="264.6" cy="666.6" rx="1.4" ry="1.0" fill="#7fd090" opacity="0.88" transform="rotate(56 264.6 666.6)"/><ellipse cx="236.1" cy="745.6" rx="1.0" ry="0.8" fill="#b8eea8" opacity="0.50" transform="rotate(143 236.1 745.6)"/><ellipse cx="186.1" cy="751.4" rx="0.9" ry="0.7" fill="#b8eea8" opacity="0.57" transform="rotate(33 186.1 751.4)"/><ellipse cx="209.9" cy="707.3" rx="0.9" ry="0.7" fill="#9ee29a" opacity="0.56" transform="rotate(9 209.9 707.3)"/><ellipse cx="193.3" cy="738.5" rx="0.9" ry="0.7" fill="#9ee29a" opacity="0.42" transform="rotate(111 193.3 738.5)"/><ellipse cx="157.5" cy="647.9" rx="1.3" ry="1.0" fill="#6cc088" opacity="0.75" transform="rotate(161 157.5 647.9)"/><ellipse cx="253.9" cy="665.2" rx="1.3" ry="1.0" fill="#b8eea8" opacity="0.80" transform="rotate(146 253.9 665.2)"/><ellipse cx="286.7" cy="676.8" rx="0.9" ry="0.7" fill="#6cc088" opacity="0.61" transform="rotate(107 286.7 676.8)"/><ellipse cx="274.6" cy="623.6" rx="1.0" ry="0.7" fill="#6cc088" opacity="0.49" transform="rotate(19 274.6 623.6)"/><ellipse cx="209.8" cy="631.6" rx="1.3" ry="0.9" fill="#7fd090" opacity="0.72" transform="rotate(167 209.8 631.6)"/><ellipse cx="233.9" cy="639.4" rx="0.9" ry="0.6" fill="#6cc088" opacity="0.83" transform="rotate(25 233.9 639.4)"/><ellipse cx="171.0" cy="667.0" rx="1.3" ry="0.9" fill="#6cc088" opacity="0.39" transform="rotate(114 171.0 667.0)"/><ellipse cx="199.1" cy="683.1" rx="1.2" ry="0.9" fill="#b8eea8" opacity="0.83" transform="rotate(37 199.1 683.1)"/><ellipse cx="181.4" cy="694.0" rx="2.4" ry="2.0" fill="#f4ffe0" opacity="1"/><ellipse cx="279.3" cy="700.4" rx="2.6" ry="2.2" fill="#d8f8b8" opacity="1"/><ellipse cx="222.0" cy="690.0" rx="2.9" ry="2.4" fill="#5fb888" opacity="0.7"/><ellipse cx="215.0" cy="731.0" rx="2.2" ry="1.8" fill="#a8e8a0" opacity="0.9"/>
</g></g>
<g clip-path="url(#cp2)"><g filter="url(#bl3m)">
<ellipse cx="382.9" cy="632.6" rx="10.2" ry="5.8" fill="#1f6a58" opacity="0.10" transform="rotate(150 382.9 632.6)"/>
<ellipse cx="375.9" cy="670.7" rx="9.6" ry="3.5" fill="#1f6a58" opacity="0.11" transform="rotate(123 375.9 670.7)"/>
<ellipse cx="327.9" cy="671.9" rx="10.9" ry="4.5" fill="#1f6a58" opacity="0.13" transform="rotate(173 327.9 671.9)"/>
<ellipse cx="404.4" cy="632.5" rx="6.8" ry="4.1" fill="#1f6a58" opacity="0.11" transform="rotate(65 404.4 632.5)"/>
<ellipse cx="402.8" cy="697.2" rx="10.3" ry="5.0" fill="#1f6a58" opacity="0.10" transform="rotate(6 402.8 697.2)"/>
<ellipse cx="318.5" cy="677.2" rx="6.4" ry="5.2" fill="#1f6a58" opacity="0.06" transform="rotate(164 318.5 677.2)"/>
<ellipse cx="368.9" cy="623.2" rx="8.5" ry="3.7" fill="#1f6a58" opacity="0.12" transform="rotate(155 368.9 623.2)"/>
<ellipse cx="412.4" cy="649.9" rx="10.8" ry="5.4" fill="#1f6a58" opacity="0.13" transform="rotate(92 412.4 649.9)"/>
<ellipse cx="375.1" cy="658.8" rx="10.8" ry="4.7" fill="#1f6a58" opacity="0.11" transform="rotate(38 375.1 658.8)"/>
<ellipse cx="295.8" cy="681.6" rx="9.8" ry="3.2" fill="#1f6a58" opacity="0.07" transform="rotate(117 295.8 681.6)"/>
<ellipse cx="378.5" cy="666.8" rx="6.5" ry="6.3" fill="#1f6a58" opacity="0.07" transform="rotate(12 378.5 666.8)"/>
<ellipse cx="358.7" cy="653.6" rx="9.6" ry="4.6" fill="#1f6a58" opacity="0.10" transform="rotate(104 358.7 653.6)"/>
<ellipse cx="329.6" cy="649.0" rx="10.7" ry="4.5" fill="#1f6a58" opacity="0.13" transform="rotate(94 329.6 649.0)"/>
<ellipse cx="290.4" cy="658.1" rx="9.8" ry="3.3" fill="#1f6a58" opacity="0.09" transform="rotate(136 290.4 658.1)"/>
<ellipse cx="332.7" cy="646.7" rx="12.4" ry="3.3" fill="#1f6a58" opacity="0.11" transform="rotate(148 332.7 646.7)"/>
<ellipse cx="412.5" cy="716.2" rx="8.5" ry="4.9" fill="#1f6a58" opacity="0.06" transform="rotate(166 412.5 716.2)"/>
<ellipse cx="406.0" cy="712.4" rx="7.5" ry="6.2" fill="#1f6a58" opacity="0.06" transform="rotate(54 406.0 712.4)"/>
<ellipse cx="360.0" cy="644.0" rx="6.0" ry="5.0" fill="#3a9878" opacity="0.4"/>
<ellipse cx="372.0" cy="704.0" rx="6.0" ry="4.0" fill="#3a9878" opacity="0.4"/>
</g><g filter="url(#bl)">
<path d="M-7.9,-0.4 Q0,-1.6 7.9,0.4 Q0,1.6 -7.9,-0.4Z" fill="#35907a" opacity="0.44" transform="translate(326.4,690.7) rotate(5)"/>
<path d="M-9.6,-1.2 Q0,-1.7 9.6,1.2 Q0,1.7 -9.6,-1.2Z" fill="#3a9878" opacity="0.35" transform="translate(408.0,737.3) rotate(168)"/>
<path d="M-8.8,0.2 Q0,-2.4 8.8,-0.2 Q0,2.4 -8.8,0.2Z" fill="#3a9878" opacity="0.24" transform="translate(295.2,640.4) rotate(8)"/>
<path d="M-4.7,0.2 Q0,-2.4 4.7,-0.2 Q0,2.4 -4.7,0.2Z" fill="#4aa880" opacity="0.24" transform="translate(312.6,652.5) rotate(57)"/>
<path d="M-7.2,0.3 Q0,-1.8 7.2,-0.3 Q0,1.8 -7.2,0.3Z" fill="#35907a" opacity="0.23" transform="translate(418.5,642.1) rotate(158)"/>
<path d="M-5.2,-0.7 Q0,-1.8 5.2,0.7 Q0,1.8 -5.2,-0.7Z" fill="#3a9878" opacity="0.46" transform="translate(346.8,688.2) rotate(48)"/>
<path d="M-5.7,0.5 Q0,-1.2 5.7,-0.5 Q0,1.2 -5.7,0.5Z" fill="#2f8a6c" opacity="0.39" transform="translate(310.8,687.9) rotate(81)"/>
<path d="M-9.3,-1.2 Q0,-1.7 9.3,1.2 Q0,1.7 -9.3,-1.2Z" fill="#3a9878" opacity="0.22" transform="translate(417.7,742.9) rotate(166)"/>
<path d="M-6.0,-0.2 Q0,-2.2 6.0,0.2 Q0,2.2 -6.0,-0.2Z" fill="#4aa880" opacity="0.46" transform="translate(364.5,653.9) rotate(88)"/>
<path d="M-6.3,-0.2 Q0,-2.3 6.3,0.2 Q0,2.3 -6.3,-0.2Z" fill="#2f8a6c" opacity="0.43" transform="translate(366.5,718.2) rotate(90)"/>
<path d="M-7.1,0.4 Q0,-2.3 7.1,-0.4 Q0,2.3 -7.1,0.4Z" fill="#4aa880" opacity="0.46" transform="translate(407.2,675.8) rotate(52)"/>
<path d="M-6.1,0.6 Q0,-2.3 6.1,-0.6 Q0,2.3 -6.1,0.6Z" fill="#35907a" opacity="0.23" transform="translate(422.0,736.3) rotate(16)"/>
<path d="M-9.0,0.3 Q0,-2.1 9.0,-0.3 Q0,2.1 -9.0,0.3Z" fill="#35907a" opacity="0.33" transform="translate(341.0,629.3) rotate(99)"/>
<path d="M-7.2,0.5 Q0,-2.4 7.2,-0.5 Q0,2.4 -7.2,0.5Z" fill="#35907a" opacity="0.43" transform="translate(393.8,648.0) rotate(97)"/>
<path d="M-4.9,-0.7 Q0,-1.9 4.9,0.7 Q0,1.9 -4.9,-0.7Z" fill="#3a9878" opacity="0.36" transform="translate(398.7,724.3) rotate(129)"/>
<path d="M-7.3,0.3 Q0,-1.2 7.3,-0.3 Q0,1.2 -7.3,0.3Z" fill="#35907a" opacity="0.35" transform="translate(366.2,659.7) rotate(176)"/>
<path d="M-9.8,-0.9 Q0,-1.5 9.8,0.9 Q0,1.5 -9.8,-0.9Z" fill="#3a9878" opacity="0.50" transform="translate(365.5,688.1) rotate(121)"/>
<path d="M-6.3,0.5 Q0,-1.8 6.3,-0.5 Q0,1.8 -6.3,0.5Z" fill="#35907a" opacity="0.28" transform="translate(389.2,630.2) rotate(177)"/>
<path d="M-7.2,0.4 Q0,-1.0 7.2,-0.4 Q0,1.0 -7.2,0.4Z" fill="#35907a" opacity="0.24" transform="translate(311.4,752.2) rotate(103)"/>
<path d="M-5.8,0.4 Q0,-1.8 5.8,-0.4 Q0,1.8 -5.8,0.4Z" fill="#4aa880" opacity="0.37" transform="translate(398.4,697.6) rotate(119)"/>
<path d="M-7.0,-0.6 Q0,-1.6 7.0,0.6 Q0,1.6 -7.0,-0.6Z" fill="#2f8a6c" opacity="0.25" transform="translate(312.6,731.5) rotate(84)"/>
<path d="M-6.3,0.4 Q0,-1.5 6.3,-0.4 Q0,1.5 -6.3,0.4Z" fill="#2f8a6c" opacity="0.34" transform="translate(359.2,727.1) rotate(4)"/>
<path d="M-5.6,0.0 Q0,-1.8 5.6,-0.0 Q0,1.8 -5.6,0.0Z" fill="#4aa880" opacity="0.32" transform="translate(409.4,706.6) rotate(110)"/>
<path d="M-7.8,-0.2 Q0,-1.4 7.8,0.2 Q0,1.4 -7.8,-0.2Z" fill="#4aa880" opacity="0.44" transform="translate(393.2,659.5) rotate(143)"/>
<path d="M-10.2,0.7 Q0,-1.2 10.2,-0.7 Q0,1.2 -10.2,0.7Z" fill="#4aa880" opacity="0.25" transform="translate(352.7,690.0) rotate(103)"/>
<path d="M-6.8,-0.6 Q0,-2.5 6.8,0.6 Q0,2.5 -6.8,-0.6Z" fill="#35907a" opacity="0.40" transform="translate(318.8,698.7) rotate(28)"/>
<path d="M-8.3,-0.2 Q0,-1.6 8.3,0.2 Q0,1.6 -8.3,-0.2Z" fill="#35907a" opacity="0.27" transform="translate(339.8,673.8) rotate(59)"/>
<path d="M-6.0,0.4 Q0,-2.1 6.0,-0.4 Q0,2.1 -6.0,0.4Z" fill="#4aa880" opacity="0.23" transform="translate(329.7,720.3) rotate(14)"/>
<path d="M-6.5,-0.0 Q0,-1.7 6.5,0.0 Q0,1.7 -6.5,-0.0Z" fill="#2f8a6c" opacity="0.42" transform="translate(401.3,738.9) rotate(142)"/>
<path d="M-10.2,1.1 Q0,-2.3 10.2,-1.1 Q0,2.3 -10.2,1.1Z" fill="#35907a" opacity="0.38" transform="translate(338.4,656.5) rotate(176)"/>
<path d="M-8.4,1.1 Q0,-1.5 8.4,-1.1 Q0,1.5 -8.4,1.1Z" fill="#4aa880" opacity="0.37" transform="translate(341.2,712.2) rotate(23)"/>
<path d="M-6.4,0.3 Q0,-2.3 6.4,-0.3 Q0,2.3 -6.4,0.3Z" fill="#2f8a6c" opacity="0.45" transform="translate(374.8,740.3) rotate(19)"/>
<path d="M-9.9,1.3 Q0,-1.3 9.9,-1.3 Q0,1.3 -9.9,1.3Z" fill="#35907a" opacity="0.51" transform="translate(332.2,682.0) rotate(157)"/>
<path d="M-9.4,1.3 Q0,-1.6 9.4,-1.3 Q0,1.6 -9.4,1.3Z" fill="#3a9878" opacity="0.24" transform="translate(317.3,658.7) rotate(116)"/>
<path d="M-5.7,0.0 Q0,-2.3 5.7,-0.0 Q0,2.3 -5.7,0.0Z" fill="#35907a" opacity="0.21" transform="translate(306.2,650.6) rotate(81)"/>
<path d="M-5.4,0.3 Q0,-1.9 5.4,-0.3 Q0,1.9 -5.4,0.3Z" fill="#4aa880" opacity="0.25" transform="translate(302.0,646.2) rotate(156)"/>
<path d="M-9.8,-0.2 Q0,-1.6 9.8,0.2 Q0,1.6 -9.8,-0.2Z" fill="#35907a" opacity="0.50" transform="translate(384.6,650.8) rotate(27)"/>
<path d="M-6.8,-0.4 Q0,-2.4 6.8,0.4 Q0,2.4 -6.8,-0.4Z" fill="#3a9878" opacity="0.41" transform="translate(337.7,650.6) rotate(88)"/>
<path d="M-5.3,-0.5 Q0,-1.3 5.3,0.5 Q0,1.3 -5.3,-0.5Z" fill="#2f8a6c" opacity="0.45" transform="translate(335.2,676.3) rotate(169)"/>
<path d="M-4.8,0.1 Q0,-1.5 4.8,-0.1 Q0,1.5 -4.8,0.1Z" fill="#3a9878" opacity="0.23" transform="translate(374.7,715.4) rotate(122)"/>
<path d="M-5.9,0.1 Q0,-1.7 5.9,-0.1 Q0,1.7 -5.9,0.1Z" fill="#35907a" opacity="0.34" transform="translate(388.1,636.2) rotate(36)"/>
<path d="M-6.1,0.6 Q0,-1.7 6.1,-0.6 Q0,1.7 -6.1,0.6Z" fill="#2f8a6c" opacity="0.45" transform="translate(385.4,646.3) rotate(73)"/>
<path d="M-4.8,0.3 Q0,-2.5 4.8,-0.3 Q0,2.5 -4.8,0.3Z" fill="#4aa880" opacity="0.23" transform="translate(354.0,728.3) rotate(119)"/>
<path d="M-6.9,0.0 Q0,-0.9 6.9,-0.0 Q0,0.9 -6.9,0.0Z" fill="#4aa880" opacity="0.24" transform="translate(335.7,729.8) rotate(19)"/>
<path d="M-6.7,-0.3 Q0,-1.9 6.7,0.3 Q0,1.9 -6.7,-0.3Z" fill="#2f8a6c" opacity="0.31" transform="translate(392.7,740.2) rotate(23)"/>
<path d="M-6.2,-0.3 Q0,-1.9 6.2,0.3 Q0,1.9 -6.2,-0.3Z" fill="#4aa880" opacity="0.22" transform="translate(366.5,723.1) rotate(165)"/>
<path d="M-5.3,-0.6 Q0,-1.6 5.3,0.6 Q0,1.6 -5.3,-0.6Z" fill="#4aa880" opacity="0.39" transform="translate(356.2,746.2) rotate(93)"/>
<path d="M-7.0,0.6 Q0,-1.1 7.0,-0.6 Q0,1.1 -7.0,0.6Z" fill="#2f8a6c" opacity="0.28" transform="translate(381.7,661.2) rotate(51)"/>
<path d="M-6.2,0.4 Q0,-1.4 6.2,-0.4 Q0,1.4 -6.2,0.4Z" fill="#4aa880" opacity="0.37" transform="translate(373.0,697.5) rotate(159)"/>
<path d="M-6.0,0.8 Q0,-2.5 6.0,-0.8 Q0,2.5 -6.0,0.8Z" fill="#2f8a6c" opacity="0.42" transform="translate(329.3,655.4) rotate(121)"/>
<path d="M-5.3,-0.1 Q0,-1.2 5.3,0.1 Q0,1.2 -5.3,-0.1Z" fill="#2f8a6c" opacity="0.31" transform="translate(413.0,668.0) rotate(82)"/>
<path d="M-4.6,-0.3 Q0,-1.6 4.6,0.3 Q0,1.6 -4.6,-0.3Z" fill="#35907a" opacity="0.33" transform="translate(313.2,749.4) rotate(67)"/>
<path d="M-5.6,-0.8 Q0,-1.5 5.6,0.8 Q0,1.5 -5.6,-0.8Z" fill="#2f8a6c" opacity="0.42" transform="translate(393.1,748.4) rotate(6)"/>
<path d="M-9.7,1.3 Q0,-2.0 9.7,-1.3 Q0,2.0 -9.7,1.3Z" fill="#4aa880" opacity="0.26" transform="translate(311.5,673.1) rotate(139)"/>
<path d="M-7.9,-0.8 Q0,-2.2 7.9,0.8 Q0,2.2 -7.9,-0.8Z" fill="#35907a" opacity="0.41" transform="translate(290.8,746.8) rotate(29)"/>
<path d="M-8.4,0.9 Q0,-2.3 8.4,-0.9 Q0,2.3 -8.4,0.9Z" fill="#2f8a6c" opacity="0.33" transform="translate(321.1,660.8) rotate(137)"/>
<path d="M-7.3,0.5 Q0,-1.1 7.3,-0.5 Q0,1.1 -7.3,0.5Z" fill="#3a9878" opacity="0.41" transform="translate(360.0,752.5) rotate(146)"/>
<path d="M-5.5,-0.3 Q0,-1.2 5.5,0.3 Q0,1.2 -5.5,-0.3Z" fill="#2f8a6c" opacity="0.49" transform="translate(410.1,693.7) rotate(35)"/>
<path d="M-5.5,0.5 Q0,-1.7 5.5,-0.5 Q0,1.7 -5.5,0.5Z" fill="#3a9878" opacity="0.29" transform="translate(411.8,732.4) rotate(104)"/>
<path d="M-9.0,-1.2 Q0,-2.3 9.0,1.2 Q0,2.3 -9.0,-1.2Z" fill="#35907a" opacity="0.49" transform="translate(312.3,649.8) rotate(111)"/>
<path d="M-7.5,0.5 Q0,-1.6 7.5,-0.5 Q0,1.6 -7.5,0.5Z" fill="#3a9878" opacity="0.36" transform="translate(310.9,652.5) rotate(171)"/>
<path d="M-6.8,-0.5 Q0,-1.5 6.8,0.5 Q0,1.5 -6.8,-0.5Z" fill="#35907a" opacity="0.49" transform="translate(296.4,645.8) rotate(148)"/>
<path d="M-4.3,-0.5 Q0,-1.4 4.3,0.5 Q0,1.4 -4.3,-0.5Z" fill="#2f8a6c" opacity="0.28" transform="translate(406.4,701.8) rotate(41)"/>
<path d="M-6.4,-0.4 Q0,-2.1 6.4,0.4 Q0,2.1 -6.4,-0.4Z" fill="#4aa880" opacity="0.34" transform="translate(290.4,729.2) rotate(95)"/>
<path d="M-6.0,-0.1 Q0,-1.6 6.0,0.1 Q0,1.6 -6.0,-0.1Z" fill="#4aa880" opacity="0.30" transform="translate(336.4,683.1) rotate(125)"/>
<path d="M-5.7,0.6 Q0,-2.0 5.7,-0.6 Q0,2.0 -5.7,0.6Z" fill="#2f8a6c" opacity="0.34" transform="translate(403.7,645.3) rotate(28)"/>
<path d="M-7.6,-0.6 Q0,-2.1 7.6,0.6 Q0,2.1 -7.6,-0.6Z" fill="#35907a" opacity="0.37" transform="translate(304.2,638.0) rotate(17)"/>
<path d="M-4.8,-0.1 Q0,-2.4 4.8,0.1 Q0,2.4 -4.8,-0.1Z" fill="#3a9878" opacity="0.38" transform="translate(303.2,734.5) rotate(88)"/>
<path d="M-6.8,0.0 Q0,-1.3 6.8,-0.0 Q0,1.3 -6.8,0.0Z" fill="#3a9878" opacity="0.40" transform="translate(409.1,634.0) rotate(2)"/>
<path d="M-9.1,-0.6 Q0,-2.0 9.1,0.6 Q0,2.0 -9.1,-0.6Z" fill="#2f8a6c" opacity="0.35" transform="translate(382.7,676.7) rotate(127)"/>
<path d="M-9.0,0.4 Q0,-2.2 9.0,-0.4 Q0,2.2 -9.0,0.4Z" fill="#4aa880" opacity="0.26" transform="translate(310.8,714.2) rotate(76)"/>
<path d="M-8.1,-0.1 Q0,-2.0 8.1,0.1 Q0,2.0 -8.1,-0.1Z" fill="#2f8a6c" opacity="0.29" transform="translate(380.8,681.9) rotate(84)"/>
<path d="M-4.7,-0.1 Q0,-1.7 4.7,0.1 Q0,1.7 -4.7,-0.1Z" fill="#4aa880" opacity="0.50" transform="translate(407.1,642.5) rotate(14)"/>
<path d="M-6.7,0.6 Q0,-2.0 6.7,-0.6 Q0,2.0 -6.7,0.6Z" fill="#35907a" opacity="0.22" transform="translate(370.9,700.8) rotate(129)"/>
<path d="M-8.3,-0.3 Q0,-1.1 8.3,0.3 Q0,1.1 -8.3,-0.3Z" fill="#35907a" opacity="0.50" transform="translate(321.4,704.7) rotate(101)"/>
<path d="M-6.9,-0.1 Q0,-2.4 6.9,0.1 Q0,2.4 -6.9,-0.1Z" fill="#3a9878" opacity="0.36" transform="translate(423.6,640.6) rotate(30)"/>
<path d="M-9.1,-0.5 Q0,-2.4 9.1,0.5 Q0,2.4 -9.1,-0.5Z" fill="#3a9878" opacity="0.40" transform="translate(344.7,737.2) rotate(8)"/>
<path d="M-8.6,-0.4 Q0,-1.6 8.6,0.4 Q0,1.6 -8.6,-0.4Z" fill="#3a9878" opacity="0.37" transform="translate(319.7,694.4) rotate(156)"/>
<path d="M-8.9,0.1 Q0,-0.9 8.9,-0.1 Q0,0.9 -8.9,0.1Z" fill="#35907a" opacity="0.30" transform="translate(315.4,687.8) rotate(49)"/>
<path d="M-5.1,-0.4 Q0,-2.5 5.1,0.4 Q0,2.5 -5.1,-0.4Z" fill="#4aa880" opacity="0.34" transform="translate(339.7,680.5) rotate(9)"/>
<path d="M-6.8,-0.3 Q0,-1.4 6.8,0.3 Q0,1.4 -6.8,-0.3Z" fill="#3a9878" opacity="0.31" transform="translate(341.5,752.2) rotate(118)"/>
<path d="M-8.2,0.1 Q0,-1.0 8.2,-0.1 Q0,1.0 -8.2,0.1Z" fill="#35907a" opacity="0.27" transform="translate(300.5,687.2) rotate(28)"/>
<path d="M-5.5,-0.2 Q0,-1.8 5.5,0.2 Q0,1.8 -5.5,-0.2Z" fill="#35907a" opacity="0.42" transform="translate(317.3,721.1) rotate(5)"/>
<path d="M-5.9,0.6 Q0,-1.0 5.9,-0.6 Q0,1.0 -5.9,0.6Z" fill="#3a9878" opacity="0.25" transform="translate(403.6,699.4) rotate(97)"/>
<path d="M-8.6,-0.3 Q0,-2.1 8.6,0.3 Q0,2.1 -8.6,-0.3Z" fill="#2f8a6c" opacity="0.23" transform="translate(323.7,639.9) rotate(39)"/>
<ellipse cx="408.0" cy="737.3" rx="1.7" ry="1.3" fill="#6cc088" opacity="0.38" transform="rotate(168 408.0 737.3)"/><ellipse cx="295.2" cy="640.4" rx="1.5" ry="1.1" fill="#9ee29a" opacity="0.77" transform="rotate(8 295.2 640.4)"/><ellipse cx="312.6" cy="652.5" rx="1.2" ry="0.9" fill="#7fd090" opacity="0.39" transform="rotate(57 312.6 652.5)"/><ellipse cx="418.5" cy="642.1" rx="1.4" ry="1.0" fill="#7fd090" opacity="0.66" transform="rotate(158 418.5 642.1)"/><ellipse cx="310.8" cy="687.9" rx="1.6" ry="1.2" fill="#9ee29a" opacity="0.41" transform="rotate(81 310.8 687.9)"/><ellipse cx="417.7" cy="742.9" rx="1.8" ry="1.3" fill="#6cc088" opacity="0.62" transform="rotate(166 417.7 742.9)"/><ellipse cx="364.5" cy="653.9" rx="1.7" ry="1.3" fill="#7fd090" opacity="0.61" transform="rotate(88 364.5 653.9)"/><ellipse cx="366.5" cy="718.2" rx="1.2" ry="0.9" fill="#b8eea8" opacity="0.57" transform="rotate(90 366.5 718.2)"/><ellipse cx="407.2" cy="675.8" rx="1.3" ry="0.9" fill="#7fd090" opacity="0.38" transform="rotate(52 407.2 675.8)"/><ellipse cx="422.0" cy="736.3" rx="2.1" ry="1.6" fill="#6cc088" opacity="0.62" transform="rotate(16 422.0 736.3)"/><ellipse cx="341.0" cy="629.3" rx="1.5" ry="1.1" fill="#6cc088" opacity="0.77" transform="rotate(99 341.0 629.3)"/><ellipse cx="393.8" cy="648.0" rx="2.0" ry="1.5" fill="#b8eea8" opacity="0.70" transform="rotate(97 393.8 648.0)"/><ellipse cx="398.7" cy="724.3" rx="1.1" ry="0.8" fill="#b8eea8" opacity="0.45" transform="rotate(129 398.7 724.3)"/><ellipse cx="366.2" cy="659.7" rx="1.3" ry="1.0" fill="#9ee29a" opacity="0.40" transform="rotate(176 366.2 659.7)"/><ellipse cx="389.2" cy="630.2" rx="1.5" ry="1.1" fill="#6cc088" opacity="0.57" transform="rotate(177 389.2 630.2)"/><ellipse cx="311.4" cy="752.2" rx="1.9" ry="1.4" fill="#6cc088" opacity="0.69" transform="rotate(103 311.4 752.2)"/><ellipse cx="398.4" cy="697.6" rx="1.4" ry="1.0" fill="#b8eea8" opacity="0.80" transform="rotate(119 398.4 697.6)"/><ellipse cx="359.2" cy="727.1" rx="1.7" ry="1.3" fill="#b8eea8" opacity="0.47" transform="rotate(4 359.2 727.1)"/><ellipse cx="409.4" cy="706.6" rx="1.3" ry="0.9" fill="#6cc088" opacity="0.54" transform="rotate(110 409.4 706.6)"/><ellipse cx="393.2" cy="659.5" rx="2.0" ry="1.4" fill="#7fd090" opacity="0.71" transform="rotate(143 393.2 659.5)"/><ellipse cx="352.7" cy="690.0" rx="1.7" ry="1.2" fill="#6cc088" opacity="0.70" transform="rotate(103 352.7 690.0)"/><ellipse cx="318.8" cy="698.7" rx="1.5" ry="1.1" fill="#9ee29a" opacity="0.75" transform="rotate(28 318.8 698.7)"/><ellipse cx="339.8" cy="673.8" rx="2.0" ry="1.5" fill="#9ee29a" opacity="0.79" transform="rotate(59 339.8 673.8)"/><ellipse cx="329.7" cy="720.3" rx="1.5" ry="1.1" fill="#9ee29a" opacity="0.68" transform="rotate(14 329.7 720.3)"/><ellipse cx="401.3" cy="738.9" rx="1.6" ry="1.2" fill="#b8eea8" opacity="0.52" transform="rotate(142 401.3 738.9)"/><ellipse cx="338.4" cy="656.5" rx="1.2" ry="0.9" fill="#9ee29a" opacity="0.59" transform="rotate(176 338.4 656.5)"/><ellipse cx="341.2" cy="712.2" rx="1.5" ry="1.1" fill="#b8eea8" opacity="0.71" transform="rotate(23 341.2 712.2)"/><ellipse cx="374.8" cy="740.3" rx="1.4" ry="1.0" fill="#6cc088" opacity="0.62" transform="rotate(19 374.8 740.3)"/><ellipse cx="332.2" cy="682.0" rx="1.2" ry="0.9" fill="#b8eea8" opacity="0.54" transform="rotate(157 332.2 682.0)"/><ellipse cx="302.0" cy="646.2" rx="1.9" ry="1.4" fill="#7fd090" opacity="0.73" transform="rotate(156 302.0 646.2)"/><ellipse cx="384.6" cy="650.8" rx="1.5" ry="1.1" fill="#7fd090" opacity="0.42" transform="rotate(27 384.6 650.8)"/><ellipse cx="337.7" cy="650.6" rx="1.5" ry="1.1" fill="#6cc088" opacity="0.35" transform="rotate(88 337.7 650.6)"/><ellipse cx="335.2" cy="676.3" rx="1.7" ry="1.2" fill="#7fd090" opacity="0.78" transform="rotate(169 335.2 676.3)"/><ellipse cx="374.7" cy="715.4" rx="1.7" ry="1.3" fill="#9ee29a" opacity="0.61" transform="rotate(122 374.7 715.4)"/><ellipse cx="388.1" cy="636.2" rx="1.5" ry="1.1" fill="#b8eea8" opacity="0.77" transform="rotate(36 388.1 636.2)"/><ellipse cx="385.4" cy="646.3" rx="1.9" ry="1.4" fill="#6cc088" opacity="0.49" transform="rotate(73 385.4 646.3)"/><ellipse cx="354.0" cy="728.3" rx="1.1" ry="0.8" fill="#7fd090" opacity="0.66" transform="rotate(119 354.0 728.3)"/><ellipse cx="356.2" cy="746.2" rx="1.4" ry="1.1" fill="#6cc088" opacity="0.48" transform="rotate(93 356.2 746.2)"/><ellipse cx="381.7" cy="661.2" rx="1.9" ry="1.4" fill="#7fd090" opacity="0.42" transform="rotate(51 381.7 661.2)"/><ellipse cx="373.0" cy="697.5" rx="1.6" ry="1.2" fill="#6cc088" opacity="0.56" transform="rotate(159 373.0 697.5)"/><ellipse cx="329.3" cy="655.4" rx="1.6" ry="1.2" fill="#6cc088" opacity="0.73" transform="rotate(121 329.3 655.4)"/><ellipse cx="413.0" cy="668.0" rx="1.3" ry="1.0" fill="#9ee29a" opacity="0.66" transform="rotate(82 413.0 668.0)"/><ellipse cx="313.2" cy="749.4" rx="2.0" ry="1.5" fill="#9ee29a" opacity="0.75" transform="rotate(67 313.2 749.4)"/><ellipse cx="393.1" cy="748.4" rx="1.3" ry="1.0" fill="#9ee29a" opacity="0.77" transform="rotate(6 393.1 748.4)"/><ellipse cx="290.8" cy="746.8" rx="1.2" ry="0.9" fill="#7fd090" opacity="0.74" transform="rotate(29 290.8 746.8)"/><ellipse cx="321.1" cy="660.8" rx="1.3" ry="1.0" fill="#6cc088" opacity="0.63" transform="rotate(137 321.1 660.8)"/><ellipse cx="360.0" cy="752.5" rx="1.5" ry="1.1" fill="#7fd090" opacity="0.68" transform="rotate(146 360.0 752.5)"/><ellipse cx="410.1" cy="693.7" rx="1.5" ry="1.1" fill="#b8eea8" opacity="0.59" transform="rotate(35 410.1 693.7)"/><ellipse cx="411.8" cy="732.4" rx="1.3" ry="1.0" fill="#b8eea8" opacity="0.72" transform="rotate(104 411.8 732.4)"/><ellipse cx="312.3" cy="649.8" rx="1.9" ry="1.4" fill="#9ee29a" opacity="0.60" transform="rotate(111 312.3 649.8)"/><ellipse cx="310.9" cy="652.5" rx="1.5" ry="1.1" fill="#b8eea8" opacity="0.43" transform="rotate(171 310.9 652.5)"/><ellipse cx="296.4" cy="645.8" rx="1.4" ry="1.1" fill="#6cc088" opacity="0.39" transform="rotate(148 296.4 645.8)"/><ellipse cx="406.4" cy="701.8" rx="2.1" ry="1.5" fill="#7fd090" opacity="0.45" transform="rotate(41 406.4 701.8)"/><ellipse cx="290.4" cy="729.2" rx="2.0" ry="1.5" fill="#b8eea8" opacity="0.75" transform="rotate(95 290.4 729.2)"/><ellipse cx="336.4" cy="683.1" rx="1.2" ry="0.9" fill="#9ee29a" opacity="0.49" transform="rotate(125 336.4 683.1)"/><ellipse cx="403.7" cy="645.3" rx="1.8" ry="1.3" fill="#9ee29a" opacity="0.37" transform="rotate(28 403.7 645.3)"/><ellipse cx="304.2" cy="638.0" rx="1.3" ry="1.0" fill="#b8eea8" opacity="0.52" transform="rotate(17 304.2 638.0)"/><ellipse cx="303.2" cy="734.5" rx="1.7" ry="1.2" fill="#7fd090" opacity="0.68" transform="rotate(88 303.2 734.5)"/><ellipse cx="409.1" cy="634.0" rx="2.1" ry="1.5" fill="#7fd090" opacity="0.75" transform="rotate(2 409.1 634.0)"/><ellipse cx="382.7" cy="676.7" rx="1.5" ry="1.1" fill="#6cc088" opacity="0.35" transform="rotate(127 382.7 676.7)"/><ellipse cx="310.8" cy="714.2" rx="1.2" ry="0.9" fill="#9ee29a" opacity="0.79" transform="rotate(76 310.8 714.2)"/><ellipse cx="380.8" cy="681.9" rx="2.0" ry="1.5" fill="#9ee29a" opacity="0.51" transform="rotate(84 380.8 681.9)"/><ellipse cx="407.1" cy="642.5" rx="2.1" ry="1.5" fill="#6cc088" opacity="0.79" transform="rotate(14 407.1 642.5)"/><ellipse cx="370.9" cy="700.8" rx="1.8" ry="1.3" fill="#9ee29a" opacity="0.59" transform="rotate(129 370.9 700.8)"/><ellipse cx="321.4" cy="704.7" rx="2.1" ry="1.5" fill="#9ee29a" opacity="0.74" transform="rotate(101 321.4 704.7)"/><ellipse cx="423.6" cy="640.6" rx="2.0" ry="1.5" fill="#6cc088" opacity="0.72" transform="rotate(30 423.6 640.6)"/><ellipse cx="344.7" cy="737.2" rx="1.2" ry="0.9" fill="#6cc088" opacity="0.65" transform="rotate(8 344.7 737.2)"/><ellipse cx="319.7" cy="694.4" rx="1.7" ry="1.3" fill="#b8eea8" opacity="0.80" transform="rotate(156 319.7 694.4)"/><ellipse cx="315.4" cy="687.8" rx="1.8" ry="1.4" fill="#b8eea8" opacity="0.63" transform="rotate(49 315.4 687.8)"/><ellipse cx="341.5" cy="752.2" rx="1.2" ry="0.9" fill="#9ee29a" opacity="0.53" transform="rotate(118 341.5 752.2)"/><ellipse cx="300.5" cy="687.2" rx="1.8" ry="1.4" fill="#6cc088" opacity="0.60" transform="rotate(28 300.5 687.2)"/><ellipse cx="317.3" cy="721.1" rx="2.0" ry="1.5" fill="#b8eea8" opacity="0.49" transform="rotate(5 317.3 721.1)"/><ellipse cx="403.6" cy="699.4" rx="1.4" ry="1.1" fill="#6cc088" opacity="0.70" transform="rotate(97 403.6 699.4)"/><ellipse cx="323.7" cy="639.9" rx="1.7" ry="1.3" fill="#7fd090" opacity="0.37" transform="rotate(39 323.7 639.9)"/><ellipse cx="360.3" cy="643.9" rx="3.1" ry="2.6" fill="#7fd090" opacity="0.9"/><ellipse cx="355.3" cy="712.9" rx="2.6" ry="2.2" fill="#e8ffd0" opacity="1"/><ellipse cx="371.6" cy="705.4" rx="2.9" ry="2.4" fill="#8fd89a" opacity="0.9"/><ellipse cx="316.0" cy="708.0" rx="2.6" ry="2.2" fill="#8fd89a" opacity="0.85"/><ellipse cx="403.0" cy="694.0" rx="2.2" ry="1.8" fill="#a8e8a0" opacity="0.9"/><ellipse cx="349.0" cy="677.0" rx="1.9" ry="1.6" fill="#a8e8a0" opacity="0.9"/>
</g></g>
<rect x="10.10" y="757.20" width="137.80" height="8.30" fill="url(#cb)"/>
<text x="81.80" y="763.30" font-size="6.85" text-anchor="middle" font-weight="bold">2-SC-S635P intensity</text>
<rect x="150.40" y="757.20" width="137.30" height="8.30" fill="url(#cb)"/>
<text x="225.05" y="763.30" font-size="6.85" text-anchor="middle" font-weight="bold">2-SC-S635P intensity</text>
<rect x="289.20" y="757.20" width="137.40" height="8.30" fill="url(#cb)"/>
<text x="361.40" y="763.30" font-size="6.85" text-anchor="middle" font-weight="bold">2-SC-S635P intensity</text>
<text x="13.20" y="630.30" font-size="8.6" font-weight="bold" fill="#fff">DMSO</text>
<text x="152.40" y="630.20" font-size="8.6" font-weight="bold" fill="#fff">10 μM BAS-2</text>
<text x="291.60" y="630.20" font-size="8.6" font-weight="bold" fill="#fff">100 μM MMF</text>
<text x="12.30" y="751.80" font-size="8.45" font-weight="bold" fill="#a9ea90">2-(succino)cysteine (2-SC)</text>
<text x="153.20" y="751.80" font-size="8.45" font-weight="bold" fill="#a9ea90">2-SC</text>
<text x="292.60" y="751.80" font-size="8.45" font-weight="bold" fill="#a9ea90">2-SC</text>
<rect x="131.00" y="749.90" width="12.20" height="4.00" fill="#fff"/>
<text x="137.20" y="747.30" font-size="6.0" text-anchor="middle" font-weight="bold" fill="#fff">50 μm</text>
<rect x="268.00" y="749.90" width="12.40" height="4.20" fill="#fff"/>
<rect x="407.00" y="749.90" width="12.70" height="4.20" fill="#fff"/>
<rect x="114.00" y="649.80" width="25.00" height="24.70" fill="none" stroke="#fff" stroke-width="1.8"/>
<rect x="232.80" y="643.00" width="24.40" height="23.90" fill="none" stroke="#fff" stroke-width="1.8"/>
<rect x="369.00" y="619.20" width="25.30" height="26.30" fill="none" stroke="#fff" stroke-width="1.8"/>
<rect x="428.00" y="620.00" width="44.70" height="145.50" fill="#000"/>
<rect x="428.00" y="620.00" width="44.70" height="137.20" fill="#010705"/>
<clipPath id="cp3"><rect x="428.0" y="620.0" width="44.69999999999999" height="137.20000000000005"/></clipPath>
<g clip-path="url(#cp3)"><g filter="url(#bl3m)">
<ellipse cx="438.9" cy="642.6" rx="16.0" ry="12.6" fill="#1f6a58" opacity="0.04" transform="rotate(42 438.9 642.6)"/>
<ellipse cx="469.4" cy="637.9" rx="27.2" ry="11.9" fill="#1f6a58" opacity="0.05" transform="rotate(99 469.4 637.9)"/>
</g><g filter="url(#bl)">
<path d="M-14.8,1.5 Q0,-5.5 14.8,-1.5 Q0,5.5 -14.8,1.5Z" fill="#35907a" opacity="0.09" transform="translate(454.0,636.5) rotate(179)"/>
<path d="M-22.0,-1.9 Q0,-4.7 22.0,1.9 Q0,4.7 -22.0,-1.9Z" fill="#4aa880" opacity="0.19" transform="translate(455.3,636.8) rotate(141)"/>
<path d="M-10.7,0.7 Q0,-4.8 10.7,-0.7 Q0,4.8 -10.7,0.7Z" fill="#2f8a6c" opacity="0.19" transform="translate(436.2,621.6) rotate(11)"/>
<path d="M-22.7,-0.1 Q0,-3.3 22.7,0.1 Q0,3.3 -22.7,-0.1Z" fill="#3a9878" opacity="0.21" transform="translate(458.2,661.1) rotate(164)"/>
<path d="M-20.0,2.4 Q0,-5.5 20.0,-2.4 Q0,5.5 -20.0,2.4Z" fill="#2f8a6c" opacity="0.17" transform="translate(456.8,663.2) rotate(149)"/>
<path d="M-10.4,0.2 Q0,-4.1 10.4,-0.2 Q0,4.1 -10.4,0.2Z" fill="#35907a" opacity="0.16" transform="translate(464.8,622.2) rotate(76)"/>
<ellipse cx="454.0" cy="636.5" rx="4.0" ry="2.9" fill="#6cc088" opacity="0.33" transform="rotate(179 454.0 636.5)"/><ellipse cx="436.2" cy="621.6" rx="4.6" ry="3.4" fill="#7fd090" opacity="0.24" transform="rotate(11 436.2 621.6)"/><ellipse cx="458.2" cy="661.1" rx="4.6" ry="3.4" fill="#b8eea8" opacity="0.24" transform="rotate(164 458.2 661.1)"/><ellipse cx="456.8" cy="663.2" rx="4.3" ry="3.2" fill="#b8eea8" opacity="0.33" transform="rotate(149 456.8 663.2)"/><ellipse cx="464.8" cy="622.2" rx="4.1" ry="3.0" fill="#9ee29a" opacity="0.26" transform="rotate(76 464.8 622.2)"/>
</g></g>
<g clip-path="url(#cp3)"><g filter="url(#bl3m)">
<ellipse cx="471.7" cy="668.5" rx="20.7" ry="8.9" fill="#1f6a58" opacity="0.05" transform="rotate(170 471.7 668.5)"/>
<ellipse cx="469.1" cy="673.3" rx="23.9" ry="8.5" fill="#1f6a58" opacity="0.05" transform="rotate(33 469.1 673.3)"/>
</g><g filter="url(#bl)">
<path d="M-8.1,-0.8 Q0,-2.0 8.1,0.8 Q0,2.0 -8.1,-0.8Z" fill="#35907a" opacity="0.17" transform="translate(455.9,668.5) rotate(70)"/>
<path d="M-14.9,1.6 Q0,-3.8 14.9,-1.6 Q0,3.8 -14.9,1.6Z" fill="#3a9878" opacity="0.22" transform="translate(467.4,706.4) rotate(171)"/>
<path d="M-17.7,-0.4 Q0,-3.8 17.7,0.4 Q0,3.8 -17.7,-0.4Z" fill="#2f8a6c" opacity="0.13" transform="translate(433.0,675.1) rotate(126)"/>
<path d="M-9.5,-0.5 Q0,-3.6 9.5,0.5 Q0,3.6 -9.5,-0.5Z" fill="#4aa880" opacity="0.22" transform="translate(436.3,672.4) rotate(32)"/>
<path d="M-17.8,2.3 Q0,-3.1 17.8,-2.3 Q0,3.1 -17.8,2.3Z" fill="#3a9878" opacity="0.27" transform="translate(435.4,709.2) rotate(154)"/>
<path d="M-16.0,1.0 Q0,-2.2 16.0,-1.0 Q0,2.2 -16.0,1.0Z" fill="#35907a" opacity="0.28" transform="translate(451.6,696.5) rotate(14)"/>
<path d="M-18.2,-1.0 Q0,-1.8 18.2,1.0 Q0,1.8 -18.2,-1.0Z" fill="#3a9878" opacity="0.30" transform="translate(433.5,699.4) rotate(68)"/>
<path d="M-18.0,1.4 Q0,-2.0 18.0,-1.4 Q0,2.0 -18.0,1.4Z" fill="#2f8a6c" opacity="0.17" transform="translate(442.8,676.2) rotate(45)"/>
<path d="M-11.8,-0.7 Q0,-4.4 11.8,0.7 Q0,4.4 -11.8,-0.7Z" fill="#4aa880" opacity="0.15" transform="translate(465.2,675.5) rotate(99)"/>
<path d="M-11.1,0.6 Q0,-4.2 11.1,-0.6 Q0,4.2 -11.1,0.6Z" fill="#2f8a6c" opacity="0.22" transform="translate(443.0,675.1) rotate(168)"/>
<ellipse cx="455.9" cy="668.5" rx="3.1" ry="2.3" fill="#7fd090" opacity="0.23" transform="rotate(70 455.9 668.5)"/><ellipse cx="467.4" cy="706.4" rx="3.4" ry="2.5" fill="#6cc088" opacity="0.39" transform="rotate(171 467.4 706.4)"/><ellipse cx="433.0" cy="675.1" rx="3.5" ry="2.6" fill="#9ee29a" opacity="0.33" transform="rotate(126 433.0 675.1)"/><ellipse cx="436.3" cy="672.4" rx="2.5" ry="1.8" fill="#9ee29a" opacity="0.40" transform="rotate(32 436.3 672.4)"/><ellipse cx="435.4" cy="709.2" rx="3.7" ry="2.8" fill="#b8eea8" opacity="0.39" transform="rotate(154 435.4 709.2)"/><ellipse cx="451.6" cy="696.5" rx="2.9" ry="2.2" fill="#9ee29a" opacity="0.24" transform="rotate(14 451.6 696.5)"/><ellipse cx="433.5" cy="699.4" rx="3.7" ry="2.7" fill="#9ee29a" opacity="0.24" transform="rotate(68 433.5 699.4)"/><ellipse cx="465.2" cy="675.5" rx="3.1" ry="2.3" fill="#7fd090" opacity="0.42" transform="rotate(99 465.2 675.5)"/><ellipse cx="443.0" cy="675.1" rx="3.8" ry="2.8" fill="#6cc088" opacity="0.39" transform="rotate(168 443.0 675.1)"/>
</g></g>
<g clip-path="url(#cp3)"><g filter="url(#bl3m)">
<ellipse cx="429.9" cy="738.9" rx="13.5" ry="10.0" fill="#1f6a58" opacity="0.04" transform="rotate(176 429.9 738.9)"/>
<ellipse cx="471.5" cy="741.0" rx="24.9" ry="6.7" fill="#1f6a58" opacity="0.05" transform="rotate(132 471.5 741.0)"/>
</g><g filter="url(#bl)">
<path d="M-17.4,0.9 Q0,-4.4 17.4,-0.9 Q0,4.4 -17.4,0.9Z" fill="#3a9878" opacity="0.19" transform="translate(454.8,729.9) rotate(176)"/>
<path d="M-11.1,0.2 Q0,-3.4 11.1,-0.2 Q0,3.4 -11.1,0.2Z" fill="#3a9878" opacity="0.18" transform="translate(463.7,753.2) rotate(92)"/>
<path d="M-14.7,-0.2 Q0,-4.1 14.7,0.2 Q0,4.1 -14.7,-0.2Z" fill="#2f8a6c" opacity="0.24" transform="translate(465.5,730.6) rotate(39)"/>
<path d="M-12.8,0.5 Q0,-3.2 12.8,-0.5 Q0,3.2 -12.8,0.5Z" fill="#2f8a6c" opacity="0.21" transform="translate(452.4,715.0) rotate(0)"/>
<path d="M-14.3,0.8 Q0,-2.4 14.3,-0.8 Q0,2.4 -14.3,0.8Z" fill="#2f8a6c" opacity="0.21" transform="translate(440.9,720.8) rotate(46)"/>
<path d="M-11.2,0.8 Q0,-2.3 11.2,-0.8 Q0,2.3 -11.2,0.8Z" fill="#3a9878" opacity="0.25" transform="translate(457.6,749.5) rotate(103)"/>
<path d="M-11.0,0.9 Q0,-3.3 11.0,-0.9 Q0,3.3 -11.0,0.9Z" fill="#4aa880" opacity="0.17" transform="translate(448.1,736.4) rotate(68)"/>
<path d="M-19.8,2.1 Q0,-3.4 19.8,-2.1 Q0,3.4 -19.8,2.1Z" fill="#35907a" opacity="0.11" transform="translate(467.1,715.3) rotate(5)"/>
<ellipse cx="454.8" cy="729.9" rx="2.7" ry="2.0" fill="#9ee29a" opacity="0.30" transform="rotate(176 454.8 729.9)"/><ellipse cx="465.5" cy="730.6" rx="3.3" ry="2.4" fill="#b8eea8" opacity="0.34" transform="rotate(39 465.5 730.6)"/><ellipse cx="452.4" cy="715.0" rx="2.7" ry="2.0" fill="#b8eea8" opacity="0.18" transform="rotate(0 452.4 715.0)"/><ellipse cx="440.9" cy="720.8" rx="2.8" ry="2.1" fill="#9ee29a" opacity="0.20" transform="rotate(46 440.9 720.8)"/><ellipse cx="448.1" cy="736.4" rx="2.6" ry="1.9" fill="#9ee29a" opacity="0.39" transform="rotate(68 448.1 736.4)"/><ellipse cx="467.1" cy="715.3" rx="2.8" ry="2.1" fill="#b8eea8" opacity="0.33" transform="rotate(5 467.1 715.3)"/><ellipse cx="433.2" cy="733.6" rx="1.7" ry="1.4" fill="#f4ffe0" opacity="1"/>
</g></g>
<line x1="428.00" y1="665.80" x2="472.70" y2="665.80" stroke="#fff" stroke-width="1.3"/>
<line x1="428.00" y1="712.40" x2="472.70" y2="712.40" stroke="#fff" stroke-width="1.3"/>
<line x1="427.35" y1="620.00" x2="427.35" y2="757.20" stroke="#d8dcda" stroke-width="0.9"/>
<rect x="428.00" y="757.20" width="44.70" height="8.30" fill="url(#cb)"/>
<text x="428.80" y="628.60" font-size="8.6" font-weight="bold" fill="#fff">DMSO</text>
<text x="428.80" y="675.20" font-size="8.6" font-weight="bold" fill="#fff">BAS-2</text>
<text x="428.80" y="720.60" font-size="8.6" font-weight="bold" fill="#fff">MMF</text>
<text x="441.00" y="748.50" font-size="6.3" text-anchor="middle" font-weight="bold" fill="#fff">50 μm</text>
<rect x="429.90" y="749.90" width="22.20" height="4.00" fill="#fff"/>
<text x="449.80" y="763.00" font-size="7" text-anchor="middle" font-weight="bold">2-SC</text>
<text x="485.80" y="629.20" font-size="14" font-weight="bold">J</text>
<line x1="524.80" y1="640.30" x2="524.80" y2="734.65" stroke="#000" stroke-width="1.3"/>
<line x1="524.15" y1="734.00" x2="586.80" y2="734.00" stroke="#000" stroke-width="1.3"/>
<line x1="519.80" y1="734.00" x2="524.80" y2="734.00" stroke="#000" stroke-width="1.1"/>
<text x="518.90" y="736.80" font-size="7.5" text-anchor="end" class="t">0</text>
<line x1="519.80" y1="702.95" x2="524.80" y2="702.95" stroke="#000" stroke-width="1.1"/>
<text x="518.90" y="705.75" font-size="7.5" text-anchor="end" class="t">200</text>
<line x1="519.80" y1="671.90" x2="524.80" y2="671.90" stroke="#000" stroke-width="1.1"/>
<text x="518.90" y="674.70" font-size="7.5" text-anchor="end" class="t">400</text>
<line x1="519.80" y1="640.85" x2="524.80" y2="640.85" stroke="#000" stroke-width="1.1"/>
<text x="518.90" y="643.65" font-size="7.5" text-anchor="end" class="t">600</text>
<text x="492.80" y="686.00" font-size="7.9" text-anchor="middle" transform="rotate(-90 492.80 686.00)" class="t">2-SC mean intensity</text>
<text x="503.00" y="686.00" font-size="7.9" text-anchor="middle" transform="rotate(-90 503.00 686.00)" class="t">(normalised) (%)</text>
<rect x="530.20" y="718.48" width="13.00" height="15.52" fill="#73d2f7" stroke="#000" stroke-width="1.2"/>
<rect x="549.40" y="711.18" width="12.90" height="22.82" fill="#ff2d78" stroke="#000" stroke-width="1.2"/>
<rect x="568.20" y="692.39" width="12.90" height="41.61" fill="#bb88f6" stroke="#000" stroke-width="1.2"/>
<line x1="555.80" y1="706.68" x2="555.80" y2="715.68" stroke="#000" stroke-width="0.9"/>
<line x1="552.60" y1="706.68" x2="559.00" y2="706.68" stroke="#000" stroke-width="0.9"/>
<line x1="552.60" y1="715.68" x2="559.00" y2="715.68" stroke="#000" stroke-width="0.9"/>
<line x1="574.60" y1="671.59" x2="574.60" y2="713.20" stroke="#000" stroke-width="0.9"/>
<line x1="571.40" y1="671.59" x2="577.80" y2="671.59" stroke="#000" stroke-width="0.9"/>
<line x1="571.40" y1="713.20" x2="577.80" y2="713.20" stroke="#000" stroke-width="0.9"/>
<circle cx="532.80" cy="718.60" r="1.90" fill="#000"/>
<circle cx="536.70" cy="718.60" r="1.90" fill="#000"/>
<circle cx="540.60" cy="718.60" r="1.90" fill="#000"/>
<circle cx="555.80" cy="703.20" r="1.90" fill="#000"/>
<circle cx="552.20" cy="713.60" r="1.90" fill="#000"/>
<circle cx="559.40" cy="714.20" r="1.90" fill="#000"/>
<circle cx="574.60" cy="651.00" r="1.90" fill="#000"/>
<circle cx="570.80" cy="713.90" r="1.90" fill="#000"/>
<circle cx="578.90" cy="712.20" r="1.90" fill="#000"/>
<line x1="536.70" y1="734.00" x2="536.70" y2="738.40" stroke="#000" stroke-width="1.1"/>
<text x="539.30" y="744.40" font-size="7.4" text-anchor="end" transform="rotate(-45 539.30 744.40)" class="t">DMSO</text>
<line x1="555.85" y1="734.00" x2="555.85" y2="738.40" stroke="#000" stroke-width="1.1"/>
<text x="558.45" y="744.40" font-size="7.4" text-anchor="end" transform="rotate(-45 558.45 744.40)" class="t">10 μM BAS2</text>
<line x1="574.65" y1="734.00" x2="574.65" y2="738.40" stroke="#000" stroke-width="1.1"/>
<text x="577.25" y="744.40" font-size="7.4" text-anchor="end" transform="rotate(-45 577.25 744.40)" class="t">100 μM MMF</text>
<text x="590.60" y="629.60" font-size="14" font-weight="bold">K</text>
<text x="639.60" y="640.60" font-size="6.7" text-anchor="middle" font-weight="bold">BAS-2 (μM)</text>
<line x1="620.00" y1="643.60" x2="659.00" y2="643.60" stroke="#000" stroke-width="1.15"/>
<text x="624.80" y="653.40" font-size="7" text-anchor="middle" class="t">0</text>
<text x="639.40" y="653.40" font-size="7" text-anchor="middle" class="t">10</text>
<text x="654.40" y="653.40" font-size="7" text-anchor="middle" class="t">20</text>
<text x="600.40" y="654.00" font-size="4.7" font-weight="bold">kDa</text>
<defs><filter id="bl2" x="-20%" y="-100%" width="140%" height="300%"><feGaussianBlur stdDeviation="0.55"/></filter><filter id="bl3" x="-20%" y="-100%" width="140%" height="300%"><feGaussianBlur stdDeviation="1.1"/></filter></defs>
<rect x="616.20" y="658.20" width="48.40" height="63.20" fill="#fbfbfb" stroke="#000" stroke-width="1.3"/>
<rect x="616.20" y="726.60" width="48.40" height="12.00" fill="#f2f2f2" stroke="#000" stroke-width="1.3"/>
<text x="608.40" y="661.90" font-size="4.7" text-anchor="end" font-weight="bold">250</text>
<line x1="609.80" y1="660.20" x2="613.60" y2="660.20" stroke="#000" stroke-width="1.0"/>
<text x="608.40" y="670.40" font-size="4.7" text-anchor="end" font-weight="bold">130</text>
<line x1="609.80" y1="668.70" x2="613.60" y2="668.70" stroke="#000" stroke-width="1.0"/>
<text x="608.40" y="677.00" font-size="4.7" text-anchor="end" font-weight="bold">100</text>
<line x1="609.80" y1="675.30" x2="613.60" y2="675.30" stroke="#000" stroke-width="1.0"/>
<text x="608.40" y="683.00" font-size="4.7" text-anchor="end" font-weight="bold">70</text>
<line x1="609.80" y1="681.30" x2="613.60" y2="681.30" stroke="#000" stroke-width="1.0"/>
<text x="608.40" y="692.30" font-size="4.7" text-anchor="end" font-weight="bold">55</text>
<line x1="609.80" y1="690.60" x2="613.60" y2="690.60" stroke="#000" stroke-width="1.0"/>
<text x="608.40" y="707.90" font-size="4.7" text-anchor="end" font-weight="bold">35</text>
<line x1="609.80" y1="706.20" x2="613.60" y2="706.20" stroke="#000" stroke-width="1.0"/>
<text x="608.40" y="717.10" font-size="4.7" text-anchor="end" font-weight="bold">25</text>
<line x1="609.80" y1="715.40" x2="613.60" y2="715.40" stroke="#000" stroke-width="1.0"/>
<text x="608.40" y="727.70" font-size="4.7" text-anchor="end" font-weight="bold">55</text>
<line x1="609.80" y1="726.00" x2="613.60" y2="726.00" stroke="#000" stroke-width="1.0"/>
<rect x="619.4" y="690.8" width="11.4" height="3.3" rx="1.5" fill="#050505" filter="url(#bl2)"/>
<rect x="619.9" y="695.5" width="10.4" height="5.5" fill="#444" opacity="0.1" filter="url(#bl3)"/>
<rect x="620.4" y="704.8" width="9.4" height="3" fill="#444" opacity="0.09" filter="url(#bl3)"/>
<rect x="619.3" y="732.6" width="11.6" height="1.6" rx="0.8" fill="#2a2a2a" filter="url(#bl2)" transform="rotate(-2 625.1 733)"/>
<rect x="634.0" y="690.6" width="12.2" height="3.3" rx="1.5" fill="#050505" filter="url(#bl2)"/>
<rect x="634.5" y="695.5" width="11.2" height="5.5" fill="#444" opacity="0.16" filter="url(#bl3)"/>
<rect x="635.0" y="704.8" width="10.2" height="3" fill="#444" opacity="0.14" filter="url(#bl3)"/>
<rect x="635.0" y="666.5" width="10.2" height="3.5" fill="#666" opacity="0.10" filter="url(#bl3)"/>
<rect x="634.3" y="732.4" width="11.6" height="1.6" rx="0.8" fill="#2a2a2a" filter="url(#bl2)" transform="rotate(-2 640.1 733)"/>
<rect x="649.2" y="690.2" width="12.4" height="3.3" rx="1.5" fill="#050505" filter="url(#bl2)"/>
<rect x="649.7" y="695.5" width="11.4" height="5.5" fill="#444" opacity="0.26" filter="url(#bl3)"/>
<rect x="650.2" y="704.8" width="10.4" height="3" fill="#444" opacity="0.23" filter="url(#bl3)"/>
<rect x="650.2" y="698.6" width="10.4" height="1.6" fill="#222" opacity="0.45" filter="url(#bl2)"/>
<rect x="650.2" y="666.5" width="10.4" height="3.5" fill="#666" opacity="0.10" filter="url(#bl3)"/>
<rect x="649.6" y="732.0" width="11.6" height="1.6" rx="0.8" fill="#2a2a2a" filter="url(#bl2)" transform="rotate(-2 655.4 733)"/>
<circle cx="661.20" cy="672.40" r="0.55" fill="#222"/>
<text x="667.40" y="694.40" font-size="6.5" font-weight="bold">2-SC</text>
<text x="666.80" y="735.00" font-size="6.5" font-weight="bold">Actin</text>
<text x="1.50" y="816.40" font-size="14" font-weight="bold">L</text>
<line x1="34.40" y1="828.20" x2="34.40" y2="937.25" stroke="#000" stroke-width="1.3"/>
<line x1="33.75" y1="936.60" x2="143.20" y2="936.60" stroke="#000" stroke-width="1.3"/>
<line x1="29.60" y1="936.60" x2="34.40" y2="936.60" stroke="#000" stroke-width="1.25"/>
<text x="29.20" y="939.70" font-size="8.8" text-anchor="end" class="t">0</text>
<line x1="31.60" y1="915.00" x2="34.40" y2="915.00" stroke="#000" stroke-width="1.0"/>
<line x1="29.60" y1="893.40" x2="34.40" y2="893.40" stroke="#000" stroke-width="1.25"/>
<text x="29.20" y="896.50" font-size="8.8" text-anchor="end" class="t">50</text>
<line x1="31.60" y1="871.80" x2="34.40" y2="871.80" stroke="#000" stroke-width="1.0"/>
<line x1="29.60" y1="850.20" x2="34.40" y2="850.20" stroke="#000" stroke-width="1.25"/>
<text x="29.20" y="853.30" font-size="8.8" text-anchor="end" class="t">100</text>
<line x1="31.60" y1="828.60" x2="34.40" y2="828.60" stroke="#000" stroke-width="1.0"/>
<text x="11.00" y="882.80" font-size="8.5" text-anchor="middle" transform="rotate(-90 11.00 882.80)" class="t">FH activity (% of control)</text>
<rect x="43.50" y="850.20" width="16.20" height="86.40" fill="#8fdc7c" stroke="#000" stroke-width="1.0"/>
<rect x="64.50" y="867.31" width="15.90" height="69.29" fill="#ec2f3a" stroke="#000" stroke-width="1.0"/>
<rect x="97.90" y="850.20" width="15.90" height="86.40" fill="#8fdc7c" stroke="#000" stroke-width="1.0"/>
<rect x="118.80" y="874.82" width="15.90" height="61.78" fill="#ec2f3a" stroke="#000" stroke-width="1.0"/>
<line x1="72.40" y1="861.43" x2="72.40" y2="872.66" stroke="#000" stroke-width="0.9"/>
<line x1="68.80" y1="861.43" x2="76.00" y2="861.43" stroke="#000" stroke-width="0.9"/>
<line x1="68.80" y1="872.66" x2="76.00" y2="872.66" stroke="#000" stroke-width="0.9"/>
<line x1="126.70" y1="870.50" x2="126.70" y2="879.14" stroke="#000" stroke-width="0.9"/>
<line x1="123.10" y1="870.50" x2="130.30" y2="870.50" stroke="#000" stroke-width="0.9"/>
<line x1="123.10" y1="879.14" x2="130.30" y2="879.14" stroke="#000" stroke-width="0.9"/>
<circle cx="45.90" cy="850.20" r="2.20" fill="#fff" stroke="#000" stroke-width="1.0"/>
<circle cx="49.70" cy="850.20" r="2.20" fill="#fff" stroke="#000" stroke-width="1.0"/>
<circle cx="53.50" cy="850.20" r="2.20" fill="#fff" stroke="#000" stroke-width="1.0"/>
<circle cx="57.30" cy="850.20" r="2.20" fill="#fff" stroke="#000" stroke-width="1.0"/>
<circle cx="72.40" cy="856.20" r="2.20" fill="#fff" stroke="#000" stroke-width="1.0"/>
<circle cx="72.40" cy="862.00" r="2.20" fill="#fff" stroke="#000" stroke-width="1.0"/>
<circle cx="72.40" cy="867.20" r="2.20" fill="#fff" stroke="#000" stroke-width="1.0"/>
<circle cx="72.40" cy="881.00" r="2.20" fill="#fff" stroke="#000" stroke-width="1.0"/>
<circle cx="100.90" cy="850.20" r="2.20" fill="#fff" stroke="#000" stroke-width="1.0"/>
<circle cx="106.00" cy="850.20" r="2.20" fill="#fff" stroke="#000" stroke-width="1.0"/>
<circle cx="111.10" cy="850.20" r="2.20" fill="#fff" stroke="#000" stroke-width="1.0"/>
<circle cx="126.70" cy="866.40" r="2.20" fill="#fff" stroke="#000" stroke-width="1.0"/>
<circle cx="126.70" cy="878.20" r="2.20" fill="#fff" stroke="#000" stroke-width="1.0"/>
<circle cx="126.70" cy="881.60" r="2.20" fill="#fff" stroke="#000" stroke-width="1.0"/>
<text x="38.90" y="839.80" font-size="9.0" class="t"><tspan font-style="italic">p</tspan> = 0.0497</text>
<line x1="52.60" y1="843.30" x2="72.90" y2="843.30" stroke="#000" stroke-width="1.0"/>
<text x="93.40" y="839.80" font-size="9.0" class="t"><tspan font-style="italic">p</tspan> = 0.0297</text>
<line x1="107.40" y1="843.30" x2="127.60" y2="843.30" stroke="#000" stroke-width="1.0"/>
<text x="63.50" y="949.50" font-size="8.5" text-anchor="middle" class="t">MDA-MB-231</text>
<text x="116.20" y="949.50" font-size="8.5" text-anchor="middle" class="t">BT549</text>
<rect x="24.60" y="960.90" width="8.30" height="8.20" fill="#8fdc7c" stroke="#000" stroke-width="0.9"/>
<text x="38.40" y="967.80" font-size="8.9" class="t">DMSO</text>
<rect x="76.80" y="960.90" width="8.50" height="8.20" fill="#ec2f3a" stroke="#000" stroke-width="0.9"/>
<text x="90.90" y="967.80" font-size="8.9" class="t">BAS-2 (10 μM)</text>
<text x="162.20" y="815.40" font-size="14" font-weight="bold">M</text>
<g transform="translate(137.25,801.0) scale(0.7346,0.734)">
<g>
<text x="126.00" y="6.70" font-size="8.35" stroke="#000" stroke-width="0.2"><tspan font-size="5" dy="-2.9">13</tspan><tspan dy="2.9">C</tspan><tspan font-size="5" dy="1.3">6</tspan><tspan dy="-1.3">-Glucose</tspan></text>
<circle cx="179.85" cy="4.30" r="3.15" fill="#000"/>
<circle cx="186.02" cy="4.30" r="3.15" fill="#000"/>
<circle cx="192.19" cy="4.30" r="3.15" fill="#000"/>
<circle cx="198.36" cy="4.30" r="3.15" fill="#000"/>
<circle cx="204.53" cy="4.30" r="3.15" fill="#000"/>
<circle cx="210.70" cy="4.30" r="3.15" fill="#000"/>
<line x1="151.20" y1="10.60" x2="151.20" y2="21.60" stroke="#000" stroke-width="1.3"/>
<polygon points="151.20,26.60 147.35,19.30 155.05,19.30" fill="#000"/>
<text x="134.60" y="35.10" font-size="8.2" textLength="32.9" lengthAdjust="spacingAndGlyphs" stroke="#000" stroke-width="0.2">Pyruvate</text>
<circle cx="146.05" cy="41.40" r="3.15" fill="#000"/>
<circle cx="152.30" cy="41.40" r="3.15" fill="#000"/>
<circle cx="158.55" cy="41.40" r="3.15" fill="#000"/>
<line x1="178.00" y1="31.90" x2="188.50" y2="31.90" stroke="#000" stroke-width="1.3"/>
<polygon points="172.30,31.90 179.60,28.05 179.60,35.75" fill="#000"/>
<polygon points="194.00,31.90 186.70,35.75 186.70,28.05" fill="#000"/>
<text x="196.80" y="35.10" font-size="8.2" textLength="28.2" lengthAdjust="spacingAndGlyphs" stroke="#000" stroke-width="0.2">Lactate</text>
<line x1="151.20" y1="48.00" x2="151.20" y2="58.70" stroke="#000" stroke-width="1.3"/>
<polygon points="151.20,63.70 147.35,56.40 155.05,56.40" fill="#000"/>
<text x="159.90" y="58.20" font-size="8.2" textLength="16.3" lengthAdjust="spacingAndGlyphs" font-weight="bold" stroke="#000" stroke-width="0.2">PDH</text>
<text x="132.80" y="73.50" font-size="8.2" textLength="42.2" lengthAdjust="spacingAndGlyphs" stroke="#000" stroke-width="0.2">Acetyl-co-A</text>
<circle cx="182.45" cy="70.00" r="3.15" fill="#000"/>
<circle cx="188.70" cy="70.00" r="3.15" fill="#000"/>
<path d="M131.5,32.6 C121,37 112,52 115.6,80" fill="none" stroke="#3a86d0" stroke-width="1.3"/>
<polygon points="118.20,86.60 112.79,80.64 119.73,78.70" fill="#3a86d0"/>
<text x="98.40" y="53.90" font-size="8.2" textLength="10.6" lengthAdjust="spacingAndGlyphs" font-weight="bold" fill="#3a86d0" stroke="#3a86d0" stroke-width="0.2">PC</text>
<circle cx="69.45" cy="87.10" r="3.15" fill="#000"/>
<circle cx="75.90" cy="87.10" r="3.15" fill="#000"/>
<circle cx="82.35" cy="87.10" r="2.70" fill="#fff" stroke="#000" stroke-width="0.9"/>
<circle cx="88.80" cy="87.10" r="2.70" fill="#fff" stroke="#000" stroke-width="0.9"/>
<circle cx="69.45" cy="95.70" r="3.15" fill="#3a86d0"/>
<circle cx="75.90" cy="95.70" r="3.15" fill="#3a86d0"/>
<circle cx="82.35" cy="95.70" r="3.15" fill="#3a86d0"/>
<circle cx="88.80" cy="95.70" r="2.70" fill="#fff" stroke="#000" stroke-width="0.9"/>
<text x="93.40" y="94.10" font-size="8.2" textLength="49.5" lengthAdjust="spacingAndGlyphs" stroke="#000" stroke-width="0.2">Oxaloacetate</text>
<path d="M137.5,88.2 C147,85.8 156,85.6 164,86.3" fill="none" stroke="#000" stroke-width="1.3"/>
<polygon points="171.00,86.60 163.55,90.16 163.86,82.46" fill="#000"/>
<path d="M151.1,75.5 C151.3,82 154,85.6 160,86" fill="none" stroke="#000" stroke-width="1.3"/>
<text x="180.00" y="94.10" font-size="8.2" textLength="24.4" lengthAdjust="spacingAndGlyphs" stroke="#000" stroke-width="0.2">Citrate</text>
<circle cx="176.15" cy="100.40" r="3.15" fill="#000"/>
<circle cx="182.53" cy="100.40" r="3.15" fill="#000"/>
<circle cx="188.91" cy="100.40" r="2.70" fill="#fff" stroke="#000" stroke-width="0.9"/>
<circle cx="195.29" cy="100.40" r="2.70" fill="#fff" stroke="#000" stroke-width="0.9"/>
<circle cx="201.67" cy="100.40" r="2.70" fill="#fff" stroke="#000" stroke-width="0.9"/>
<circle cx="208.05" cy="100.40" r="2.70" fill="#fff" stroke="#000" stroke-width="0.9"/>
<path d="M207.84,110.71 A74,74 0 0 1 220.94,133.43" fill="none" stroke="#000" stroke-width="1.3"/>
<polygon points="222.70,139.00 216.83,133.20 224.18,130.88" fill="#000"/>
<polygon points="203.90,106.40 211.67,109.19 205.99,114.39" fill="#000"/>
<text x="196.90" y="149.70" font-size="8.2" textLength="57.4" lengthAdjust="spacingAndGlyphs" stroke="#000" stroke-width="0.2">α-Ketoglutarate</text>
<circle cx="210.75" cy="158.10" r="3.15" fill="#000"/>
<circle cx="217.05" cy="158.10" r="3.15" fill="#000"/>
<circle cx="223.35" cy="158.10" r="2.70" fill="#fff" stroke="#000" stroke-width="0.9"/>
<circle cx="229.65" cy="158.10" r="2.70" fill="#fff" stroke="#000" stroke-width="0.9"/>
<circle cx="235.95" cy="158.10" r="2.70" fill="#fff" stroke="#000" stroke-width="0.9"/>
<path d="M223.20,170.10 A74,74 0 0 1 210.10,198.28" fill="none" stroke="#000" stroke-width="1.3"/>
<polygon points="206.40,202.80 208.05,194.71 214.00,199.59" fill="#000"/>
<text x="183.00" y="211.70" font-size="8.2" textLength="35.9" lengthAdjust="spacingAndGlyphs" stroke="#000" stroke-width="0.2">Succinate</text>
<circle cx="191.65" cy="216.80" r="3.15" fill="#000"/>
<circle cx="197.95" cy="216.80" r="3.15" fill="#000"/>
<circle cx="204.25" cy="216.80" r="2.70" fill="#fff" stroke="#000" stroke-width="0.9"/>
<circle cx="210.55" cy="216.80" r="2.70" fill="#fff" stroke="#000" stroke-width="0.9"/>
<path d="M179.80,222.30 A84,84 0 0 1 134.01,227.10" fill="none" stroke="#000" stroke-width="1.3"/>
<polygon points="128.30,225.90 136.24,223.64 134.65,231.17" fill="#000"/>
<text x="147.90" y="238.80" font-size="8.2" textLength="16.3" lengthAdjust="spacingAndGlyphs" font-weight="bold" stroke="#000" stroke-width="0.2">SDH</text>
<text x="92.10" y="211.70" font-size="8.2" textLength="35.2" lengthAdjust="spacingAndGlyphs" stroke="#000" stroke-width="0.2">Fumarate</text>
<circle cx="100.85" cy="217.80" r="3.15" fill="#000"/>
<circle cx="107.15" cy="217.80" r="3.15" fill="#000"/>
<circle cx="113.45" cy="217.80" r="2.70" fill="#fff" stroke="#000" stroke-width="0.9"/>
<circle cx="119.75" cy="217.80" r="2.70" fill="#fff" stroke="#000" stroke-width="0.9"/>
<circle cx="100.85" cy="226.90" r="3.15" fill="#3a86d0"/>
<circle cx="107.15" cy="226.90" r="3.15" fill="#3a86d0"/>
<circle cx="113.45" cy="226.90" r="3.15" fill="#3a86d0"/>
<circle cx="119.75" cy="226.90" r="2.70" fill="#fff" stroke="#000" stroke-width="0.9"/>
<path d="M92.94,197.60 A74,74 0 0 1 83.62,178.24" fill="none" stroke="#000" stroke-width="1.3"/>
<polygon points="82.10,172.60 87.72,178.64 80.28,180.65" fill="#000"/>
<polygon points="96.40,202.30 88.97,198.70 95.18,194.14" fill="#000"/>
<text x="99.40" y="183.40" font-size="8.2" textLength="10.3" lengthAdjust="spacingAndGlyphs" font-weight="bold" stroke="#000" stroke-width="0.2">FH</text>
<text x="70.00" y="149.70" font-size="8.2" textLength="25.1" lengthAdjust="spacingAndGlyphs" stroke="#000" stroke-width="0.2">Malate</text>
<circle cx="73.15" cy="156.10" r="3.15" fill="#000"/>
<circle cx="79.45" cy="156.10" r="3.15" fill="#000"/>
<circle cx="85.75" cy="156.10" r="2.70" fill="#fff" stroke="#000" stroke-width="0.9"/>
<circle cx="92.05" cy="156.10" r="2.70" fill="#fff" stroke="#000" stroke-width="0.9"/>
<circle cx="73.15" cy="165.60" r="3.15" fill="#3a86d0"/>
<circle cx="79.45" cy="165.60" r="3.15" fill="#3a86d0"/>
<circle cx="85.75" cy="165.60" r="3.15" fill="#3a86d0"/>
<circle cx="92.05" cy="165.60" r="2.70" fill="#fff" stroke="#000" stroke-width="0.9"/>
<path d="M83.82,134.72 A74,74 0 0 1 103.27,105.10" fill="none" stroke="#000" stroke-width="1.3"/>
<polygon points="107.70,101.30 104.66,108.97 99.65,103.13" fill="#000"/>
<polygon points="82.10,140.30 80.58,132.19 87.93,134.46" fill="#000"/>
</g>
</g>
<circle cx="184.70" cy="831.40" r="4.35" fill="#d04a4c" stroke="#8a2323" stroke-width="0.9"/>
<text x="184.20" y="844.40" font-size="5.8" text-anchor="middle" fill="#222">ZY444</text>
<path d="M190.1,827.1 C194.5,823.2 203.5,822.6 208.5,832.6" fill="none" stroke="#222" stroke-width="0.9"/>
<line x1="206.10" y1="834.20" x2="210.90" y2="830.90" stroke="#222" stroke-width="0.9"/>
<text x="337.20" y="816.20" font-size="14" font-weight="bold">N</text>
<text x="434.60" y="781.80" font-size="8.85" text-anchor="middle" font-weight="bold">MDA-MB-231</text>
<text x="366.00" y="795.00" font-size="8.8" font-weight="bold">ZY444 (μM)</text>
<rect x="416.80" y="788.80" width="9.60" height="4.30" fill="#068c8c" stroke="#000" stroke-width="1.2"/>
<text x="428.60" y="793.70" font-size="9.1" class="t">0</text>
<rect x="440.00" y="788.80" width="9.40" height="4.30" fill="#73d2f7" stroke="#000" stroke-width="1.2"/>
<text x="452.20" y="793.70" font-size="9.1" class="t">1</text>
<rect x="463.40" y="788.80" width="9.40" height="4.30" fill="#be88f5" stroke="#000" stroke-width="1.2"/>
<text x="475.60" y="793.70" font-size="9.1" class="t">1.5</text>
<rect x="492.30" y="788.80" width="9.40" height="4.30" fill="#ff2d78" stroke="#000" stroke-width="1.2"/>
<text x="504.30" y="793.70" font-size="9.1" class="t">2</text>
<line x1="373.00" y1="830.00" x2="373.00" y2="949.85" stroke="#000" stroke-width="1.3"/>
<line x1="372.35" y1="949.20" x2="507.60" y2="949.20" stroke="#000" stroke-width="1.3"/>
<line x1="367.60" y1="949.20" x2="373.00" y2="949.20" stroke="#000" stroke-width="1.25"/>
<text x="366.40" y="952.40" font-size="9.3" text-anchor="end" class="t">0</text>
<line x1="369.80" y1="937.33" x2="373.00" y2="937.33" stroke="#000" stroke-width="1.2"/>
<line x1="367.60" y1="925.46" x2="373.00" y2="925.46" stroke="#000" stroke-width="1.25"/>
<text x="366.40" y="928.66" font-size="9.3" text-anchor="end" class="t">20</text>
<line x1="369.80" y1="913.59" x2="373.00" y2="913.59" stroke="#000" stroke-width="1.2"/>
<line x1="367.60" y1="901.72" x2="373.00" y2="901.72" stroke="#000" stroke-width="1.25"/>
<text x="366.40" y="904.92" font-size="9.3" text-anchor="end" class="t">40</text>
<line x1="369.80" y1="889.85" x2="373.00" y2="889.85" stroke="#000" stroke-width="1.2"/>
<line x1="367.60" y1="877.98" x2="373.00" y2="877.98" stroke="#000" stroke-width="1.25"/>
<text x="366.40" y="881.18" font-size="9.3" text-anchor="end" class="t">60</text>
<line x1="369.80" y1="866.11" x2="373.00" y2="866.11" stroke="#000" stroke-width="1.2"/>
<line x1="367.60" y1="854.24" x2="373.00" y2="854.24" stroke="#000" stroke-width="1.25"/>
<text x="366.40" y="857.44" font-size="9.3" text-anchor="end" class="t">80</text>
<line x1="369.80" y1="842.37" x2="373.00" y2="842.37" stroke="#000" stroke-width="1.2"/>
<line x1="367.60" y1="830.50" x2="373.00" y2="830.50" stroke="#000" stroke-width="1.25"/>
<text x="366.40" y="833.70" font-size="9.3" text-anchor="end" class="t">100</text>
<text x="344.20" y="888.70" font-size="8.3" text-anchor="middle" transform="rotate(-90 344.20 888.70)" class="t">Healthy % (Ann V-/PI-)</text>
<rect x="376.85" y="844.39" width="5.50" height="104.81" fill="#068c8c" stroke="#000" stroke-width="1.0"/>
<line x1="379.60" y1="843.20" x2="379.60" y2="845.57" stroke="#000" stroke-width="0.85"/>
<line x1="377.60" y1="843.20" x2="381.60" y2="843.20" stroke="#000" stroke-width="0.85"/>
<line x1="377.60" y1="845.57" x2="381.60" y2="845.57" stroke="#000" stroke-width="0.85"/>
<circle cx="378.40" cy="842.96" r="1.95" fill="#fff" stroke="#000" stroke-width="0.95"/>
<circle cx="380.10" cy="843.56" r="1.95" fill="#fff" stroke="#000" stroke-width="0.95"/>
<circle cx="381.10" cy="844.74" r="1.95" fill="#fff" stroke="#000" stroke-width="0.95"/>
<rect x="386.35" y="861.60" width="5.50" height="87.60" fill="#73d2f7" stroke="#000" stroke-width="1.0"/>
<line x1="389.10" y1="856.26" x2="389.10" y2="866.94" stroke="#000" stroke-width="0.85"/>
<line x1="387.10" y1="856.26" x2="391.10" y2="856.26" stroke="#000" stroke-width="0.85"/>
<line x1="387.10" y1="866.94" x2="391.10" y2="866.94" stroke="#000" stroke-width="0.85"/>
<circle cx="389.10" cy="851.87" r="1.95" fill="#fff" stroke="#000" stroke-width="0.95"/>
<circle cx="389.10" cy="862.79" r="1.95" fill="#fff" stroke="#000" stroke-width="0.95"/>
<circle cx="389.10" cy="870.50" r="1.95" fill="#fff" stroke="#000" stroke-width="0.95"/>
<rect x="395.75" y="865.16" width="5.50" height="84.04" fill="#be88f5" stroke="#000" stroke-width="1.0"/>
<line x1="398.50" y1="860.41" x2="398.50" y2="869.91" stroke="#000" stroke-width="0.85"/>
<line x1="396.50" y1="860.41" x2="400.50" y2="860.41" stroke="#000" stroke-width="0.85"/>
<line x1="396.50" y1="869.91" x2="400.50" y2="869.91" stroke="#000" stroke-width="0.85"/>
<circle cx="398.50" cy="857.33" r="1.95" fill="#fff" stroke="#000" stroke-width="0.95"/>
<circle cx="398.50" cy="866.11" r="1.95" fill="#fff" stroke="#000" stroke-width="0.95"/>
<circle cx="398.50" cy="872.76" r="1.95" fill="#fff" stroke="#000" stroke-width="0.95"/>
<rect x="405.65" y="870.74" width="5.50" height="78.46" fill="#ff2d78" stroke="#000" stroke-width="1.0"/>
<line x1="408.40" y1="865.75" x2="408.40" y2="875.72" stroke="#000" stroke-width="0.85"/>
<line x1="406.40" y1="865.75" x2="410.40" y2="865.75" stroke="#000" stroke-width="0.85"/>
<line x1="406.40" y1="875.72" x2="410.40" y2="875.72" stroke="#000" stroke-width="0.85"/>
<circle cx="408.40" cy="861.12" r="1.95" fill="#fff" stroke="#000" stroke-width="0.95"/>
<circle cx="406.80" cy="874.89" r="1.95" fill="#fff" stroke="#000" stroke-width="0.95"/>
<circle cx="410.00" cy="874.89" r="1.95" fill="#fff" stroke="#000" stroke-width="0.95"/>
<rect x="421.95" y="847.12" width="5.50" height="102.08" fill="#068c8c" stroke="#000" stroke-width="1.0"/>
<line x1="424.70" y1="842.96" x2="424.70" y2="851.27" stroke="#000" stroke-width="0.85"/>
<line x1="422.70" y1="842.96" x2="426.70" y2="842.96" stroke="#000" stroke-width="0.85"/>
<line x1="422.70" y1="851.27" x2="426.70" y2="851.27" stroke="#000" stroke-width="0.85"/>
<circle cx="424.70" cy="840.35" r="1.95" fill="#fff" stroke="#000" stroke-width="0.95"/>
<circle cx="424.70" cy="847.47" r="1.95" fill="#fff" stroke="#000" stroke-width="0.95"/>
<circle cx="424.70" cy="851.87" r="1.95" fill="#fff" stroke="#000" stroke-width="0.95"/>
<rect x="431.55" y="853.53" width="5.50" height="95.67" fill="#73d2f7" stroke="#000" stroke-width="1.0"/>
<line x1="434.30" y1="847.59" x2="434.30" y2="859.46" stroke="#000" stroke-width="0.85"/>
<line x1="432.30" y1="847.59" x2="436.30" y2="847.59" stroke="#000" stroke-width="0.85"/>
<line x1="432.30" y1="859.46" x2="436.30" y2="859.46" stroke="#000" stroke-width="0.85"/>
<circle cx="434.30" cy="844.86" r="1.95" fill="#fff" stroke="#000" stroke-width="0.95"/>
<circle cx="434.30" cy="851.87" r="1.95" fill="#fff" stroke="#000" stroke-width="0.95"/>
<circle cx="434.30" cy="863.97" r="1.95" fill="#fff" stroke="#000" stroke-width="0.95"/>
<rect x="441.25" y="859.11" width="5.50" height="90.09" fill="#be88f5" stroke="#000" stroke-width="1.0"/>
<line x1="444.00" y1="850.80" x2="444.00" y2="867.42" stroke="#000" stroke-width="0.85"/>
<line x1="442.00" y1="850.80" x2="446.00" y2="850.80" stroke="#000" stroke-width="0.85"/>
<line x1="442.00" y1="867.42" x2="446.00" y2="867.42" stroke="#000" stroke-width="0.85"/>
<circle cx="442.40" cy="850.44" r="1.95" fill="#fff" stroke="#000" stroke-width="0.95"/>
<circle cx="445.60" cy="850.68" r="1.95" fill="#fff" stroke="#000" stroke-width="0.95"/>
<circle cx="444.00" cy="874.89" r="1.95" fill="#fff" stroke="#000" stroke-width="0.95"/>
<rect x="450.85" y="891.51" width="5.50" height="57.69" fill="#ff2d78" stroke="#000" stroke-width="1.0"/>
<line x1="453.60" y1="883.20" x2="453.60" y2="899.82" stroke="#000" stroke-width="0.85"/>
<line x1="451.60" y1="883.20" x2="455.60" y2="883.20" stroke="#000" stroke-width="0.85"/>
<line x1="451.60" y1="899.82" x2="455.60" y2="899.82" stroke="#000" stroke-width="0.85"/>
<circle cx="453.60" cy="875.96" r="1.95" fill="#fff" stroke="#000" stroke-width="0.95"/>
<circle cx="453.60" cy="893.53" r="1.95" fill="#fff" stroke="#000" stroke-width="0.95"/>
<circle cx="453.60" cy="904.45" r="1.95" fill="#fff" stroke="#000" stroke-width="0.95"/>
<rect x="466.85" y="852.10" width="5.50" height="97.10" fill="#068c8c" stroke="#000" stroke-width="1.0"/>
<line x1="469.60" y1="847.95" x2="469.60" y2="856.26" stroke="#000" stroke-width="0.85"/>
<line x1="467.60" y1="847.95" x2="471.60" y2="847.95" stroke="#000" stroke-width="0.85"/>
<line x1="467.60" y1="856.26" x2="471.60" y2="856.26" stroke="#000" stroke-width="0.85"/>
<circle cx="469.60" cy="844.86" r="1.95" fill="#fff" stroke="#000" stroke-width="0.95"/>
<circle cx="469.60" cy="851.87" r="1.95" fill="#fff" stroke="#000" stroke-width="0.95"/>
<circle cx="469.60" cy="857.33" r="1.95" fill="#fff" stroke="#000" stroke-width="0.95"/>
<rect x="476.55" y="865.99" width="5.50" height="83.21" fill="#73d2f7" stroke="#000" stroke-width="1.0"/>
<line x1="479.30" y1="858.28" x2="479.30" y2="873.71" stroke="#000" stroke-width="0.85"/>
<line x1="477.30" y1="858.28" x2="481.30" y2="858.28" stroke="#000" stroke-width="0.85"/>
<line x1="477.30" y1="873.71" x2="481.30" y2="873.71" stroke="#000" stroke-width="0.85"/>
<circle cx="479.30" cy="855.90" r="1.95" fill="#fff" stroke="#000" stroke-width="0.95"/>
<circle cx="479.30" cy="857.80" r="1.95" fill="#fff" stroke="#000" stroke-width="0.95"/>
<circle cx="479.30" cy="880.83" r="1.95" fill="#fff" stroke="#000" stroke-width="0.95"/>
<rect x="486.15" y="874.06" width="5.50" height="75.14" fill="#be88f5" stroke="#000" stroke-width="1.0"/>
<line x1="488.90" y1="866.94" x2="488.90" y2="881.18" stroke="#000" stroke-width="0.85"/>
<line x1="486.90" y1="866.94" x2="490.90" y2="866.94" stroke="#000" stroke-width="0.85"/>
<line x1="486.90" y1="881.18" x2="490.90" y2="881.18" stroke="#000" stroke-width="0.85"/>
<circle cx="488.90" cy="861.12" r="1.95" fill="#fff" stroke="#000" stroke-width="0.95"/>
<circle cx="488.90" cy="875.96" r="1.95" fill="#fff" stroke="#000" stroke-width="0.95"/>
<circle cx="488.90" cy="885.81" r="1.95" fill="#fff" stroke="#000" stroke-width="0.95"/>
<rect x="495.95" y="902.55" width="5.50" height="46.65" fill="#ff2d78" stroke="#000" stroke-width="1.0"/>
<line x1="498.70" y1="893.65" x2="498.70" y2="911.45" stroke="#000" stroke-width="0.85"/>
<line x1="496.70" y1="893.65" x2="500.70" y2="893.65" stroke="#000" stroke-width="0.85"/>
<line x1="496.70" y1="911.45" x2="500.70" y2="911.45" stroke="#000" stroke-width="0.85"/>
<circle cx="498.70" cy="885.46" r="1.95" fill="#fff" stroke="#000" stroke-width="0.95"/>
<circle cx="498.70" cy="907.65" r="1.95" fill="#fff" stroke="#000" stroke-width="0.95"/>
<circle cx="498.70" cy="912.76" r="1.95" fill="#fff" stroke="#000" stroke-width="0.95"/>
<line x1="374.90" y1="953.90" x2="411.40" y2="953.90" stroke="#000" stroke-width="1.0"/>
<line x1="421.50" y1="953.90" x2="458.00" y2="953.90" stroke="#000" stroke-width="1.0"/>
<line x1="466.40" y1="953.90" x2="503.00" y2="953.90" stroke="#000" stroke-width="1.0"/>
<text x="393.80" y="966.50" font-size="8.6" text-anchor="middle" class="t">0</text>
<text x="439.00" y="966.50" font-size="8.6" text-anchor="middle" class="t">10</text>
<text x="484.20" y="966.50" font-size="8.6" text-anchor="middle" class="t">20</text>
<line x1="375.80" y1="971.40" x2="502.60" y2="971.40" stroke="#000" stroke-width="1.0"/>
<text x="434.90" y="981.80" font-size="8.85" text-anchor="middle" font-weight="bold">BAS-2 (μM)</text>
<path d="M379.4,813.6 V809.4 H468.7 V819.9" fill="none" stroke="#000" stroke-width="1.0"/>
<text x="403.60" y="805.60" font-size="8.6" class="t"><tspan font-style="italic">p</tspan> = 0.3953</text>
<path d="M379.4,838.2 V824.4 H408.5 V829.6" fill="none" stroke="#000" stroke-width="1.0"/>
<text x="373.00" y="819.50" font-size="8.6" class="t"><tspan font-style="italic">p</tspan> = 0.0060</text>
<path d="M407.1,855.4 V834.1 H498.7 V881.8" fill="none" stroke="#000" stroke-width="1.0"/>
<text x="435.40" y="829.70" font-size="8.6" class="t"><tspan font-style="italic">p</tspan> = 0.0014</text>
<text x="513.40" y="816.20" font-size="14" font-weight="bold">O</text>
<text x="615.70" y="781.80" font-size="8.85" text-anchor="middle" font-weight="bold">BT-549</text>
<text x="538.00" y="794.30" font-size="8.8" font-weight="bold">ZY444 (μM)</text>
<rect x="588.70" y="787.55" width="9.60" height="4.80" fill="#04a4a6" stroke="#000" stroke-width="1.2"/>
<text x="600.90" y="793.00" font-size="9.1" class="t">0</text>
<rect x="612.00" y="787.55" width="9.30" height="4.80" fill="#96dcfa" stroke="#000" stroke-width="1.2"/>
<text x="624.60" y="793.00" font-size="9.1" class="t">0.5</text>
<rect x="640.40" y="787.55" width="9.50" height="4.80" fill="#cda6f6" stroke="#000" stroke-width="1.2"/>
<text x="652.50" y="793.00" font-size="9.1" class="t">1</text>
<rect x="661.50" y="787.55" width="9.50" height="4.80" fill="#ff5590" stroke="#000" stroke-width="1.2"/>
<text x="673.60" y="793.00" font-size="9.1" class="t">2</text>
<line x1="550.80" y1="830.00" x2="550.80" y2="949.85" stroke="#000" stroke-width="1.3"/>
<line x1="550.15" y1="949.20" x2="686.00" y2="949.20" stroke="#000" stroke-width="1.3"/>
<line x1="545.40" y1="949.20" x2="550.80" y2="949.20" stroke="#000" stroke-width="1.25"/>
<text x="544.20" y="952.40" font-size="9.3" text-anchor="end" class="t">0</text>
<line x1="547.60" y1="937.33" x2="550.80" y2="937.33" stroke="#000" stroke-width="1.2"/>
<line x1="545.40" y1="925.46" x2="550.80" y2="925.46" stroke="#000" stroke-width="1.25"/>
<text x="544.20" y="928.66" font-size="9.3" text-anchor="end" class="t">20</text>
<line x1="547.60" y1="913.59" x2="550.80" y2="913.59" stroke="#000" stroke-width="1.2"/>
<line x1="545.40" y1="901.72" x2="550.80" y2="901.72" stroke="#000" stroke-width="1.25"/>
<text x="544.20" y="904.92" font-size="9.3" text-anchor="end" class="t">40</text>
<line x1="547.60" y1="889.85" x2="550.80" y2="889.85" stroke="#000" stroke-width="1.2"/>
<line x1="545.40" y1="877.98" x2="550.80" y2="877.98" stroke="#000" stroke-width="1.25"/>
<text x="544.20" y="881.18" font-size="9.3" text-anchor="end" class="t">60</text>
<line x1="547.60" y1="866.11" x2="550.80" y2="866.11" stroke="#000" stroke-width="1.2"/>
<line x1="545.40" y1="854.24" x2="550.80" y2="854.24" stroke="#000" stroke-width="1.25"/>
<text x="544.20" y="857.44" font-size="9.3" text-anchor="end" class="t">80</text>
<line x1="547.60" y1="842.37" x2="550.80" y2="842.37" stroke="#000" stroke-width="1.2"/>
<line x1="545.40" y1="830.50" x2="550.80" y2="830.50" stroke="#000" stroke-width="1.25"/>
<text x="544.20" y="833.70" font-size="9.3" text-anchor="end" class="t">100</text>
<text x="527.60" y="888.70" font-size="8.3" text-anchor="middle" transform="rotate(-90 527.60 888.70)" class="t">Healthy % (Ann V-/PI-)</text>
<rect x="554.85" y="853.53" width="5.50" height="95.67" fill="#089c9e" stroke="#000" stroke-width="1.0"/>
<line x1="557.60" y1="851.15" x2="557.60" y2="855.90" stroke="#000" stroke-width="0.85"/>
<line x1="555.60" y1="851.15" x2="559.60" y2="851.15" stroke="#000" stroke-width="0.85"/>
<line x1="555.60" y1="855.90" x2="559.60" y2="855.90" stroke="#000" stroke-width="0.85"/>
<circle cx="557.60" cy="848.66" r="1.95" fill="#fff" stroke="#000" stroke-width="0.95"/>
<circle cx="556.00" cy="853.05" r="1.95" fill="#fff" stroke="#000" stroke-width="0.95"/>
<circle cx="559.20" cy="852.82" r="1.95" fill="#fff" stroke="#000" stroke-width="0.95"/>
<rect x="564.25" y="856.85" width="5.50" height="92.35" fill="#a0defa" stroke="#000" stroke-width="1.0"/>
<line x1="567.00" y1="852.70" x2="567.00" y2="861.01" stroke="#000" stroke-width="0.85"/>
<line x1="565.00" y1="852.70" x2="569.00" y2="852.70" stroke="#000" stroke-width="0.85"/>
<line x1="565.00" y1="861.01" x2="569.00" y2="861.01" stroke="#000" stroke-width="0.85"/>
<circle cx="567.00" cy="848.66" r="1.95" fill="#fff" stroke="#000" stroke-width="0.95"/>
<circle cx="565.50" cy="858.28" r="1.95" fill="#fff" stroke="#000" stroke-width="0.95"/>
<circle cx="568.50" cy="857.56" r="1.95" fill="#fff" stroke="#000" stroke-width="0.95"/>
<rect x="573.95" y="860.41" width="5.50" height="88.79" fill="#cda6f6" stroke="#000" stroke-width="1.0"/>
<line x1="576.70" y1="858.04" x2="576.70" y2="862.79" stroke="#000" stroke-width="0.85"/>
<line x1="574.70" y1="858.04" x2="578.70" y2="858.04" stroke="#000" stroke-width="0.85"/>
<line x1="574.70" y1="862.79" x2="578.70" y2="862.79" stroke="#000" stroke-width="0.85"/>
<circle cx="575.20" cy="858.51" r="1.95" fill="#fff" stroke="#000" stroke-width="0.95"/>
<circle cx="578.20" cy="858.51" r="1.95" fill="#fff" stroke="#000" stroke-width="0.95"/>
<circle cx="576.70" cy="862.79" r="1.95" fill="#fff" stroke="#000" stroke-width="0.95"/>
<rect x="583.75" y="867.42" width="5.50" height="81.78" fill="#ff5590" stroke="#000" stroke-width="1.0"/>
<line x1="586.50" y1="858.51" x2="586.50" y2="876.32" stroke="#000" stroke-width="0.85"/>
<line x1="584.50" y1="858.51" x2="588.50" y2="858.51" stroke="#000" stroke-width="0.85"/>
<line x1="584.50" y1="876.32" x2="588.50" y2="876.32" stroke="#000" stroke-width="0.85"/>
<circle cx="586.50" cy="857.33" r="1.95" fill="#fff" stroke="#000" stroke-width="0.95"/>
<circle cx="586.50" cy="877.03" r="1.95" fill="#fff" stroke="#000" stroke-width="0.95"/>
<rect x="599.65" y="858.28" width="5.50" height="90.92" fill="#089c9e" stroke="#000" stroke-width="1.0"/>
<line x1="602.40" y1="853.53" x2="602.40" y2="863.02" stroke="#000" stroke-width="0.85"/>
<line x1="600.40" y1="853.53" x2="604.40" y2="853.53" stroke="#000" stroke-width="0.85"/>
<line x1="600.40" y1="863.02" x2="604.40" y2="863.02" stroke="#000" stroke-width="0.85"/>
<circle cx="600.80" cy="853.05" r="1.95" fill="#fff" stroke="#000" stroke-width="0.95"/>
<circle cx="604.00" cy="853.05" r="1.95" fill="#fff" stroke="#000" stroke-width="0.95"/>
<circle cx="602.40" cy="865.04" r="1.95" fill="#fff" stroke="#000" stroke-width="0.95"/>
<rect x="609.25" y="856.02" width="5.50" height="93.18" fill="#a0defa" stroke="#000" stroke-width="1.0"/>
<line x1="612.00" y1="854.60" x2="612.00" y2="857.44" stroke="#000" stroke-width="0.85"/>
<line x1="610.00" y1="854.60" x2="614.00" y2="854.60" stroke="#000" stroke-width="0.85"/>
<line x1="610.00" y1="857.44" x2="614.00" y2="857.44" stroke="#000" stroke-width="0.85"/>
<circle cx="610.50" cy="853.65" r="1.95" fill="#fff" stroke="#000" stroke-width="0.95"/>
<circle cx="613.50" cy="853.65" r="1.95" fill="#fff" stroke="#000" stroke-width="0.95"/>
<circle cx="612.00" cy="855.78" r="1.95" fill="#fff" stroke="#000" stroke-width="0.95"/>
<rect x="618.95" y="856.85" width="5.50" height="92.35" fill="#cda6f6" stroke="#000" stroke-width="1.0"/>
<line x1="621.70" y1="854.24" x2="621.70" y2="859.46" stroke="#000" stroke-width="0.85"/>
<line x1="619.70" y1="854.24" x2="623.70" y2="854.24" stroke="#000" stroke-width="0.85"/>
<line x1="619.70" y1="859.46" x2="623.70" y2="859.46" stroke="#000" stroke-width="0.85"/>
<circle cx="620.50" cy="853.05" r="1.95" fill="#fff" stroke="#000" stroke-width="0.95"/>
<circle cx="622.70" cy="856.26" r="1.95" fill="#fff" stroke="#000" stroke-width="0.95"/>
<circle cx="622.70" cy="858.51" r="1.95" fill="#fff" stroke="#000" stroke-width="0.95"/>
<rect x="628.85" y="921.19" width="5.50" height="28.01" fill="#ff5590" stroke="#000" stroke-width="1.0"/>
<line x1="631.60" y1="917.63" x2="631.60" y2="924.75" stroke="#000" stroke-width="0.85"/>
<line x1="629.60" y1="917.63" x2="633.60" y2="917.63" stroke="#000" stroke-width="0.85"/>
<line x1="629.60" y1="924.75" x2="633.60" y2="924.75" stroke="#000" stroke-width="0.85"/>
<circle cx="631.60" cy="916.56" r="1.95" fill="#fff" stroke="#000" stroke-width="0.95"/>
<circle cx="631.60" cy="923.68" r="1.95" fill="#fff" stroke="#000" stroke-width="0.95"/>
<rect x="644.95" y="858.75" width="5.50" height="90.45" fill="#089c9e" stroke="#000" stroke-width="1.0"/>
<line x1="647.70" y1="853.41" x2="647.70" y2="864.09" stroke="#000" stroke-width="0.85"/>
<line x1="645.70" y1="853.41" x2="649.70" y2="853.41" stroke="#000" stroke-width="0.85"/>
<line x1="645.70" y1="864.09" x2="649.70" y2="864.09" stroke="#000" stroke-width="0.85"/>
<circle cx="646.30" cy="852.58" r="1.95" fill="#fff" stroke="#000" stroke-width="0.95"/>
<circle cx="648.90" cy="856.26" r="1.95" fill="#fff" stroke="#000" stroke-width="0.95"/>
<circle cx="647.70" cy="867.30" r="1.95" fill="#fff" stroke="#000" stroke-width="0.95"/>
<rect x="654.65" y="865.99" width="5.50" height="83.21" fill="#a0defa" stroke="#000" stroke-width="1.0"/>
<line x1="657.40" y1="863.62" x2="657.40" y2="868.37" stroke="#000" stroke-width="0.85"/>
<line x1="655.40" y1="863.62" x2="659.40" y2="863.62" stroke="#000" stroke-width="0.85"/>
<line x1="655.40" y1="868.37" x2="659.40" y2="868.37" stroke="#000" stroke-width="0.85"/>
<circle cx="655.90" cy="863.97" r="1.95" fill="#fff" stroke="#000" stroke-width="0.95"/>
<circle cx="658.90" cy="863.97" r="1.95" fill="#fff" stroke="#000" stroke-width="0.95"/>
<circle cx="657.40" cy="869.43" r="1.95" fill="#fff" stroke="#000" stroke-width="0.95"/>
<rect x="664.25" y="867.06" width="5.50" height="82.14" fill="#cda6f6" stroke="#000" stroke-width="1.0"/>
<line x1="667.00" y1="864.45" x2="667.00" y2="869.67" stroke="#000" stroke-width="0.85"/>
<line x1="665.00" y1="864.45" x2="669.00" y2="864.45" stroke="#000" stroke-width="0.85"/>
<line x1="665.00" y1="869.67" x2="669.00" y2="869.67" stroke="#000" stroke-width="0.85"/>
<circle cx="665.50" cy="864.57" r="1.95" fill="#fff" stroke="#000" stroke-width="0.95"/>
<circle cx="668.50" cy="864.57" r="1.95" fill="#fff" stroke="#000" stroke-width="0.95"/>
<circle cx="667.00" cy="870.50" r="1.95" fill="#fff" stroke="#000" stroke-width="0.95"/>
<rect x="673.95" y="928.07" width="5.50" height="21.13" fill="#ff5590" stroke="#000" stroke-width="1.0"/>
<line x1="676.70" y1="925.70" x2="676.70" y2="930.45" stroke="#000" stroke-width="0.85"/>
<line x1="674.70" y1="925.70" x2="678.70" y2="925.70" stroke="#000" stroke-width="0.85"/>
<line x1="674.70" y1="930.45" x2="678.70" y2="930.45" stroke="#000" stroke-width="0.85"/>
<circle cx="676.70" cy="925.93" r="1.95" fill="#fff" stroke="#000" stroke-width="0.95"/>
<circle cx="676.70" cy="929.61" r="1.95" fill="#fff" stroke="#000" stroke-width="0.95"/>
<line x1="552.50" y1="953.90" x2="589.70" y2="953.90" stroke="#000" stroke-width="1.0"/>
<line x1="599.20" y1="953.90" x2="635.70" y2="953.90" stroke="#000" stroke-width="1.0"/>
<line x1="644.50" y1="953.90" x2="681.30" y2="953.90" stroke="#000" stroke-width="1.0"/>
<text x="570.70" y="966.50" font-size="8.6" text-anchor="middle" class="t">0</text>
<text x="616.20" y="966.50" font-size="8.6" text-anchor="middle" class="t">1</text>
<text x="662.30" y="966.50" font-size="8.6" text-anchor="middle" class="t">10</text>
<line x1="553.30" y1="971.40" x2="686.00" y2="971.40" stroke="#000" stroke-width="1.0"/>
<text x="617.90" y="981.80" font-size="8.85" text-anchor="middle" font-weight="bold">BAS-2 (μM)</text>
<path d="M556.6,820.6 V816.6 H602.6 V829.1" fill="none" stroke="#000" stroke-width="1.0"/>
<text x="561.60" y="812.50" font-size="8.6" class="t"><tspan font-style="italic">p</tspan> = 0.5041</text>
<path d="M556.6,845.7 V830.5 H586.5 V836.6" fill="none" stroke="#000" stroke-width="1.0"/>
<text x="554.10" y="826.40" font-size="8.6" class="t"><tspan font-style="italic">p</tspan> = 0.0526</text>
<path d="M586.0,854.1 V841.0 H631.5 V912.9" fill="none" stroke="#000" stroke-width="1.0"/>
<text x="591.50" y="836.70" font-size="8.6" class="t"><tspan font-style="italic">p</tspan> &lt; 0.0001</text>
</svg>
</body></html>
